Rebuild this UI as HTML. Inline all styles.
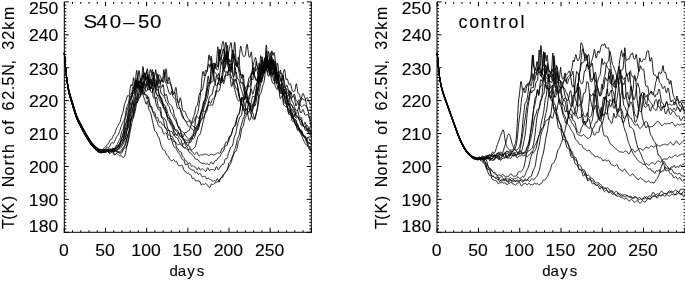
<!DOCTYPE html>
<html><head><meta charset="utf-8"><style>
html,body{margin:0;padding:0;background:#fff;width:685px;height:281px;overflow:hidden}
svg{display:block}
text{fill:#000;stroke:#000;stroke-width:0.12px}
svg{will-change:transform}
</style></head><body>
<svg width="685" height="281" viewBox="0 0 685 281" style="font-family:'Liberation Sans',sans-serif" shape-rendering="auto">
<line x1="64.30" y1="1.90" x2="64.30" y2="232.80" stroke="#000" stroke-width="1"/>
<line x1="63.80" y1="232.30" x2="311.80" y2="232.30" stroke="#000" stroke-width="1"/>
<line x1="311.30" y1="1.90" x2="311.30" y2="232.30" stroke="#000" stroke-width="1"/>
<line x1="64.30" y1="232.30" x2="68.80" y2="232.30" stroke="#000" stroke-width="1"/>
<line x1="306.80" y1="232.30" x2="311.30" y2="232.30" stroke="#000" stroke-width="1"/>
<line x1="64.30" y1="229.01" x2="66.30" y2="229.01" stroke="#000" stroke-width="1"/>
<line x1="309.30" y1="229.01" x2="311.30" y2="229.01" stroke="#000" stroke-width="1"/>
<line x1="64.30" y1="225.72" x2="66.30" y2="225.72" stroke="#000" stroke-width="1"/>
<line x1="309.30" y1="225.72" x2="311.30" y2="225.72" stroke="#000" stroke-width="1"/>
<line x1="64.30" y1="222.43" x2="66.30" y2="222.43" stroke="#000" stroke-width="1"/>
<line x1="309.30" y1="222.43" x2="311.30" y2="222.43" stroke="#000" stroke-width="1"/>
<line x1="64.30" y1="219.13" x2="66.30" y2="219.13" stroke="#000" stroke-width="1"/>
<line x1="309.30" y1="219.13" x2="311.30" y2="219.13" stroke="#000" stroke-width="1"/>
<line x1="64.30" y1="215.84" x2="66.30" y2="215.84" stroke="#000" stroke-width="1"/>
<line x1="309.30" y1="215.84" x2="311.30" y2="215.84" stroke="#000" stroke-width="1"/>
<line x1="64.30" y1="212.55" x2="66.30" y2="212.55" stroke="#000" stroke-width="1"/>
<line x1="309.30" y1="212.55" x2="311.30" y2="212.55" stroke="#000" stroke-width="1"/>
<line x1="64.30" y1="209.26" x2="66.30" y2="209.26" stroke="#000" stroke-width="1"/>
<line x1="309.30" y1="209.26" x2="311.30" y2="209.26" stroke="#000" stroke-width="1"/>
<line x1="64.30" y1="205.97" x2="66.30" y2="205.97" stroke="#000" stroke-width="1"/>
<line x1="309.30" y1="205.97" x2="311.30" y2="205.97" stroke="#000" stroke-width="1"/>
<line x1="64.30" y1="202.68" x2="66.30" y2="202.68" stroke="#000" stroke-width="1"/>
<line x1="309.30" y1="202.68" x2="311.30" y2="202.68" stroke="#000" stroke-width="1"/>
<line x1="64.30" y1="199.39" x2="68.80" y2="199.39" stroke="#000" stroke-width="1"/>
<line x1="306.80" y1="199.39" x2="311.30" y2="199.39" stroke="#000" stroke-width="1"/>
<line x1="64.30" y1="196.09" x2="66.30" y2="196.09" stroke="#000" stroke-width="1"/>
<line x1="309.30" y1="196.09" x2="311.30" y2="196.09" stroke="#000" stroke-width="1"/>
<line x1="64.30" y1="192.80" x2="66.30" y2="192.80" stroke="#000" stroke-width="1"/>
<line x1="309.30" y1="192.80" x2="311.30" y2="192.80" stroke="#000" stroke-width="1"/>
<line x1="64.30" y1="189.51" x2="66.30" y2="189.51" stroke="#000" stroke-width="1"/>
<line x1="309.30" y1="189.51" x2="311.30" y2="189.51" stroke="#000" stroke-width="1"/>
<line x1="64.30" y1="186.22" x2="66.30" y2="186.22" stroke="#000" stroke-width="1"/>
<line x1="309.30" y1="186.22" x2="311.30" y2="186.22" stroke="#000" stroke-width="1"/>
<line x1="64.30" y1="182.93" x2="66.30" y2="182.93" stroke="#000" stroke-width="1"/>
<line x1="309.30" y1="182.93" x2="311.30" y2="182.93" stroke="#000" stroke-width="1"/>
<line x1="64.30" y1="179.64" x2="66.30" y2="179.64" stroke="#000" stroke-width="1"/>
<line x1="309.30" y1="179.64" x2="311.30" y2="179.64" stroke="#000" stroke-width="1"/>
<line x1="64.30" y1="176.35" x2="66.30" y2="176.35" stroke="#000" stroke-width="1"/>
<line x1="309.30" y1="176.35" x2="311.30" y2="176.35" stroke="#000" stroke-width="1"/>
<line x1="64.30" y1="173.05" x2="66.30" y2="173.05" stroke="#000" stroke-width="1"/>
<line x1="309.30" y1="173.05" x2="311.30" y2="173.05" stroke="#000" stroke-width="1"/>
<line x1="64.30" y1="169.76" x2="66.30" y2="169.76" stroke="#000" stroke-width="1"/>
<line x1="309.30" y1="169.76" x2="311.30" y2="169.76" stroke="#000" stroke-width="1"/>
<line x1="64.30" y1="166.47" x2="68.80" y2="166.47" stroke="#000" stroke-width="1"/>
<line x1="306.80" y1="166.47" x2="311.30" y2="166.47" stroke="#000" stroke-width="1"/>
<line x1="64.30" y1="163.18" x2="66.30" y2="163.18" stroke="#000" stroke-width="1"/>
<line x1="309.30" y1="163.18" x2="311.30" y2="163.18" stroke="#000" stroke-width="1"/>
<line x1="64.30" y1="159.89" x2="66.30" y2="159.89" stroke="#000" stroke-width="1"/>
<line x1="309.30" y1="159.89" x2="311.30" y2="159.89" stroke="#000" stroke-width="1"/>
<line x1="64.30" y1="156.60" x2="66.30" y2="156.60" stroke="#000" stroke-width="1"/>
<line x1="309.30" y1="156.60" x2="311.30" y2="156.60" stroke="#000" stroke-width="1"/>
<line x1="64.30" y1="153.31" x2="66.30" y2="153.31" stroke="#000" stroke-width="1"/>
<line x1="309.30" y1="153.31" x2="311.30" y2="153.31" stroke="#000" stroke-width="1"/>
<line x1="64.30" y1="150.01" x2="66.30" y2="150.01" stroke="#000" stroke-width="1"/>
<line x1="309.30" y1="150.01" x2="311.30" y2="150.01" stroke="#000" stroke-width="1"/>
<line x1="64.30" y1="146.72" x2="66.30" y2="146.72" stroke="#000" stroke-width="1"/>
<line x1="309.30" y1="146.72" x2="311.30" y2="146.72" stroke="#000" stroke-width="1"/>
<line x1="64.30" y1="143.43" x2="66.30" y2="143.43" stroke="#000" stroke-width="1"/>
<line x1="309.30" y1="143.43" x2="311.30" y2="143.43" stroke="#000" stroke-width="1"/>
<line x1="64.30" y1="140.14" x2="66.30" y2="140.14" stroke="#000" stroke-width="1"/>
<line x1="309.30" y1="140.14" x2="311.30" y2="140.14" stroke="#000" stroke-width="1"/>
<line x1="64.30" y1="136.85" x2="66.30" y2="136.85" stroke="#000" stroke-width="1"/>
<line x1="309.30" y1="136.85" x2="311.30" y2="136.85" stroke="#000" stroke-width="1"/>
<line x1="64.30" y1="133.56" x2="68.80" y2="133.56" stroke="#000" stroke-width="1"/>
<line x1="306.80" y1="133.56" x2="311.30" y2="133.56" stroke="#000" stroke-width="1"/>
<line x1="64.30" y1="130.27" x2="66.30" y2="130.27" stroke="#000" stroke-width="1"/>
<line x1="309.30" y1="130.27" x2="311.30" y2="130.27" stroke="#000" stroke-width="1"/>
<line x1="64.30" y1="126.97" x2="66.30" y2="126.97" stroke="#000" stroke-width="1"/>
<line x1="309.30" y1="126.97" x2="311.30" y2="126.97" stroke="#000" stroke-width="1"/>
<line x1="64.30" y1="123.68" x2="66.30" y2="123.68" stroke="#000" stroke-width="1"/>
<line x1="309.30" y1="123.68" x2="311.30" y2="123.68" stroke="#000" stroke-width="1"/>
<line x1="64.30" y1="120.39" x2="66.30" y2="120.39" stroke="#000" stroke-width="1"/>
<line x1="309.30" y1="120.39" x2="311.30" y2="120.39" stroke="#000" stroke-width="1"/>
<line x1="64.30" y1="117.10" x2="66.30" y2="117.10" stroke="#000" stroke-width="1"/>
<line x1="309.30" y1="117.10" x2="311.30" y2="117.10" stroke="#000" stroke-width="1"/>
<line x1="64.30" y1="113.81" x2="66.30" y2="113.81" stroke="#000" stroke-width="1"/>
<line x1="309.30" y1="113.81" x2="311.30" y2="113.81" stroke="#000" stroke-width="1"/>
<line x1="64.30" y1="110.52" x2="66.30" y2="110.52" stroke="#000" stroke-width="1"/>
<line x1="309.30" y1="110.52" x2="311.30" y2="110.52" stroke="#000" stroke-width="1"/>
<line x1="64.30" y1="107.23" x2="66.30" y2="107.23" stroke="#000" stroke-width="1"/>
<line x1="309.30" y1="107.23" x2="311.30" y2="107.23" stroke="#000" stroke-width="1"/>
<line x1="64.30" y1="103.93" x2="66.30" y2="103.93" stroke="#000" stroke-width="1"/>
<line x1="309.30" y1="103.93" x2="311.30" y2="103.93" stroke="#000" stroke-width="1"/>
<line x1="64.30" y1="100.64" x2="68.80" y2="100.64" stroke="#000" stroke-width="1"/>
<line x1="306.80" y1="100.64" x2="311.30" y2="100.64" stroke="#000" stroke-width="1"/>
<line x1="64.30" y1="97.35" x2="66.30" y2="97.35" stroke="#000" stroke-width="1"/>
<line x1="309.30" y1="97.35" x2="311.30" y2="97.35" stroke="#000" stroke-width="1"/>
<line x1="64.30" y1="94.06" x2="66.30" y2="94.06" stroke="#000" stroke-width="1"/>
<line x1="309.30" y1="94.06" x2="311.30" y2="94.06" stroke="#000" stroke-width="1"/>
<line x1="64.30" y1="90.77" x2="66.30" y2="90.77" stroke="#000" stroke-width="1"/>
<line x1="309.30" y1="90.77" x2="311.30" y2="90.77" stroke="#000" stroke-width="1"/>
<line x1="64.30" y1="87.48" x2="66.30" y2="87.48" stroke="#000" stroke-width="1"/>
<line x1="309.30" y1="87.48" x2="311.30" y2="87.48" stroke="#000" stroke-width="1"/>
<line x1="64.30" y1="84.19" x2="66.30" y2="84.19" stroke="#000" stroke-width="1"/>
<line x1="309.30" y1="84.19" x2="311.30" y2="84.19" stroke="#000" stroke-width="1"/>
<line x1="64.30" y1="80.89" x2="66.30" y2="80.89" stroke="#000" stroke-width="1"/>
<line x1="309.30" y1="80.89" x2="311.30" y2="80.89" stroke="#000" stroke-width="1"/>
<line x1="64.30" y1="77.60" x2="66.30" y2="77.60" stroke="#000" stroke-width="1"/>
<line x1="309.30" y1="77.60" x2="311.30" y2="77.60" stroke="#000" stroke-width="1"/>
<line x1="64.30" y1="74.31" x2="66.30" y2="74.31" stroke="#000" stroke-width="1"/>
<line x1="309.30" y1="74.31" x2="311.30" y2="74.31" stroke="#000" stroke-width="1"/>
<line x1="64.30" y1="71.02" x2="66.30" y2="71.02" stroke="#000" stroke-width="1"/>
<line x1="309.30" y1="71.02" x2="311.30" y2="71.02" stroke="#000" stroke-width="1"/>
<line x1="64.30" y1="67.73" x2="68.80" y2="67.73" stroke="#000" stroke-width="1"/>
<line x1="306.80" y1="67.73" x2="311.30" y2="67.73" stroke="#000" stroke-width="1"/>
<line x1="64.30" y1="64.44" x2="66.30" y2="64.44" stroke="#000" stroke-width="1"/>
<line x1="309.30" y1="64.44" x2="311.30" y2="64.44" stroke="#000" stroke-width="1"/>
<line x1="64.30" y1="61.15" x2="66.30" y2="61.15" stroke="#000" stroke-width="1"/>
<line x1="309.30" y1="61.15" x2="311.30" y2="61.15" stroke="#000" stroke-width="1"/>
<line x1="64.30" y1="57.85" x2="66.30" y2="57.85" stroke="#000" stroke-width="1"/>
<line x1="309.30" y1="57.85" x2="311.30" y2="57.85" stroke="#000" stroke-width="1"/>
<line x1="64.30" y1="54.56" x2="66.30" y2="54.56" stroke="#000" stroke-width="1"/>
<line x1="309.30" y1="54.56" x2="311.30" y2="54.56" stroke="#000" stroke-width="1"/>
<line x1="64.30" y1="51.27" x2="66.30" y2="51.27" stroke="#000" stroke-width="1"/>
<line x1="309.30" y1="51.27" x2="311.30" y2="51.27" stroke="#000" stroke-width="1"/>
<line x1="64.30" y1="47.98" x2="66.30" y2="47.98" stroke="#000" stroke-width="1"/>
<line x1="309.30" y1="47.98" x2="311.30" y2="47.98" stroke="#000" stroke-width="1"/>
<line x1="64.30" y1="44.69" x2="66.30" y2="44.69" stroke="#000" stroke-width="1"/>
<line x1="309.30" y1="44.69" x2="311.30" y2="44.69" stroke="#000" stroke-width="1"/>
<line x1="64.30" y1="41.40" x2="66.30" y2="41.40" stroke="#000" stroke-width="1"/>
<line x1="309.30" y1="41.40" x2="311.30" y2="41.40" stroke="#000" stroke-width="1"/>
<line x1="64.30" y1="38.11" x2="66.30" y2="38.11" stroke="#000" stroke-width="1"/>
<line x1="309.30" y1="38.11" x2="311.30" y2="38.11" stroke="#000" stroke-width="1"/>
<line x1="64.30" y1="34.81" x2="68.80" y2="34.81" stroke="#000" stroke-width="1"/>
<line x1="306.80" y1="34.81" x2="311.30" y2="34.81" stroke="#000" stroke-width="1"/>
<line x1="64.30" y1="31.52" x2="66.30" y2="31.52" stroke="#000" stroke-width="1"/>
<line x1="309.30" y1="31.52" x2="311.30" y2="31.52" stroke="#000" stroke-width="1"/>
<line x1="64.30" y1="28.23" x2="66.30" y2="28.23" stroke="#000" stroke-width="1"/>
<line x1="309.30" y1="28.23" x2="311.30" y2="28.23" stroke="#000" stroke-width="1"/>
<line x1="64.30" y1="24.94" x2="66.30" y2="24.94" stroke="#000" stroke-width="1"/>
<line x1="309.30" y1="24.94" x2="311.30" y2="24.94" stroke="#000" stroke-width="1"/>
<line x1="64.30" y1="21.65" x2="66.30" y2="21.65" stroke="#000" stroke-width="1"/>
<line x1="309.30" y1="21.65" x2="311.30" y2="21.65" stroke="#000" stroke-width="1"/>
<line x1="64.30" y1="18.36" x2="66.30" y2="18.36" stroke="#000" stroke-width="1"/>
<line x1="309.30" y1="18.36" x2="311.30" y2="18.36" stroke="#000" stroke-width="1"/>
<line x1="64.30" y1="15.07" x2="66.30" y2="15.07" stroke="#000" stroke-width="1"/>
<line x1="309.30" y1="15.07" x2="311.30" y2="15.07" stroke="#000" stroke-width="1"/>
<line x1="64.30" y1="11.77" x2="66.30" y2="11.77" stroke="#000" stroke-width="1"/>
<line x1="309.30" y1="11.77" x2="311.30" y2="11.77" stroke="#000" stroke-width="1"/>
<line x1="64.30" y1="8.48" x2="66.30" y2="8.48" stroke="#000" stroke-width="1"/>
<line x1="309.30" y1="8.48" x2="311.30" y2="8.48" stroke="#000" stroke-width="1"/>
<line x1="64.30" y1="5.19" x2="66.30" y2="5.19" stroke="#000" stroke-width="1"/>
<line x1="309.30" y1="5.19" x2="311.30" y2="5.19" stroke="#000" stroke-width="1"/>
<line x1="64.30" y1="1.90" x2="68.80" y2="1.90" stroke="#000" stroke-width="1"/>
<line x1="306.80" y1="1.90" x2="311.30" y2="1.90" stroke="#000" stroke-width="1"/>
<line x1="64.30" y1="227.80" x2="64.30" y2="232.30" stroke="#000" stroke-width="1"/>
<line x1="64.30" y1="1.90" x2="64.30" y2="6.40" stroke="#000" stroke-width="1"/>
<line x1="72.53" y1="230.30" x2="72.53" y2="232.30" stroke="#000" stroke-width="1"/>
<line x1="72.53" y1="1.90" x2="72.53" y2="3.90" stroke="#000" stroke-width="1"/>
<line x1="80.77" y1="230.30" x2="80.77" y2="232.30" stroke="#000" stroke-width="1"/>
<line x1="80.77" y1="1.90" x2="80.77" y2="3.90" stroke="#000" stroke-width="1"/>
<line x1="89.00" y1="230.30" x2="89.00" y2="232.30" stroke="#000" stroke-width="1"/>
<line x1="89.00" y1="1.90" x2="89.00" y2="3.90" stroke="#000" stroke-width="1"/>
<line x1="97.23" y1="230.30" x2="97.23" y2="232.30" stroke="#000" stroke-width="1"/>
<line x1="97.23" y1="1.90" x2="97.23" y2="3.90" stroke="#000" stroke-width="1"/>
<line x1="105.47" y1="227.80" x2="105.47" y2="232.30" stroke="#000" stroke-width="1"/>
<line x1="105.47" y1="1.90" x2="105.47" y2="6.40" stroke="#000" stroke-width="1"/>
<line x1="113.70" y1="230.30" x2="113.70" y2="232.30" stroke="#000" stroke-width="1"/>
<line x1="113.70" y1="1.90" x2="113.70" y2="3.90" stroke="#000" stroke-width="1"/>
<line x1="121.93" y1="230.30" x2="121.93" y2="232.30" stroke="#000" stroke-width="1"/>
<line x1="121.93" y1="1.90" x2="121.93" y2="3.90" stroke="#000" stroke-width="1"/>
<line x1="130.17" y1="230.30" x2="130.17" y2="232.30" stroke="#000" stroke-width="1"/>
<line x1="130.17" y1="1.90" x2="130.17" y2="3.90" stroke="#000" stroke-width="1"/>
<line x1="138.40" y1="230.30" x2="138.40" y2="232.30" stroke="#000" stroke-width="1"/>
<line x1="138.40" y1="1.90" x2="138.40" y2="3.90" stroke="#000" stroke-width="1"/>
<line x1="146.63" y1="227.80" x2="146.63" y2="232.30" stroke="#000" stroke-width="1"/>
<line x1="146.63" y1="1.90" x2="146.63" y2="6.40" stroke="#000" stroke-width="1"/>
<line x1="154.87" y1="230.30" x2="154.87" y2="232.30" stroke="#000" stroke-width="1"/>
<line x1="154.87" y1="1.90" x2="154.87" y2="3.90" stroke="#000" stroke-width="1"/>
<line x1="163.10" y1="230.30" x2="163.10" y2="232.30" stroke="#000" stroke-width="1"/>
<line x1="163.10" y1="1.90" x2="163.10" y2="3.90" stroke="#000" stroke-width="1"/>
<line x1="171.33" y1="230.30" x2="171.33" y2="232.30" stroke="#000" stroke-width="1"/>
<line x1="171.33" y1="1.90" x2="171.33" y2="3.90" stroke="#000" stroke-width="1"/>
<line x1="179.57" y1="230.30" x2="179.57" y2="232.30" stroke="#000" stroke-width="1"/>
<line x1="179.57" y1="1.90" x2="179.57" y2="3.90" stroke="#000" stroke-width="1"/>
<line x1="187.80" y1="227.80" x2="187.80" y2="232.30" stroke="#000" stroke-width="1"/>
<line x1="187.80" y1="1.90" x2="187.80" y2="6.40" stroke="#000" stroke-width="1"/>
<line x1="196.03" y1="230.30" x2="196.03" y2="232.30" stroke="#000" stroke-width="1"/>
<line x1="196.03" y1="1.90" x2="196.03" y2="3.90" stroke="#000" stroke-width="1"/>
<line x1="204.27" y1="230.30" x2="204.27" y2="232.30" stroke="#000" stroke-width="1"/>
<line x1="204.27" y1="1.90" x2="204.27" y2="3.90" stroke="#000" stroke-width="1"/>
<line x1="212.50" y1="230.30" x2="212.50" y2="232.30" stroke="#000" stroke-width="1"/>
<line x1="212.50" y1="1.90" x2="212.50" y2="3.90" stroke="#000" stroke-width="1"/>
<line x1="220.73" y1="230.30" x2="220.73" y2="232.30" stroke="#000" stroke-width="1"/>
<line x1="220.73" y1="1.90" x2="220.73" y2="3.90" stroke="#000" stroke-width="1"/>
<line x1="228.97" y1="227.80" x2="228.97" y2="232.30" stroke="#000" stroke-width="1"/>
<line x1="228.97" y1="1.90" x2="228.97" y2="6.40" stroke="#000" stroke-width="1"/>
<line x1="237.20" y1="230.30" x2="237.20" y2="232.30" stroke="#000" stroke-width="1"/>
<line x1="237.20" y1="1.90" x2="237.20" y2="3.90" stroke="#000" stroke-width="1"/>
<line x1="245.43" y1="230.30" x2="245.43" y2="232.30" stroke="#000" stroke-width="1"/>
<line x1="245.43" y1="1.90" x2="245.43" y2="3.90" stroke="#000" stroke-width="1"/>
<line x1="253.67" y1="230.30" x2="253.67" y2="232.30" stroke="#000" stroke-width="1"/>
<line x1="253.67" y1="1.90" x2="253.67" y2="3.90" stroke="#000" stroke-width="1"/>
<line x1="261.90" y1="230.30" x2="261.90" y2="232.30" stroke="#000" stroke-width="1"/>
<line x1="261.90" y1="1.90" x2="261.90" y2="3.90" stroke="#000" stroke-width="1"/>
<line x1="270.13" y1="227.80" x2="270.13" y2="232.30" stroke="#000" stroke-width="1"/>
<line x1="270.13" y1="1.90" x2="270.13" y2="6.40" stroke="#000" stroke-width="1"/>
<line x1="278.37" y1="230.30" x2="278.37" y2="232.30" stroke="#000" stroke-width="1"/>
<line x1="278.37" y1="1.90" x2="278.37" y2="3.90" stroke="#000" stroke-width="1"/>
<line x1="286.60" y1="230.30" x2="286.60" y2="232.30" stroke="#000" stroke-width="1"/>
<line x1="286.60" y1="1.90" x2="286.60" y2="3.90" stroke="#000" stroke-width="1"/>
<line x1="294.83" y1="230.30" x2="294.83" y2="232.30" stroke="#000" stroke-width="1"/>
<line x1="294.83" y1="1.90" x2="294.83" y2="3.90" stroke="#000" stroke-width="1"/>
<line x1="303.07" y1="230.30" x2="303.07" y2="232.30" stroke="#000" stroke-width="1"/>
<line x1="303.07" y1="1.90" x2="303.07" y2="3.90" stroke="#000" stroke-width="1"/>
<line x1="311.30" y1="227.80" x2="311.30" y2="232.30" stroke="#000" stroke-width="1"/>
<line x1="311.30" y1="1.90" x2="311.30" y2="6.40" stroke="#000" stroke-width="1"/>
<text transform="scale(1.1,1)" x="26.28 35.20 44.10" y="13.60" font-size="16" >250</text>
<text transform="scale(1.1,1)" x="26.28 35.24 44.10" y="40.90" font-size="16" >240</text>
<text transform="scale(1.1,1)" x="26.28 35.23 44.10" y="74.80" font-size="16" >230</text>
<text transform="scale(1.1,1)" x="26.28 35.19 44.10" y="107.20" font-size="16" >220</text>
<text transform="scale(1.1,1)" x="26.28 34.97 44.10" y="140.20" font-size="16" >210</text>
<text transform="scale(1.1,1)" x="26.28 35.19 44.10" y="173.50" font-size="16" >200</text>
<text transform="scale(1.1,1)" x="26.06 35.19 44.10" y="206.40" font-size="16" >190</text>
<text transform="scale(1.1,1)" x="26.06 35.19 44.10" y="231.60" font-size="16" >180</text>
<text transform="scale(1.1,1)" x="53.55" y="256.00" font-size="16" >0</text>
<text transform="scale(1.1,1)" x="86.54 95.43" y="256.00" font-size="16" >50</text>
<text transform="scale(1.1,1)" x="119.27 128.40 137.31" y="256.00" font-size="16" >100</text>
<text transform="scale(1.1,1)" x="156.70 165.84 174.73" y="256.00" font-size="16" >150</text>
<text transform="scale(1.1,1)" x="194.34 203.25 212.16" y="256.00" font-size="16" >200</text>
<text transform="scale(1.1,1)" x="231.76 240.69 249.58" y="256.00" font-size="16" >250</text>
<text x="169.45 177.71 187.25 196.81" y="275.70" font-size="15" >days</text>
<text transform="translate(14.20,0) rotate(-90)" x="-228.88 -219.71 -213.50 -201.21 -187.28 -175.45 -165.26 -158.99 -152.98 -134.85 -124.65 -110.50 -99.85 -90.32 -85.43 -75.68 -64.52 -49.70 -39.75 -29.65 -20.07" y="0" font-size="16">T(K)Northof62.5N,32km</text>
<line x1="437.00" y1="1.90" x2="437.00" y2="232.80" stroke="#000" stroke-width="1"/>
<line x1="436.70" y1="232.30" x2="686.10" y2="232.30" stroke="#000" stroke-width="1"/>
<line x1="685.60" y1="1.90" x2="685.60" y2="232.30" stroke="#000" stroke-width="1"/>
<line x1="437.00" y1="232.30" x2="441.50" y2="232.30" stroke="#000" stroke-width="1"/>
<line x1="681.10" y1="232.30" x2="685.60" y2="232.30" stroke="#000" stroke-width="1"/>
<line x1="437.00" y1="229.01" x2="439.00" y2="229.01" stroke="#000" stroke-width="1"/>
<line x1="683.60" y1="229.01" x2="685.60" y2="229.01" stroke="#000" stroke-width="1"/>
<line x1="437.00" y1="225.72" x2="439.00" y2="225.72" stroke="#000" stroke-width="1"/>
<line x1="683.60" y1="225.72" x2="685.60" y2="225.72" stroke="#000" stroke-width="1"/>
<line x1="437.00" y1="222.43" x2="439.00" y2="222.43" stroke="#000" stroke-width="1"/>
<line x1="683.60" y1="222.43" x2="685.60" y2="222.43" stroke="#000" stroke-width="1"/>
<line x1="437.00" y1="219.13" x2="439.00" y2="219.13" stroke="#000" stroke-width="1"/>
<line x1="683.60" y1="219.13" x2="685.60" y2="219.13" stroke="#000" stroke-width="1"/>
<line x1="437.00" y1="215.84" x2="439.00" y2="215.84" stroke="#000" stroke-width="1"/>
<line x1="683.60" y1="215.84" x2="685.60" y2="215.84" stroke="#000" stroke-width="1"/>
<line x1="437.00" y1="212.55" x2="439.00" y2="212.55" stroke="#000" stroke-width="1"/>
<line x1="683.60" y1="212.55" x2="685.60" y2="212.55" stroke="#000" stroke-width="1"/>
<line x1="437.00" y1="209.26" x2="439.00" y2="209.26" stroke="#000" stroke-width="1"/>
<line x1="683.60" y1="209.26" x2="685.60" y2="209.26" stroke="#000" stroke-width="1"/>
<line x1="437.00" y1="205.97" x2="439.00" y2="205.97" stroke="#000" stroke-width="1"/>
<line x1="683.60" y1="205.97" x2="685.60" y2="205.97" stroke="#000" stroke-width="1"/>
<line x1="437.00" y1="202.68" x2="439.00" y2="202.68" stroke="#000" stroke-width="1"/>
<line x1="683.60" y1="202.68" x2="685.60" y2="202.68" stroke="#000" stroke-width="1"/>
<line x1="437.00" y1="199.39" x2="441.50" y2="199.39" stroke="#000" stroke-width="1"/>
<line x1="681.10" y1="199.39" x2="685.60" y2="199.39" stroke="#000" stroke-width="1"/>
<line x1="437.00" y1="196.09" x2="439.00" y2="196.09" stroke="#000" stroke-width="1"/>
<line x1="683.60" y1="196.09" x2="685.60" y2="196.09" stroke="#000" stroke-width="1"/>
<line x1="437.00" y1="192.80" x2="439.00" y2="192.80" stroke="#000" stroke-width="1"/>
<line x1="683.60" y1="192.80" x2="685.60" y2="192.80" stroke="#000" stroke-width="1"/>
<line x1="437.00" y1="189.51" x2="439.00" y2="189.51" stroke="#000" stroke-width="1"/>
<line x1="683.60" y1="189.51" x2="685.60" y2="189.51" stroke="#000" stroke-width="1"/>
<line x1="437.00" y1="186.22" x2="439.00" y2="186.22" stroke="#000" stroke-width="1"/>
<line x1="683.60" y1="186.22" x2="685.60" y2="186.22" stroke="#000" stroke-width="1"/>
<line x1="437.00" y1="182.93" x2="439.00" y2="182.93" stroke="#000" stroke-width="1"/>
<line x1="683.60" y1="182.93" x2="685.60" y2="182.93" stroke="#000" stroke-width="1"/>
<line x1="437.00" y1="179.64" x2="439.00" y2="179.64" stroke="#000" stroke-width="1"/>
<line x1="683.60" y1="179.64" x2="685.60" y2="179.64" stroke="#000" stroke-width="1"/>
<line x1="437.00" y1="176.35" x2="439.00" y2="176.35" stroke="#000" stroke-width="1"/>
<line x1="683.60" y1="176.35" x2="685.60" y2="176.35" stroke="#000" stroke-width="1"/>
<line x1="437.00" y1="173.05" x2="439.00" y2="173.05" stroke="#000" stroke-width="1"/>
<line x1="683.60" y1="173.05" x2="685.60" y2="173.05" stroke="#000" stroke-width="1"/>
<line x1="437.00" y1="169.76" x2="439.00" y2="169.76" stroke="#000" stroke-width="1"/>
<line x1="683.60" y1="169.76" x2="685.60" y2="169.76" stroke="#000" stroke-width="1"/>
<line x1="437.00" y1="166.47" x2="441.50" y2="166.47" stroke="#000" stroke-width="1"/>
<line x1="681.10" y1="166.47" x2="685.60" y2="166.47" stroke="#000" stroke-width="1"/>
<line x1="437.00" y1="163.18" x2="439.00" y2="163.18" stroke="#000" stroke-width="1"/>
<line x1="683.60" y1="163.18" x2="685.60" y2="163.18" stroke="#000" stroke-width="1"/>
<line x1="437.00" y1="159.89" x2="439.00" y2="159.89" stroke="#000" stroke-width="1"/>
<line x1="683.60" y1="159.89" x2="685.60" y2="159.89" stroke="#000" stroke-width="1"/>
<line x1="437.00" y1="156.60" x2="439.00" y2="156.60" stroke="#000" stroke-width="1"/>
<line x1="683.60" y1="156.60" x2="685.60" y2="156.60" stroke="#000" stroke-width="1"/>
<line x1="437.00" y1="153.31" x2="439.00" y2="153.31" stroke="#000" stroke-width="1"/>
<line x1="683.60" y1="153.31" x2="685.60" y2="153.31" stroke="#000" stroke-width="1"/>
<line x1="437.00" y1="150.01" x2="439.00" y2="150.01" stroke="#000" stroke-width="1"/>
<line x1="683.60" y1="150.01" x2="685.60" y2="150.01" stroke="#000" stroke-width="1"/>
<line x1="437.00" y1="146.72" x2="439.00" y2="146.72" stroke="#000" stroke-width="1"/>
<line x1="683.60" y1="146.72" x2="685.60" y2="146.72" stroke="#000" stroke-width="1"/>
<line x1="437.00" y1="143.43" x2="439.00" y2="143.43" stroke="#000" stroke-width="1"/>
<line x1="683.60" y1="143.43" x2="685.60" y2="143.43" stroke="#000" stroke-width="1"/>
<line x1="437.00" y1="140.14" x2="439.00" y2="140.14" stroke="#000" stroke-width="1"/>
<line x1="683.60" y1="140.14" x2="685.60" y2="140.14" stroke="#000" stroke-width="1"/>
<line x1="437.00" y1="136.85" x2="439.00" y2="136.85" stroke="#000" stroke-width="1"/>
<line x1="683.60" y1="136.85" x2="685.60" y2="136.85" stroke="#000" stroke-width="1"/>
<line x1="437.00" y1="133.56" x2="441.50" y2="133.56" stroke="#000" stroke-width="1"/>
<line x1="681.10" y1="133.56" x2="685.60" y2="133.56" stroke="#000" stroke-width="1"/>
<line x1="437.00" y1="130.27" x2="439.00" y2="130.27" stroke="#000" stroke-width="1"/>
<line x1="683.60" y1="130.27" x2="685.60" y2="130.27" stroke="#000" stroke-width="1"/>
<line x1="437.00" y1="126.97" x2="439.00" y2="126.97" stroke="#000" stroke-width="1"/>
<line x1="683.60" y1="126.97" x2="685.60" y2="126.97" stroke="#000" stroke-width="1"/>
<line x1="437.00" y1="123.68" x2="439.00" y2="123.68" stroke="#000" stroke-width="1"/>
<line x1="683.60" y1="123.68" x2="685.60" y2="123.68" stroke="#000" stroke-width="1"/>
<line x1="437.00" y1="120.39" x2="439.00" y2="120.39" stroke="#000" stroke-width="1"/>
<line x1="683.60" y1="120.39" x2="685.60" y2="120.39" stroke="#000" stroke-width="1"/>
<line x1="437.00" y1="117.10" x2="439.00" y2="117.10" stroke="#000" stroke-width="1"/>
<line x1="683.60" y1="117.10" x2="685.60" y2="117.10" stroke="#000" stroke-width="1"/>
<line x1="437.00" y1="113.81" x2="439.00" y2="113.81" stroke="#000" stroke-width="1"/>
<line x1="683.60" y1="113.81" x2="685.60" y2="113.81" stroke="#000" stroke-width="1"/>
<line x1="437.00" y1="110.52" x2="439.00" y2="110.52" stroke="#000" stroke-width="1"/>
<line x1="683.60" y1="110.52" x2="685.60" y2="110.52" stroke="#000" stroke-width="1"/>
<line x1="437.00" y1="107.23" x2="439.00" y2="107.23" stroke="#000" stroke-width="1"/>
<line x1="683.60" y1="107.23" x2="685.60" y2="107.23" stroke="#000" stroke-width="1"/>
<line x1="437.00" y1="103.93" x2="439.00" y2="103.93" stroke="#000" stroke-width="1"/>
<line x1="683.60" y1="103.93" x2="685.60" y2="103.93" stroke="#000" stroke-width="1"/>
<line x1="437.00" y1="100.64" x2="441.50" y2="100.64" stroke="#000" stroke-width="1"/>
<line x1="681.10" y1="100.64" x2="685.60" y2="100.64" stroke="#000" stroke-width="1"/>
<line x1="437.00" y1="97.35" x2="439.00" y2="97.35" stroke="#000" stroke-width="1"/>
<line x1="683.60" y1="97.35" x2="685.60" y2="97.35" stroke="#000" stroke-width="1"/>
<line x1="437.00" y1="94.06" x2="439.00" y2="94.06" stroke="#000" stroke-width="1"/>
<line x1="683.60" y1="94.06" x2="685.60" y2="94.06" stroke="#000" stroke-width="1"/>
<line x1="437.00" y1="90.77" x2="439.00" y2="90.77" stroke="#000" stroke-width="1"/>
<line x1="683.60" y1="90.77" x2="685.60" y2="90.77" stroke="#000" stroke-width="1"/>
<line x1="437.00" y1="87.48" x2="439.00" y2="87.48" stroke="#000" stroke-width="1"/>
<line x1="683.60" y1="87.48" x2="685.60" y2="87.48" stroke="#000" stroke-width="1"/>
<line x1="437.00" y1="84.19" x2="439.00" y2="84.19" stroke="#000" stroke-width="1"/>
<line x1="683.60" y1="84.19" x2="685.60" y2="84.19" stroke="#000" stroke-width="1"/>
<line x1="437.00" y1="80.89" x2="439.00" y2="80.89" stroke="#000" stroke-width="1"/>
<line x1="683.60" y1="80.89" x2="685.60" y2="80.89" stroke="#000" stroke-width="1"/>
<line x1="437.00" y1="77.60" x2="439.00" y2="77.60" stroke="#000" stroke-width="1"/>
<line x1="683.60" y1="77.60" x2="685.60" y2="77.60" stroke="#000" stroke-width="1"/>
<line x1="437.00" y1="74.31" x2="439.00" y2="74.31" stroke="#000" stroke-width="1"/>
<line x1="683.60" y1="74.31" x2="685.60" y2="74.31" stroke="#000" stroke-width="1"/>
<line x1="437.00" y1="71.02" x2="439.00" y2="71.02" stroke="#000" stroke-width="1"/>
<line x1="683.60" y1="71.02" x2="685.60" y2="71.02" stroke="#000" stroke-width="1"/>
<line x1="437.00" y1="67.73" x2="441.50" y2="67.73" stroke="#000" stroke-width="1"/>
<line x1="681.10" y1="67.73" x2="685.60" y2="67.73" stroke="#000" stroke-width="1"/>
<line x1="437.00" y1="64.44" x2="439.00" y2="64.44" stroke="#000" stroke-width="1"/>
<line x1="683.60" y1="64.44" x2="685.60" y2="64.44" stroke="#000" stroke-width="1"/>
<line x1="437.00" y1="61.15" x2="439.00" y2="61.15" stroke="#000" stroke-width="1"/>
<line x1="683.60" y1="61.15" x2="685.60" y2="61.15" stroke="#000" stroke-width="1"/>
<line x1="437.00" y1="57.85" x2="439.00" y2="57.85" stroke="#000" stroke-width="1"/>
<line x1="683.60" y1="57.85" x2="685.60" y2="57.85" stroke="#000" stroke-width="1"/>
<line x1="437.00" y1="54.56" x2="439.00" y2="54.56" stroke="#000" stroke-width="1"/>
<line x1="683.60" y1="54.56" x2="685.60" y2="54.56" stroke="#000" stroke-width="1"/>
<line x1="437.00" y1="51.27" x2="439.00" y2="51.27" stroke="#000" stroke-width="1"/>
<line x1="683.60" y1="51.27" x2="685.60" y2="51.27" stroke="#000" stroke-width="1"/>
<line x1="437.00" y1="47.98" x2="439.00" y2="47.98" stroke="#000" stroke-width="1"/>
<line x1="683.60" y1="47.98" x2="685.60" y2="47.98" stroke="#000" stroke-width="1"/>
<line x1="437.00" y1="44.69" x2="439.00" y2="44.69" stroke="#000" stroke-width="1"/>
<line x1="683.60" y1="44.69" x2="685.60" y2="44.69" stroke="#000" stroke-width="1"/>
<line x1="437.00" y1="41.40" x2="439.00" y2="41.40" stroke="#000" stroke-width="1"/>
<line x1="683.60" y1="41.40" x2="685.60" y2="41.40" stroke="#000" stroke-width="1"/>
<line x1="437.00" y1="38.11" x2="439.00" y2="38.11" stroke="#000" stroke-width="1"/>
<line x1="683.60" y1="38.11" x2="685.60" y2="38.11" stroke="#000" stroke-width="1"/>
<line x1="437.00" y1="34.81" x2="441.50" y2="34.81" stroke="#000" stroke-width="1"/>
<line x1="681.10" y1="34.81" x2="685.60" y2="34.81" stroke="#000" stroke-width="1"/>
<line x1="437.00" y1="31.52" x2="439.00" y2="31.52" stroke="#000" stroke-width="1"/>
<line x1="683.60" y1="31.52" x2="685.60" y2="31.52" stroke="#000" stroke-width="1"/>
<line x1="437.00" y1="28.23" x2="439.00" y2="28.23" stroke="#000" stroke-width="1"/>
<line x1="683.60" y1="28.23" x2="685.60" y2="28.23" stroke="#000" stroke-width="1"/>
<line x1="437.00" y1="24.94" x2="439.00" y2="24.94" stroke="#000" stroke-width="1"/>
<line x1="683.60" y1="24.94" x2="685.60" y2="24.94" stroke="#000" stroke-width="1"/>
<line x1="437.00" y1="21.65" x2="439.00" y2="21.65" stroke="#000" stroke-width="1"/>
<line x1="683.60" y1="21.65" x2="685.60" y2="21.65" stroke="#000" stroke-width="1"/>
<line x1="437.00" y1="18.36" x2="439.00" y2="18.36" stroke="#000" stroke-width="1"/>
<line x1="683.60" y1="18.36" x2="685.60" y2="18.36" stroke="#000" stroke-width="1"/>
<line x1="437.00" y1="15.07" x2="439.00" y2="15.07" stroke="#000" stroke-width="1"/>
<line x1="683.60" y1="15.07" x2="685.60" y2="15.07" stroke="#000" stroke-width="1"/>
<line x1="437.00" y1="11.77" x2="439.00" y2="11.77" stroke="#000" stroke-width="1"/>
<line x1="683.60" y1="11.77" x2="685.60" y2="11.77" stroke="#000" stroke-width="1"/>
<line x1="437.00" y1="8.48" x2="439.00" y2="8.48" stroke="#000" stroke-width="1"/>
<line x1="683.60" y1="8.48" x2="685.60" y2="8.48" stroke="#000" stroke-width="1"/>
<line x1="437.00" y1="5.19" x2="439.00" y2="5.19" stroke="#000" stroke-width="1"/>
<line x1="683.60" y1="5.19" x2="685.60" y2="5.19" stroke="#000" stroke-width="1"/>
<line x1="437.00" y1="1.90" x2="441.50" y2="1.90" stroke="#000" stroke-width="1"/>
<line x1="681.10" y1="1.90" x2="685.60" y2="1.90" stroke="#000" stroke-width="1"/>
<line x1="437.20" y1="227.80" x2="437.20" y2="232.30" stroke="#000" stroke-width="1"/>
<line x1="437.20" y1="1.90" x2="437.20" y2="6.40" stroke="#000" stroke-width="1"/>
<line x1="445.45" y1="230.30" x2="445.45" y2="232.30" stroke="#000" stroke-width="1"/>
<line x1="445.45" y1="1.90" x2="445.45" y2="3.90" stroke="#000" stroke-width="1"/>
<line x1="453.71" y1="230.30" x2="453.71" y2="232.30" stroke="#000" stroke-width="1"/>
<line x1="453.71" y1="1.90" x2="453.71" y2="3.90" stroke="#000" stroke-width="1"/>
<line x1="461.96" y1="230.30" x2="461.96" y2="232.30" stroke="#000" stroke-width="1"/>
<line x1="461.96" y1="1.90" x2="461.96" y2="3.90" stroke="#000" stroke-width="1"/>
<line x1="470.21" y1="230.30" x2="470.21" y2="232.30" stroke="#000" stroke-width="1"/>
<line x1="470.21" y1="1.90" x2="470.21" y2="3.90" stroke="#000" stroke-width="1"/>
<line x1="478.47" y1="227.80" x2="478.47" y2="232.30" stroke="#000" stroke-width="1"/>
<line x1="478.47" y1="1.90" x2="478.47" y2="6.40" stroke="#000" stroke-width="1"/>
<line x1="486.72" y1="230.30" x2="486.72" y2="232.30" stroke="#000" stroke-width="1"/>
<line x1="486.72" y1="1.90" x2="486.72" y2="3.90" stroke="#000" stroke-width="1"/>
<line x1="494.97" y1="230.30" x2="494.97" y2="232.30" stroke="#000" stroke-width="1"/>
<line x1="494.97" y1="1.90" x2="494.97" y2="3.90" stroke="#000" stroke-width="1"/>
<line x1="503.23" y1="230.30" x2="503.23" y2="232.30" stroke="#000" stroke-width="1"/>
<line x1="503.23" y1="1.90" x2="503.23" y2="3.90" stroke="#000" stroke-width="1"/>
<line x1="511.48" y1="230.30" x2="511.48" y2="232.30" stroke="#000" stroke-width="1"/>
<line x1="511.48" y1="1.90" x2="511.48" y2="3.90" stroke="#000" stroke-width="1"/>
<line x1="519.73" y1="227.80" x2="519.73" y2="232.30" stroke="#000" stroke-width="1"/>
<line x1="519.73" y1="1.90" x2="519.73" y2="6.40" stroke="#000" stroke-width="1"/>
<line x1="527.99" y1="230.30" x2="527.99" y2="232.30" stroke="#000" stroke-width="1"/>
<line x1="527.99" y1="1.90" x2="527.99" y2="3.90" stroke="#000" stroke-width="1"/>
<line x1="536.24" y1="230.30" x2="536.24" y2="232.30" stroke="#000" stroke-width="1"/>
<line x1="536.24" y1="1.90" x2="536.24" y2="3.90" stroke="#000" stroke-width="1"/>
<line x1="544.49" y1="230.30" x2="544.49" y2="232.30" stroke="#000" stroke-width="1"/>
<line x1="544.49" y1="1.90" x2="544.49" y2="3.90" stroke="#000" stroke-width="1"/>
<line x1="552.75" y1="230.30" x2="552.75" y2="232.30" stroke="#000" stroke-width="1"/>
<line x1="552.75" y1="1.90" x2="552.75" y2="3.90" stroke="#000" stroke-width="1"/>
<line x1="561.00" y1="227.80" x2="561.00" y2="232.30" stroke="#000" stroke-width="1"/>
<line x1="561.00" y1="1.90" x2="561.00" y2="6.40" stroke="#000" stroke-width="1"/>
<line x1="569.25" y1="230.30" x2="569.25" y2="232.30" stroke="#000" stroke-width="1"/>
<line x1="569.25" y1="1.90" x2="569.25" y2="3.90" stroke="#000" stroke-width="1"/>
<line x1="577.51" y1="230.30" x2="577.51" y2="232.30" stroke="#000" stroke-width="1"/>
<line x1="577.51" y1="1.90" x2="577.51" y2="3.90" stroke="#000" stroke-width="1"/>
<line x1="585.76" y1="230.30" x2="585.76" y2="232.30" stroke="#000" stroke-width="1"/>
<line x1="585.76" y1="1.90" x2="585.76" y2="3.90" stroke="#000" stroke-width="1"/>
<line x1="594.01" y1="230.30" x2="594.01" y2="232.30" stroke="#000" stroke-width="1"/>
<line x1="594.01" y1="1.90" x2="594.01" y2="3.90" stroke="#000" stroke-width="1"/>
<line x1="602.27" y1="227.80" x2="602.27" y2="232.30" stroke="#000" stroke-width="1"/>
<line x1="602.27" y1="1.90" x2="602.27" y2="6.40" stroke="#000" stroke-width="1"/>
<line x1="610.52" y1="230.30" x2="610.52" y2="232.30" stroke="#000" stroke-width="1"/>
<line x1="610.52" y1="1.90" x2="610.52" y2="3.90" stroke="#000" stroke-width="1"/>
<line x1="618.77" y1="230.30" x2="618.77" y2="232.30" stroke="#000" stroke-width="1"/>
<line x1="618.77" y1="1.90" x2="618.77" y2="3.90" stroke="#000" stroke-width="1"/>
<line x1="627.03" y1="230.30" x2="627.03" y2="232.30" stroke="#000" stroke-width="1"/>
<line x1="627.03" y1="1.90" x2="627.03" y2="3.90" stroke="#000" stroke-width="1"/>
<line x1="635.28" y1="230.30" x2="635.28" y2="232.30" stroke="#000" stroke-width="1"/>
<line x1="635.28" y1="1.90" x2="635.28" y2="3.90" stroke="#000" stroke-width="1"/>
<line x1="643.53" y1="227.80" x2="643.53" y2="232.30" stroke="#000" stroke-width="1"/>
<line x1="643.53" y1="1.90" x2="643.53" y2="6.40" stroke="#000" stroke-width="1"/>
<line x1="651.79" y1="230.30" x2="651.79" y2="232.30" stroke="#000" stroke-width="1"/>
<line x1="651.79" y1="1.90" x2="651.79" y2="3.90" stroke="#000" stroke-width="1"/>
<line x1="660.04" y1="230.30" x2="660.04" y2="232.30" stroke="#000" stroke-width="1"/>
<line x1="660.04" y1="1.90" x2="660.04" y2="3.90" stroke="#000" stroke-width="1"/>
<line x1="668.29" y1="230.30" x2="668.29" y2="232.30" stroke="#000" stroke-width="1"/>
<line x1="668.29" y1="1.90" x2="668.29" y2="3.90" stroke="#000" stroke-width="1"/>
<line x1="676.55" y1="230.30" x2="676.55" y2="232.30" stroke="#000" stroke-width="1"/>
<line x1="676.55" y1="1.90" x2="676.55" y2="3.90" stroke="#000" stroke-width="1"/>
<line x1="684.80" y1="227.80" x2="684.80" y2="232.30" stroke="#000" stroke-width="1"/>
<line x1="684.80" y1="1.90" x2="684.80" y2="6.40" stroke="#000" stroke-width="1"/>
<text transform="scale(1.1,1)" x="365.28 374.20 383.10" y="13.60" font-size="16" >250</text>
<text transform="scale(1.1,1)" x="365.28 374.24 383.10" y="40.90" font-size="16" >240</text>
<text transform="scale(1.1,1)" x="365.28 374.23 383.10" y="74.80" font-size="16" >230</text>
<text transform="scale(1.1,1)" x="365.28 374.19 383.10" y="107.20" font-size="16" >220</text>
<text transform="scale(1.1,1)" x="365.28 373.97 383.10" y="140.20" font-size="16" >210</text>
<text transform="scale(1.1,1)" x="365.28 374.19 383.10" y="173.50" font-size="16" >200</text>
<text transform="scale(1.1,1)" x="365.06 374.19 383.10" y="206.40" font-size="16" >190</text>
<text transform="scale(1.1,1)" x="365.06 374.19 383.10" y="231.60" font-size="16" >180</text>
<text transform="scale(1.1,1)" x="392.55" y="256.00" font-size="16" >0</text>
<text transform="scale(1.1,1)" x="425.63 434.52" y="256.00" font-size="16" >50</text>
<text transform="scale(1.1,1)" x="458.45 467.58 476.49" y="256.00" font-size="16" >100</text>
<text transform="scale(1.1,1)" x="495.97 505.11 514.01" y="256.00" font-size="16" >150</text>
<text transform="scale(1.1,1)" x="533.70 542.61 551.52" y="256.00" font-size="16" >200</text>
<text transform="scale(1.1,1)" x="571.22 580.14 589.04" y="256.00" font-size="16" >250</text>
<text x="542.35 550.61 560.15 569.71" y="275.70" font-size="15" >days</text>
<text transform="translate(387.10,0) rotate(-90)" x="-228.88 -219.71 -213.50 -201.21 -187.28 -175.45 -165.26 -158.99 -152.98 -134.85 -124.65 -110.50 -99.85 -90.32 -85.43 -75.68 -64.52 -49.70 -39.75 -29.65 -20.07" y="0" font-size="16">T(K)Northof62.5N,32km</text>
<text transform="scale(1.08,1)" x="77.23 89.22 101.52 114.17 127.70 138.84" y="27.90" font-size="19" >S40–50</text>
<text x="458.51 469.20 480.59 493.36 499.89 508.55 520.42" y="27.50" font-size="17.8" >control</text>
<polyline fill="none" stroke="#000" stroke-width="0.9" stroke-linejoin="round" points="64.30,52.92 64.60,56.54 65.02,61.78 65.50,67.43 65.95,72.28 66.36,76.09 66.77,79.47 67.18,82.54 67.59,85.39 67.97,87.88 68.31,90.02 68.71,92.13 69.24,94.55 69.57,95.82 69.93,97.13 70.32,98.49 70.73,99.88 71.17,101.31 71.61,102.77 72.07,104.25 72.53,105.74 72.91,106.97 73.29,108.25 73.68,109.56 74.08,110.89 74.49,112.22 74.90,113.56 75.33,114.87 75.76,116.16 76.20,117.40 76.65,118.58 77.03,119.53 77.43,120.45 77.83,121.35 78.24,122.23 78.65,123.09 79.07,123.93 79.49,124.76 79.91,125.58 80.34,126.39 80.76,127.19 81.18,127.99 81.59,128.78 82.00,129.58 82.41,130.36 82.82,131.13 83.24,131.89 83.65,132.65 84.06,133.39 84.47,134.13 84.88,134.86 85.30,135.57 85.71,136.28 86.12,136.98 86.53,137.67 86.94,138.36 87.35,139.04 87.77,139.71 88.18,140.38 88.59,141.04 89.00,141.68 89.41,142.32 89.82,142.94 90.23,143.54 90.65,144.13 91.06,144.70 91.47,145.24 91.88,145.77 92.30,146.29 92.72,146.79 93.15,147.28 93.57,147.75 93.99,148.20 94.41,148.64 94.82,149.06 95.23,149.45 95.63,149.83 96.03,150.18 96.41,150.51 96.86,150.87 97.30,151.21 97.73,151.52 98.16,151.80 98.57,152.05 98.98,152.27 99.38,152.46 99.77,152.61 100.15,152.73 100.53,152.81 100.96,152.85 101.33,152.81 101.68,152.72 102.02,152.59 102.38,152.44 102.78,152.25 103.26,151.95 103.82,151.54 104.14,151.35 104.49,151.26 104.85,151.32 105.24,151.51 105.64,151.73 106.05,151.84 106.47,151.78 106.91,151.60 107.35,151.45 107.79,151.37 108.24,151.30 108.68,151.07 109.12,150.61 109.56,150.07 109.99,149.68 110.41,149.55 110.82,149.62 111.24,149.65 111.67,149.41 112.09,148.90 112.52,148.38 112.95,148.23 113.38,148.61 113.80,149.30 114.23,149.75 114.64,149.58 115.06,148.79 115.46,147.66 115.86,146.60 116.25,145.80 116.63,145.25 116.99,144.77 117.46,143.95 117.91,142.92 118.34,141.89 118.76,141.09 119.17,140.51 119.57,139.95 119.96,139.09 120.35,137.75 120.74,135.97 121.13,134.07 121.53,132.45 121.93,131.43 122.34,130.89 122.76,130.38 123.17,129.37 123.58,127.60 123.99,125.25 124.40,122.77 124.81,120.30 125.23,118.45 125.64,117.16 126.05,115.60 126.46,113.56 126.87,111.42 127.28,109.57 127.70,108.24 128.11,107.33 128.52,106.39 128.93,104.98 129.34,103.01 129.75,100.91 130.17,99.33 130.58,98.66 130.99,98.69 131.40,98.11 131.81,94.79 132.23,89.67 132.66,87.13 133.09,87.57 133.52,87.48 133.96,86.71 134.39,86.18 134.81,85.20 135.23,83.32 135.63,81.14 136.03,79.89 136.40,80.37 136.75,82.36 137.22,85.94 137.62,88.26 137.96,89.16 138.30,89.26 138.64,89.12 139.03,88.60 139.49,86.57 140.05,86.21 140.36,88.85 140.70,91.77 141.05,92.91 141.42,92.47 141.81,91.98 142.20,92.30 142.61,93.51 143.03,95.17 143.46,96.67 143.90,97.71 144.34,98.54 144.79,99.69 145.25,101.34 145.71,103.08 146.17,104.22 146.63,104.00 147.01,102.51 147.39,101.27 147.78,102.32 148.17,105.22 148.58,107.84 148.98,109.50 149.39,110.62 149.81,111.36 150.23,111.95 150.65,112.82 151.07,114.31 151.49,116.35 151.92,118.57 152.34,120.57 152.77,122.32 153.19,124.10 153.62,126.06 154.04,128.11 154.45,129.88 154.87,131.01 155.28,131.45 155.70,131.53 156.12,131.75 156.54,132.49 156.96,133.76 157.39,135.18 157.81,136.29 158.24,136.92 158.66,137.31 159.09,137.92 159.51,139.09 159.93,140.79 160.34,142.69 160.75,144.40 161.16,145.71 161.56,146.64 161.95,147.41 162.34,148.19 162.73,148.97 163.10,149.64 163.55,150.09 163.99,150.12 164.41,150.06 164.82,150.30 165.22,151.07 165.62,152.27 166.01,153.59 166.39,154.65 166.78,155.24 167.17,155.40 167.56,155.42 167.96,155.65 168.37,156.32 168.80,157.38 169.23,158.50 169.69,159.32 170.06,159.67 170.44,159.86 170.82,160.06 171.20,160.38 171.59,160.73 171.98,160.91 172.38,160.75 172.78,160.27 173.19,159.74 173.60,159.51 174.01,159.79 174.43,160.49 174.85,161.22 175.28,161.61 175.71,161.57 176.14,161.37 176.58,161.49 177.02,162.24 177.47,163.47 177.92,164.73 178.30,165.45 178.69,165.75 179.08,165.75 179.47,165.67 179.87,165.67 180.27,165.75 180.68,165.75 181.09,165.55 181.50,165.23 181.92,165.11 182.34,165.52 182.76,166.59 183.18,168.08 183.60,169.51 184.02,170.45 184.45,170.80 184.87,170.84 185.29,171.01 185.71,171.55 186.13,172.37 186.55,173.13 186.97,173.53 187.39,173.50 187.80,173.28 188.21,173.17 188.63,173.35 189.06,173.76 189.48,174.16 189.91,174.35 190.35,174.45 190.78,174.74 191.22,175.50 191.65,176.67 192.08,177.86 192.52,178.61 192.95,178.73 193.37,178.45 193.80,178.24 194.22,178.48 194.63,179.21 195.04,180.12 195.44,180.84 195.84,181.14 196.22,181.06 196.60,180.84 196.97,180.70 197.33,180.74 197.68,180.87 198.18,181.02 198.67,180.94 199.13,180.84 199.58,181.12 200.01,181.95 200.43,183.12 200.83,184.21 201.23,184.83 201.62,184.87 202.00,184.49 202.38,184.04 202.76,183.80 203.13,183.89 203.51,184.22 203.88,184.52 204.27,184.55 204.69,184.21 205.10,183.74 205.48,183.44 205.85,183.47 206.22,183.82 206.58,184.32 206.94,184.80 207.32,185.13 207.70,185.36 208.11,185.65 208.54,186.21 209.00,187.02 209.49,187.67 210.03,187.43 210.36,186.72 210.72,185.73 211.08,184.76 211.47,184.13 211.86,184.01 212.27,184.28 212.68,184.57 213.11,184.55 213.54,184.13 213.98,183.56 214.42,183.17 214.87,183.06 215.31,183.05 215.76,182.84 216.20,182.36 216.65,181.85 217.09,181.63 217.52,181.81 217.94,182.13 218.36,182.19 218.77,181.73 219.16,180.81 219.54,179.74 219.91,178.88 220.38,178.31 220.85,178.24 221.30,178.18 221.74,177.69 222.17,176.73 222.59,175.61 223.01,174.71 223.42,174.19 223.82,173.93 224.22,173.70 224.61,173.31 225.00,172.75 225.39,172.16 225.78,171.72 226.16,171.45 226.55,171.20 226.93,170.67 227.32,169.63 227.75,167.86 228.18,165.85 228.61,164.13 229.02,163.05 229.44,162.55 229.85,162.28 230.26,161.82 230.66,160.96 231.07,159.79 231.47,158.58 231.88,157.56 232.28,156.74 232.68,155.93 233.09,154.90 233.50,153.53 233.91,151.98 234.32,150.49 234.73,149.27 235.14,148.25 235.55,147.16 235.96,145.69 236.38,143.78 236.79,141.68 237.20,139.76 237.61,138.35 238.02,137.47 238.44,136.81 238.85,135.88 239.26,134.35 239.67,132.29 240.08,130.06 240.49,128.09 240.90,126.54 241.32,125.26 241.73,123.94 242.14,122.38 242.55,120.73 242.96,119.23 243.38,118.08 243.79,117.19 244.20,116.13 244.61,114.40 245.02,111.75 245.43,107.97 245.84,103.48 246.26,100.62 246.67,100.92 247.08,102.33 247.49,102.49 247.90,101.35 248.31,99.45 248.73,97.34 249.14,95.61 249.55,94.43 249.96,93.32 250.37,91.35 250.79,88.00 251.20,83.84 251.61,80.39 252.02,79.00 252.43,79.64 252.84,79.98 253.25,76.72 253.67,72.00 254.08,71.52 254.49,74.59 254.90,76.85 255.31,78.21 255.73,79.74 256.14,80.77 256.55,80.57 256.96,79.18 257.37,77.34 257.78,75.93 258.19,75.41 258.61,75.59 259.02,75.89 259.43,75.84 259.84,75.46 260.25,74.62 260.67,71.57 261.09,66.87 261.51,66.51 261.94,71.21 262.37,73.74 262.80,71.77 263.22,68.20 263.65,64.68 264.07,62.27 264.49,61.76 264.90,63.07 265.31,65.24 265.71,67.12 266.10,68.27 266.47,69.03 266.84,69.91 267.30,71.40 267.72,72.37 268.11,70.64 268.49,65.62 268.85,61.65 269.21,63.14 269.57,68.55 269.95,72.91 270.35,74.31 270.79,74.07 271.26,72.99 271.78,72.17 272.11,72.61 272.46,74.01 272.81,76.17 273.16,78.48 273.53,80.23 273.90,80.93 274.29,80.60 274.68,79.80 275.08,79.25 275.49,78.57 275.90,75.33 276.32,70.17 276.76,68.91 277.20,72.33 277.65,75.89 278.10,79.39 278.57,83.56 279.04,86.68 279.52,87.69 280.01,87.22 280.37,86.84 280.74,87.08 281.12,88.24 281.50,90.16 281.89,92.23 282.30,93.74 282.70,94.32 283.11,93.71 283.53,91.45 283.95,89.72 284.38,92.21 284.81,97.33 285.24,100.71 285.67,101.89 286.11,102.27 286.54,102.58 286.98,103.19 287.41,103.97 287.84,104.50 288.27,104.47 288.70,103.96 289.12,103.56 289.54,104.02 289.95,105.76 290.36,108.46 290.76,111.00 291.15,112.23 291.54,112.52 291.98,113.25 292.42,114.52 292.85,115.68 293.28,116.83 293.71,117.90 294.13,118.56 294.54,118.83 294.96,119.04 295.37,119.57 295.77,120.51 296.18,121.65 296.58,122.68 296.99,123.34 297.39,123.77 297.79,124.31 298.19,125.32 298.59,126.86 298.99,128.64 299.39,130.14 299.79,130.99 300.20,131.15 300.60,130.98 301.01,130.98 301.42,131.50 301.84,132.55 302.27,133.78 302.72,134.71 303.18,135.15 303.65,135.33 304.12,135.67 304.60,136.29 305.08,136.97 305.56,137.37 306.04,137.56 306.51,138.00 306.98,139.08 307.44,140.74 307.88,142.42 308.32,143.55 308.74,143.92 309.14,143.78 309.52,143.52 309.89,143.47 310.23,143.69 310.54,144.09 310.82,144.51 311.08,144.85 311.30,145.07"/>
<polyline fill="none" stroke="#000" stroke-width="0.9" stroke-linejoin="round" points="64.30,52.92 64.60,56.41 65.02,61.45 65.50,66.88 65.95,71.54 66.36,75.16 66.77,78.36 67.18,81.23 67.59,83.90 67.97,86.22 68.31,88.20 68.71,90.13 69.24,92.32 69.57,93.58 69.93,94.89 70.32,96.25 70.73,97.64 71.17,99.07 71.61,100.53 72.07,102.01 72.53,103.51 72.91,104.74 73.29,106.01 73.68,107.32 74.08,108.65 74.49,109.99 74.90,111.32 75.33,112.63 75.76,113.92 76.20,115.16 76.65,116.34 77.03,117.29 77.43,118.21 77.83,119.11 78.24,119.99 78.65,120.85 79.07,121.69 79.49,122.52 79.91,123.34 80.34,124.15 80.76,124.95 81.18,125.75 81.59,126.55 82.00,127.34 82.41,128.12 82.82,128.89 83.24,129.66 83.65,130.41 84.06,131.15 84.47,131.89 84.88,132.62 85.30,133.34 85.71,134.04 86.12,134.74 86.53,135.43 86.94,136.12 87.35,136.80 87.77,137.47 88.18,138.14 88.59,138.80 89.00,139.45 89.41,140.08 89.82,140.70 90.23,141.30 90.65,141.89 91.06,142.46 91.47,143.00 91.88,143.53 92.30,144.05 92.72,144.55 93.15,145.04 93.57,145.51 93.99,145.97 94.41,146.40 94.82,146.82 95.23,147.22 95.63,147.59 96.03,147.94 96.41,148.27 96.85,148.64 97.27,148.97 97.68,149.28 98.08,149.56 98.47,149.81 98.86,150.03 99.26,150.22 99.66,150.37 100.09,150.49 100.53,150.57 100.90,150.60 101.28,150.59 101.67,150.54 102.05,150.47 102.44,150.37 102.84,150.24 103.25,150.10 103.67,149.95 104.10,149.82 104.54,149.71 104.99,149.64 105.47,149.62 105.83,149.67 106.21,149.77 106.60,149.88 107.00,149.92 107.40,149.80 107.82,149.48 108.23,149.06 108.66,148.77 109.08,148.86 109.51,149.41 109.94,150.23 110.37,150.91 110.79,151.07 111.22,150.58 111.64,149.68 112.05,148.82 112.47,148.40 112.89,148.56 113.31,149.11 113.74,149.57 114.17,149.56 114.60,149.09 115.02,148.49 115.45,148.14 115.87,148.21 116.29,148.51 116.70,148.70 117.11,148.48 117.51,147.85 117.90,147.01 118.27,146.23 118.64,145.70 119.11,145.34 119.56,145.09 119.99,144.56 120.41,143.64 120.82,142.51 121.21,141.45 121.61,140.72 121.99,140.34 122.38,140.17 122.78,139.90 123.17,139.22 123.58,137.90 123.99,135.95 124.40,133.65 124.81,131.38 125.23,129.41 125.64,127.84 126.05,126.56 126.46,125.40 126.87,124.15 127.28,122.68 127.70,120.92 128.11,118.92 128.52,116.70 128.93,114.38 129.32,112.21 129.72,110.45 130.11,109.24 130.49,108.52 130.89,107.99 131.28,107.24 131.69,105.92 132.11,103.92 132.54,101.59 132.99,99.49 133.46,97.96 133.83,96.83 134.22,94.99 134.62,91.58 135.03,86.54 135.45,82.01 135.88,80.70 136.32,82.30 136.75,84.08 137.19,84.70 137.62,84.52 138.05,83.79 138.48,82.71 138.89,81.83 139.29,81.63 139.68,82.17 140.05,83.00 140.51,83.48 140.93,82.57 141.32,80.47 141.69,77.98 142.05,75.95 142.41,75.03 142.78,75.51 143.16,76.92 143.56,77.67 143.99,76.29 144.46,74.41 144.99,75.17 145.32,76.41 145.68,77.26 146.04,77.72 146.42,78.13 146.81,78.35 147.21,78.31 147.62,78.50 148.04,79.63 148.47,81.82 148.90,84.47 149.33,86.84 149.77,88.61 150.21,89.92 150.65,90.96 151.08,91.81 151.52,92.49 151.95,92.88 152.38,92.33 152.80,90.56 153.22,89.05 153.63,89.59 154.04,92.00 154.45,94.81 154.87,97.34 155.28,99.76 155.69,102.02 156.10,103.87 156.51,105.29 156.93,106.44 157.34,107.49 157.75,108.48 158.16,109.30 158.57,109.76 158.98,109.82 159.39,109.77 159.81,110.16 160.22,111.41 160.63,113.46 161.04,115.69 161.45,117.30 161.87,118.01 162.29,118.14 162.71,118.20 163.14,118.77 163.57,120.36 164.00,122.75 164.43,125.23 164.87,127.01 165.30,127.77 165.72,127.82 166.15,127.86 166.57,128.51 166.99,129.94 167.40,131.81 167.80,133.55 168.20,134.71 168.59,135.19 168.96,135.21 169.33,135.12 169.69,135.24 170.16,135.96 170.58,137.08 170.97,138.27 171.32,139.34 171.66,140.28 171.98,141.15 172.31,142.04 172.65,143.04 173.01,144.18 173.40,145.43 173.82,146.58 174.30,147.34 174.84,147.58 175.45,147.65 175.76,147.87 176.08,148.32 176.42,148.99 176.77,149.82 177.13,150.67 177.50,151.44 177.88,152.06 178.27,152.56 178.67,153.00 179.08,153.47 179.49,154.01 179.92,154.65 180.34,155.40 180.78,156.30 181.21,157.32 181.65,158.36 182.10,159.21 182.54,159.69 182.99,159.85 183.44,159.96 183.89,160.42 184.33,161.44 184.78,162.88 185.22,164.24 185.67,165.00 186.10,164.95 186.54,164.35 186.96,163.77 187.38,163.73 187.80,164.43 188.21,165.66 188.62,166.98 189.02,167.98 189.43,168.47 189.83,168.58 190.23,168.62 190.63,168.85 191.03,169.33 191.43,169.90 191.83,170.29 192.22,170.34 192.62,170.10 193.02,169.83 193.42,169.84 193.82,170.31 194.22,171.16 194.63,172.06 195.03,172.65 195.44,172.74 195.85,172.42 196.26,172.06 196.68,172.02 197.10,172.49 197.52,173.32 197.95,174.11 198.38,174.49 198.81,174.31 199.25,173.79 199.70,173.35 200.15,173.38 200.53,173.85 200.92,174.65 201.32,175.54 201.72,176.32 202.14,176.82 202.55,177.00 202.98,176.90 203.40,176.61 203.84,176.26 204.27,176.02 204.71,176.07 205.15,176.52 205.59,177.31 206.04,178.17 206.48,178.78 206.93,178.92 207.37,178.63 207.82,178.24 208.26,178.08 208.70,178.33 209.14,178.85 209.57,179.36 210.00,179.62 210.43,179.60 210.85,179.54 211.26,179.67 211.67,180.10 212.07,180.72 212.47,181.25 212.85,181.48 213.23,181.35 213.60,181.00 213.96,180.65 214.31,180.50 214.64,180.60 214.97,180.87 215.53,181.24 216.06,180.88 216.57,179.86 217.05,178.92 217.51,178.74 217.95,179.43 218.37,180.59 218.78,181.57 219.17,181.91 219.55,181.47 219.92,180.45 220.29,179.22 220.64,178.15 221.00,177.48 221.36,177.25 221.71,177.32 222.08,177.45 222.44,177.39 222.82,177.00 223.20,176.30 223.64,175.34 224.07,174.43 224.50,173.69 224.92,173.07 225.34,172.44 225.76,171.76 226.18,171.04 226.60,170.39 227.01,169.83 227.42,169.33 227.83,168.79 228.23,168.12 228.64,167.33 229.04,166.48 229.44,165.68 229.83,164.98 230.22,164.32 230.61,163.59 231.05,162.57 231.48,161.31 231.90,159.90 232.32,158.49 232.73,157.19 233.14,156.00 233.55,154.89 233.96,153.82 234.36,152.86 234.77,152.13 235.17,151.68 235.57,151.46 235.98,151.22 236.38,150.61 236.79,149.35 237.20,147.43 237.61,145.15 238.02,143.02 238.44,141.45 238.85,140.52 239.26,139.96 239.67,139.26 240.08,137.97 240.49,135.92 240.90,133.38 241.32,130.91 241.73,129.02 242.14,127.90 242.55,127.29 242.96,126.64 243.38,125.50 243.79,123.72 244.20,121.57 244.61,119.50 245.02,118.00 245.43,117.01 245.84,116.20 246.26,115.13 246.67,113.51 247.08,111.29 247.49,108.62 247.90,105.81 248.31,103.22 248.73,101.14 249.14,99.53 249.55,98.08 249.96,96.28 250.37,93.68 250.79,90.62 251.20,88.85 251.61,89.77 252.02,92.31 252.43,94.15 252.84,94.32 253.25,93.32 253.67,91.71 254.08,89.89 254.49,88.15 254.90,86.69 255.31,85.57 255.73,84.79 256.14,84.30 256.55,83.92 256.96,83.37 257.37,82.34 257.79,80.68 258.22,78.60 258.65,76.56 259.07,74.41 259.50,71.16 259.93,67.39 260.36,65.40 260.78,65.39 261.20,65.36 261.61,64.84 262.02,65.13 262.41,66.64 262.80,68.74 263.18,70.78 263.55,72.34 264.01,73.11 264.45,72.25 264.86,70.35 265.25,68.33 265.64,66.91 266.02,66.33 266.39,66.38 266.78,66.58 267.17,66.48 267.59,65.83 268.02,64.04 268.49,60.85 268.85,59.63 269.21,61.78 269.57,66.85 269.94,71.84 270.31,74.21 270.69,73.93 271.08,72.51 271.47,71.28 271.88,71.00 272.29,71.57 272.72,72.06 273.16,71.67 273.61,70.73 274.08,70.57 274.57,72.13 275.07,75.04 275.42,77.24 275.78,79.38 276.14,81.36 276.51,82.91 276.89,83.28 277.27,81.85 277.66,79.69 278.06,79.17 278.46,81.11 278.87,83.75 279.29,85.49 279.70,86.67 280.13,88.11 280.55,89.93 280.98,91.84 281.42,93.37 281.85,94.15 282.29,94.10 282.73,93.62 283.17,93.35 283.62,93.80 284.06,95.02 284.51,96.54 284.95,97.57 285.34,97.69 285.72,97.06 286.10,96.01 286.48,95.56 286.87,96.84 287.26,99.79 287.64,102.90 288.03,104.74 288.42,105.27 288.81,105.37 289.21,105.84 289.61,107.06 290.01,108.94 290.41,111.00 290.81,112.60 291.22,113.35 291.64,113.36 292.05,113.22 292.47,113.66 292.90,115.09 293.33,117.27 293.76,119.44 294.20,120.72 294.65,120.74 295.10,119.96 295.55,119.30 296.01,119.66 296.48,121.29 296.85,123.14 297.24,125.06 297.65,126.60 298.06,127.55 298.49,128.04 298.93,128.43 299.38,129.01 299.84,129.81 300.30,130.65 300.77,131.35 301.25,131.98 301.72,132.75 302.21,133.78 302.69,134.96 303.17,135.99 303.65,136.68 304.13,137.10 304.61,137.51 305.08,138.15 305.55,139.05 306.01,140.07 306.46,141.06 306.90,141.98 307.34,142.85 307.76,143.71 308.17,144.54 308.56,145.30 308.94,145.96 309.30,146.53 309.65,147.10 309.98,147.70 310.29,148.35 310.57,149.01 310.84,149.62 311.08,150.12 311.30,150.48"/>
<polyline fill="none" stroke="#000" stroke-width="0.9" stroke-linejoin="round" points="64.30,52.92 64.60,56.49 65.02,61.66 65.50,67.22 65.95,72.00 66.36,75.74 66.77,79.05 67.18,82.04 67.59,84.82 67.97,87.25 68.31,89.32 68.71,91.36 69.24,93.70 69.57,94.96 69.93,96.27 70.32,97.63 70.73,99.03 71.17,100.46 71.61,101.91 72.07,103.39 72.53,104.89 72.91,106.12 73.29,107.39 73.68,108.70 74.08,110.03 74.49,111.37 74.90,112.70 75.33,114.02 75.76,115.30 76.20,116.54 76.65,117.73 77.03,118.67 77.43,119.59 77.83,120.49 78.24,121.37 78.65,122.23 79.07,123.08 79.49,123.91 79.91,124.72 80.34,125.53 80.76,126.34 81.18,127.13 81.59,127.93 82.00,128.72 82.41,129.50 82.82,130.28 83.24,131.04 83.65,131.79 84.06,132.54 84.47,133.27 84.88,134.00 85.30,134.72 85.71,135.43 86.12,136.13 86.53,136.82 86.94,137.50 87.35,138.18 87.77,138.86 88.18,139.52 88.59,140.18 89.00,140.83 89.41,141.46 89.82,142.08 90.23,142.69 90.65,143.27 91.06,143.84 91.47,144.39 91.88,144.92 92.30,145.43 92.72,145.94 93.15,146.42 93.57,146.89 93.99,147.35 94.41,147.79 94.82,148.20 95.23,148.60 95.63,148.97 96.03,149.33 96.41,149.65 96.86,150.02 97.30,150.35 97.73,150.65 98.16,150.91 98.57,151.16 98.98,151.37 99.38,151.55 99.77,151.71 100.15,151.85 100.53,151.96 100.96,152.04 101.33,152.07 101.68,152.01 102.02,151.92 102.38,151.84 102.78,151.76 103.26,151.66 103.82,151.57 104.14,151.57 104.49,151.65 104.85,151.80 105.24,151.98 105.64,152.07 106.05,151.97 106.47,151.69 106.91,151.37 107.35,151.20 107.79,151.29 108.24,151.48 108.68,151.50 109.12,151.20 109.56,150.66 109.99,150.17 110.41,149.97 110.82,150.11 111.24,150.48 111.67,150.79 112.09,150.90 112.52,150.84 112.95,150.83 113.38,150.98 113.80,151.16 114.23,151.02 114.64,150.35 115.06,149.23 115.46,148.02 115.86,147.15 116.25,146.87 116.63,147.08 116.99,147.47 117.46,147.70 117.91,147.24 118.34,146.23 118.76,145.06 119.17,144.10 119.57,143.45 119.96,142.95 120.35,142.38 120.74,141.54 121.13,140.44 121.53,139.21 121.93,138.03 122.34,136.95 122.76,135.76 123.17,134.17 123.58,131.97 123.99,129.32 124.40,126.70 124.81,124.70 125.23,123.64 125.64,123.33 126.05,123.16 126.46,122.33 126.87,120.78 127.28,118.37 127.68,115.49 128.07,112.72 128.46,110.32 128.85,108.20 129.24,105.78 129.64,102.44 130.04,98.68 130.46,96.43 130.89,96.63 131.34,97.65 131.81,97.54 132.18,96.44 132.57,94.49 132.97,92.00 133.38,89.28 133.81,86.13 134.24,83.45 134.67,83.90 135.11,87.44 135.54,89.93 135.98,88.97 136.41,86.12 136.83,83.35 137.24,81.39 137.64,80.02 138.03,78.00 138.40,74.58 138.86,70.49 139.30,70.94 139.71,74.96 140.11,78.71 140.49,80.54 140.87,80.80 141.25,79.84 141.63,77.89 142.03,75.03 142.44,70.86 142.88,66.62 143.34,67.16 143.70,72.00 144.07,77.42 144.45,80.26 144.83,80.34 145.22,79.32 145.62,78.46 146.02,78.33 146.43,78.67 146.84,78.03 147.26,75.72 147.69,74.43 148.13,77.22 148.57,82.58 149.01,86.95 149.47,89.35 149.93,90.14 150.30,89.63 150.68,88.22 151.06,85.85 151.44,83.30 151.83,82.90 152.22,86.28 152.62,91.74 153.02,95.99 153.43,97.77 153.84,98.02 154.25,97.89 154.67,98.04 155.09,98.59 155.52,98.74 155.95,97.80 156.38,96.97 156.82,98.10 157.26,100.88 157.71,103.71 158.16,106.00 158.54,107.44 158.93,108.21 159.33,108.21 159.74,107.54 160.15,106.95 160.57,107.83 161.00,110.71 161.42,114.22 161.85,116.67 162.29,117.66 162.72,117.72 163.15,117.55 163.58,117.68 164.02,118.21 164.44,118.83 164.87,119.38 165.29,119.84 165.71,120.35 166.11,121.32 166.52,122.89 166.91,124.83 167.30,126.69 167.67,128.11 168.04,128.99 168.51,129.63 168.95,130.30 169.38,131.42 169.79,132.92 170.19,134.44 170.57,135.57 170.95,136.13 171.32,136.23 171.69,136.14 172.07,136.19 172.44,136.61 172.83,137.40 173.22,138.39 173.63,139.33 174.05,140.07 174.50,140.73 174.96,141.69 175.45,143.24 175.80,144.61 176.16,145.97 176.53,147.09 176.91,147.80 177.29,148.19 177.68,148.48 178.07,148.95 178.47,149.73 178.88,150.67 179.29,151.46 179.70,151.84 180.12,151.81 180.54,151.70 180.97,151.94 181.40,152.77 181.83,154.07 182.26,155.42 182.69,156.43 183.13,157.00 183.56,157.38 183.99,157.92 184.43,158.78 184.86,159.81 185.29,160.66 185.72,161.11 186.15,161.21 186.55,161.28 186.95,161.58 187.36,162.18 187.76,162.91 188.17,163.43 188.58,163.51 189.00,163.22 189.41,162.90 189.83,162.96 190.24,163.59 190.66,164.65 191.08,165.70 191.50,166.32 191.92,166.37 192.34,166.05 192.75,165.74 193.17,165.74 193.59,166.06 194.01,166.50 194.42,166.82 194.84,166.97 195.25,167.11 195.66,167.47 196.07,168.13 196.48,168.89 196.88,169.44 197.28,169.47 197.68,168.99 198.11,168.20 198.53,167.64 198.95,167.67 199.36,168.31 199.78,169.18 200.19,169.81 200.60,169.93 201.01,169.57 201.41,169.06 201.82,168.72 202.22,168.74 202.63,169.03 203.03,169.39 203.44,169.64 203.84,169.79 204.24,170.00 204.65,170.42 205.06,171.00 205.46,171.48 205.87,171.51 206.29,170.87 206.70,169.72 207.12,168.51 207.54,167.79 207.96,167.87 208.38,168.64 208.78,169.57 209.19,170.24 209.61,170.38 210.04,170.08 210.47,169.67 210.90,169.45 211.34,169.50 211.78,169.62 212.23,169.59 212.68,169.44 213.12,169.37 213.57,169.60 214.01,170.05 214.46,170.34 214.89,170.05 215.33,169.09 215.76,167.83 216.18,166.87 216.60,166.66 217.01,167.25 217.41,168.27 217.81,169.22 218.19,169.71 218.56,169.66 218.92,169.21 219.26,168.62 219.59,168.06 219.91,167.60 220.50,166.87 221.03,166.07 221.51,165.22 221.95,164.61 222.36,164.40 222.74,164.47 223.10,164.57 223.45,164.43 223.79,163.87 224.13,162.84 224.49,161.48 224.86,160.04 225.25,158.91 225.67,158.40 226.06,158.46 226.45,158.65 226.85,158.52 227.24,157.82 227.64,156.58 228.05,155.05 228.45,153.54 228.86,152.23 229.28,151.06 229.69,149.89 230.11,148.67 230.54,147.53 230.96,146.72 231.39,146.36 231.82,146.27 232.26,145.98 232.65,145.13 233.05,143.56 233.45,141.47 233.85,139.27 234.26,137.38 234.67,136.05 235.08,135.11 235.50,134.14 235.91,132.71 236.33,130.70 236.75,128.36 237.17,126.12 237.59,124.28 238.01,122.81 238.43,121.45 238.84,119.94 239.26,118.24 239.67,117.08 240.08,116.58 240.50,116.48 240.91,116.42 241.33,115.77 241.75,114.06 242.17,111.34 242.59,108.15 243.01,104.88 243.43,101.74 243.84,99.57 244.26,99.18 244.67,99.65 245.08,99.19 245.49,97.53 245.89,95.71 246.29,94.25 246.69,92.36 247.08,89.31 247.51,85.96 247.94,85.15 248.37,86.23 248.78,86.86 249.20,86.71 249.61,86.59 250.02,86.32 250.42,85.25 250.83,83.15 251.23,80.32 251.64,76.71 252.04,72.05 252.44,68.11 252.85,67.91 253.26,71.20 253.67,74.00 254.08,73.95 254.49,72.42 254.90,71.05 255.31,69.10 255.73,65.23 256.14,61.50 256.55,61.69 256.96,65.20 257.37,68.03 257.78,68.93 258.19,69.63 258.61,70.87 259.02,71.97 259.43,72.28 259.84,71.63 260.25,69.84 260.66,66.26 261.05,62.21 261.44,61.06 261.82,63.99 262.20,68.00 262.58,69.64 262.96,68.60 263.34,66.79 263.73,65.20 264.13,62.86 264.54,59.33 264.96,57.86 265.40,61.57 265.86,67.24 266.34,70.08 266.84,71.31 267.19,72.58 267.54,74.13 267.91,75.47 268.28,76.20 268.66,76.14 269.04,74.91 269.43,71.97 269.83,68.69 270.23,68.38 270.64,71.94 271.05,75.75 271.47,76.58 271.89,75.26 272.32,73.98 272.75,72.79 273.18,71.20 273.62,71.63 274.06,76.30 274.50,82.27 274.94,85.52 275.38,86.48 275.83,87.27 276.27,88.35 276.72,89.26 277.10,89.54 277.49,89.25 277.88,88.10 278.28,86.08 278.68,84.78 279.08,86.26 279.49,89.96 279.89,92.95 280.30,93.68 280.72,93.13 281.13,92.61 281.54,92.27 281.96,92.43 282.38,94.50 282.80,98.76 283.22,102.94 283.64,105.03 284.06,105.47 284.48,105.56 284.91,105.86 285.33,106.33 285.75,106.69 286.17,106.82 286.59,106.69 287.00,106.51 287.42,107.12 287.83,109.21 288.25,112.04 288.66,114.09 289.07,114.66 289.48,114.22 289.89,113.59 290.31,113.41 290.72,114.16 291.13,116.04 291.54,118.43 291.95,120.32 292.36,121.20 292.77,121.36 293.19,121.33 293.60,121.51 294.01,121.96 294.42,122.49 294.83,122.94 295.25,123.34 295.66,123.97 296.07,125.10 296.48,126.75 296.89,128.56 297.30,129.96 297.71,130.49 298.13,130.10 298.54,129.22 298.95,128.54 299.36,128.60 299.77,129.52 300.19,130.97 300.62,132.42 301.07,133.40 301.52,133.83 301.98,134.03 302.45,134.34 302.93,134.83 303.40,135.23 303.88,135.36 304.36,135.41 304.84,135.84 305.32,136.86 305.79,138.13 306.26,138.96 306.72,138.89 307.17,138.05 307.61,137.10 308.03,136.68 308.45,137.08 308.85,138.09 309.23,139.27 309.59,140.25 309.94,140.88 310.26,141.20 310.56,141.35 310.83,141.46 311.08,141.58 311.30,141.73"/>
<polyline fill="none" stroke="#000" stroke-width="0.9" stroke-linejoin="round" points="64.30,52.92 64.60,56.36 65.02,61.33 65.50,66.68 65.95,71.25 66.36,74.80 66.77,77.93 67.18,80.74 67.59,83.33 67.97,85.59 68.31,87.51 68.71,89.37 69.24,91.46 69.57,92.72 69.93,94.04 70.32,95.39 70.73,96.79 71.17,98.22 71.61,99.68 72.07,101.16 72.53,102.65 72.91,103.88 73.29,105.16 73.68,106.47 74.08,107.79 74.49,109.13 74.90,110.46 75.33,111.78 75.76,113.06 76.20,114.30 76.65,115.49 77.03,116.44 77.43,117.36 77.83,118.26 78.24,119.13 78.65,119.99 79.07,120.84 79.49,121.67 79.91,122.49 80.34,123.30 80.76,124.10 81.18,124.90 81.59,125.69 82.00,126.48 82.41,127.26 82.82,128.04 83.24,128.80 83.65,129.56 84.06,130.30 84.47,131.04 84.88,131.76 85.30,132.48 85.71,133.19 86.12,133.89 86.53,134.58 86.94,135.26 87.35,135.94 87.77,136.62 88.18,137.29 88.59,137.94 89.00,138.59 89.41,139.23 89.82,139.85 90.23,140.45 90.65,141.04 91.06,141.60 91.47,142.15 91.88,142.68 92.30,143.19 92.72,143.70 93.15,144.19 93.57,144.66 93.99,145.11 94.41,145.55 94.82,145.96 95.23,146.36 95.63,146.74 96.03,147.09 96.41,147.42 96.84,147.78 97.25,148.11 97.63,148.41 98.00,148.68 98.37,148.92 98.74,149.13 99.14,149.32 99.56,149.47 100.02,149.61 100.53,149.72 100.87,149.77 101.23,149.81 101.61,149.80 102.00,149.78 102.40,149.76 102.82,149.78 103.24,149.82 103.67,149.87 104.10,149.88 104.53,149.80 104.97,149.65 105.41,149.47 105.84,149.33 106.27,149.30 106.70,149.39 107.11,149.55 107.53,149.69 107.94,149.73 108.35,149.60 108.76,149.33 109.17,149.01 109.58,148.76 110.00,148.69 110.41,148.85 110.82,149.17 111.23,149.52 111.64,149.75 112.05,149.75 112.47,149.53 112.88,149.19 113.29,148.87 113.70,148.71 114.11,148.73 114.53,148.82 114.96,148.77 115.39,148.41 115.81,147.69 116.24,146.75 116.67,145.87 117.10,145.36 117.52,145.36 117.94,145.83 118.35,146.49 118.76,147.00 119.15,147.04 119.54,146.50 119.92,145.44 120.29,144.10 120.76,142.32 121.21,141.01 121.64,140.31 122.06,140.08 122.46,140.00 122.86,139.73 123.25,139.02 123.64,137.79 124.03,136.09 124.42,134.15 124.82,132.28 125.23,130.78 125.64,129.77 126.05,129.15 126.46,128.63 126.87,127.83 127.28,126.47 127.70,124.45 128.11,121.95 128.52,119.29 128.93,116.94 129.34,115.04 129.75,113.48 130.17,111.96 130.57,110.19 130.97,108.15 131.36,106.07 131.75,104.16 132.14,102.53 132.53,101.22 132.93,100.36 133.34,100.00 133.76,100.00 134.19,99.87 134.64,98.93 135.11,96.42 135.48,92.98 135.86,88.26 136.26,83.52 136.68,80.81 137.10,81.29 137.53,83.90 137.96,86.42 138.40,87.52 138.84,87.23 139.27,85.96 139.70,84.14 140.12,82.37 140.54,81.17 140.94,80.72 141.32,80.81 141.69,80.82 142.15,79.78 142.57,77.51 142.97,74.97 143.34,73.21 143.70,72.63 144.06,73.03 144.42,73.84 144.80,74.54 145.21,74.96 145.64,75.12 146.11,74.40 146.63,71.58 146.97,69.51 147.32,68.68 147.67,70.15 148.04,73.68 148.42,77.75 148.81,80.83 149.21,82.44 149.61,83.03 150.02,83.06 150.44,82.73 150.87,82.28 151.30,81.99 151.73,82.11 152.17,82.71 152.62,83.71 153.06,84.90 153.51,85.98 153.96,86.54 154.41,86.19 154.87,85.19 155.25,84.62 155.64,85.02 156.03,86.63 156.44,88.85 156.85,90.43 157.26,90.47 157.68,89.41 158.10,88.97 158.52,90.42 158.95,93.24 159.38,95.86 159.81,97.31 160.24,97.75 160.66,97.79 161.09,97.85 161.51,98.25 161.94,99.23 162.35,100.82 162.77,102.83 163.18,104.88 163.58,106.58 163.98,107.64 164.37,107.98 164.75,107.79 165.20,107.29 165.64,107.08 166.08,107.51 166.51,108.61 166.94,110.15 167.36,111.83 167.78,113.35 168.20,114.51 168.61,115.37 169.02,116.12 169.42,116.93 169.82,117.89 170.22,119.07 170.62,120.51 171.02,122.00 171.41,123.29 171.81,124.19 172.20,124.65 172.59,124.81 172.98,124.91 173.41,125.25 173.84,126.00 174.26,127.13 174.68,128.40 175.10,129.49 175.51,130.15 175.92,130.30 176.33,130.09 176.74,129.82 177.14,129.81 177.55,130.27 177.95,131.22 178.35,132.44 178.76,133.59 179.16,134.33 179.57,134.45 179.98,134.00 180.39,133.26 180.80,132.66 181.21,132.60 181.62,133.30 182.04,134.72 182.45,136.54 182.86,138.37 183.27,139.82 183.68,140.70 184.09,141.06 184.51,141.10 184.92,141.13 185.33,141.43 185.74,142.10 186.15,143.07 186.56,144.11 186.98,144.95 187.39,145.42 187.80,145.52 188.21,145.42 188.61,145.39 189.00,145.64 189.38,146.24 189.77,147.17 190.15,148.27 190.53,149.37 190.91,150.27 191.30,150.90 191.69,151.25 192.09,151.47 192.50,151.72 192.91,152.17 193.34,152.86 193.78,153.68 194.24,154.35 194.72,154.56 195.21,154.15 195.56,153.58 195.92,152.92 196.29,152.40 196.67,152.19 197.05,152.41 197.44,153.04 197.83,153.93 198.23,154.86 198.64,155.57 199.05,155.91 199.46,155.85 199.88,155.51 200.30,155.08 200.73,154.74 201.16,154.61 201.59,154.69 202.02,154.86 202.45,155.00 202.89,155.02 203.32,154.89 203.75,154.67 204.19,154.43 204.62,154.24 205.05,154.14 205.48,154.12 205.91,154.16 206.31,154.23 206.72,154.36 207.13,154.55 207.55,154.80 207.98,155.08 208.40,155.32 208.83,155.45 209.27,155.40 209.70,155.16 210.14,154.80 210.57,154.44 211.01,154.21 211.45,154.19 211.88,154.37 212.32,154.64 212.74,154.90 213.17,155.04 213.59,155.02 214.01,154.89 214.42,154.69 214.83,154.51 215.23,154.35 215.62,154.20 216.00,154.02 216.38,153.79 216.74,153.50 217.10,153.20 217.44,152.93 217.95,152.71 218.44,152.80 218.91,153.10 219.36,153.37 219.80,153.38 220.21,152.98 220.62,152.20 221.02,151.16 221.40,150.05 221.78,149.09 222.16,148.41 222.53,148.04 222.91,147.91 223.28,147.86 223.66,147.68 224.05,147.20 224.44,146.32 224.85,145.10 225.26,143.77 225.68,142.63 226.09,141.97 226.51,141.85 226.93,142.16 227.35,142.58 227.77,142.76 228.19,142.41 228.61,141.47 229.02,140.09 229.44,138.54 229.85,137.10 230.26,135.94 230.67,135.09 231.07,134.41 231.47,133.68 231.87,132.73 232.26,131.51 232.69,129.93 233.12,128.41 233.55,127.27 233.96,126.66 234.38,126.50 234.79,126.51 235.20,126.31 235.60,125.54 236.01,124.06 236.41,121.97 236.82,119.60 237.22,117.43 237.62,115.77 238.03,114.74 238.44,114.20 238.85,113.73 239.26,112.85 239.67,111.19 240.08,108.62 240.49,105.33 240.90,101.79 241.32,98.79 241.73,97.18 242.14,97.30 242.55,98.70 242.96,100.19 243.38,100.28 243.79,98.07 244.20,94.00 244.61,89.87 245.02,87.42 245.43,86.91 245.84,87.23 246.26,87.31 246.67,86.91 247.08,86.10 247.49,84.83 247.90,83.06 248.31,81.00 248.73,79.05 249.14,77.58 249.55,76.76 249.96,76.49 250.37,76.42 250.79,76.14 251.20,75.37 251.61,74.07 252.02,72.39 252.43,70.33 252.84,67.80 253.25,65.03 253.67,62.81 254.08,61.50 254.49,60.38 254.90,58.76 255.31,57.41 255.73,57.88 256.14,60.34 256.55,63.28 256.96,65.28 257.37,66.38 257.78,67.31 258.19,68.23 258.61,68.83 259.02,68.83 259.42,68.20 259.82,67.15 260.21,65.96 260.61,64.94 261.00,64.31 261.40,64.16 261.80,64.47 262.20,65.12 262.60,65.96 263.01,66.86 263.43,67.67 263.86,68.28 264.29,68.39 264.74,66.86 265.19,61.63 265.57,54.70 265.94,47.96 266.32,45.01 266.71,47.63 267.10,54.22 267.49,61.25 267.89,66.34 268.29,69.39 268.69,71.37 269.10,72.86 269.52,73.97 269.94,74.82 270.36,75.63 270.78,76.69 271.21,78.12 271.65,79.85 272.09,81.58 272.53,82.93 272.98,83.59 273.43,83.53 273.81,83.11 274.19,82.65 274.57,82.40 274.96,82.53 275.35,82.93 275.74,83.02 276.14,82.16 276.54,80.57 276.94,79.40 277.34,79.72 277.75,81.43 278.16,83.77 278.57,86.45 278.99,89.77 279.41,93.59 279.83,96.88 280.25,98.64 280.68,98.69 281.11,97.63 281.55,96.31 281.98,95.52 282.42,95.77 282.86,97.14 283.31,99.20 283.69,101.00 284.07,102.39 284.45,103.13 284.82,103.29 285.20,103.12 285.58,103.03 285.96,103.40 286.34,104.37 286.72,105.76 287.10,107.30 287.48,108.87 287.87,110.48 288.26,111.96 288.66,112.95 289.06,113.17 289.46,112.78 289.87,112.34 290.28,112.39 290.71,113.19 291.13,114.59 291.57,116.13 292.01,117.29 292.46,117.87 292.91,118.10 293.38,118.50 293.85,119.47 294.34,121.12 294.83,123.12 295.19,124.41 295.56,125.35 295.95,125.76 296.35,125.66 296.77,125.29 297.19,125.07 297.63,125.42 298.07,126.51 298.53,128.17 298.99,129.93 299.46,131.19 299.93,131.62 300.41,131.27 300.89,130.64 301.37,130.34 301.85,130.83 302.34,132.09 302.82,133.75 303.31,135.24 303.79,136.20 304.26,136.57 304.74,136.63 305.20,136.78 305.66,137.29 306.11,138.21 306.56,139.37 306.99,140.49 307.41,141.38 307.83,141.95 308.23,142.24 308.61,142.37 308.98,142.49 309.34,142.65 309.68,142.91 310.00,143.22 310.30,143.54 310.58,143.85 310.84,144.11 311.08,144.33 311.30,144.52"/>
<polyline fill="none" stroke="#000" stroke-width="0.9" stroke-linejoin="round" points="64.30,52.92 64.60,56.44 65.02,61.53 65.50,67.01 65.95,71.71 66.36,75.38 66.77,78.62 67.18,81.54 67.59,84.25 67.97,86.62 68.31,88.63 68.71,90.60 69.24,92.84 69.57,94.11 69.93,95.42 70.32,96.78 70.73,98.17 71.17,99.60 71.61,101.06 72.07,102.54 72.53,104.04 72.91,105.26 73.29,106.54 73.68,107.85 74.08,109.18 74.49,110.52 74.90,111.85 75.33,113.16 75.76,114.45 76.20,115.69 76.65,116.87 77.03,117.82 77.43,118.74 77.83,119.64 78.24,120.52 78.65,121.38 79.07,122.22 79.49,123.05 79.91,123.87 80.34,124.68 80.76,125.48 81.18,126.28 81.59,127.08 82.00,127.87 82.41,128.65 82.82,129.42 83.24,130.18 83.65,130.94 84.06,131.68 84.47,132.42 84.88,133.15 85.30,133.86 85.71,134.57 86.12,135.27 86.53,135.96 86.94,136.65 87.35,137.33 87.77,138.00 88.18,138.67 88.59,139.33 89.00,139.97 89.41,140.61 89.82,141.23 90.23,141.83 90.65,142.42 91.06,142.99 91.47,143.53 91.88,144.06 92.30,144.58 92.72,145.08 93.15,145.57 93.57,146.04 93.99,146.49 94.41,146.93 94.82,147.35 95.23,147.74 95.63,148.12 96.03,148.47 96.41,148.80 96.86,149.16 97.30,149.50 97.73,149.81 98.16,150.09 98.57,150.34 98.98,150.56 99.38,150.75 99.77,150.90 100.15,151.02 100.53,151.10 100.96,151.16 101.33,151.18 101.68,151.10 102.02,150.99 102.38,150.85 102.78,150.72 103.26,150.62 103.82,150.52 104.14,150.41 104.49,150.21 104.85,149.88 105.24,149.41 105.64,148.82 106.05,148.20 106.47,147.66 106.91,147.31 107.35,147.21 107.79,147.31 108.24,147.48 108.68,147.53 109.12,147.30 109.56,146.73 109.99,145.87 110.41,144.88 110.82,143.93 111.23,143.19 111.64,142.76 112.05,142.66 112.47,142.80 112.88,143.03 113.29,143.17 113.70,143.05 114.11,142.55 114.52,141.74 114.94,140.71 115.35,139.61 115.76,138.57 116.17,137.67 116.58,136.95 116.99,136.37 117.41,135.86 117.83,135.33 118.25,134.69 118.68,133.87 119.11,132.87 119.54,131.71 119.96,130.43 120.39,129.10 120.81,127.78 121.23,126.51 121.64,125.34 122.05,124.28 122.45,123.35 122.84,122.54 123.21,121.80 123.58,121.10 124.05,120.15 124.50,118.95 124.93,117.32 125.35,115.09 125.76,112.41 126.15,109.82 126.55,107.86 126.93,106.62 127.32,105.74 127.72,104.90 128.11,103.94 128.52,102.63 128.94,100.54 129.36,97.95 129.79,95.97 130.23,95.12 130.66,94.65 131.09,93.79 131.52,92.87 131.94,92.46 132.34,92.64 132.73,93.12 133.11,93.54 133.46,93.60 133.95,92.65 134.40,90.52 134.82,87.60 135.21,84.14 135.59,80.08 135.97,75.57 136.35,71.69 136.75,70.38 137.13,72.57 137.46,76.46 137.77,80.57 138.09,84.00 138.45,85.89 138.88,85.47 139.40,83.68 140.05,84.29 140.34,85.36 140.66,86.30 141.00,86.88 141.35,87.38 141.72,88.23 142.10,89.53 142.50,91.10 142.91,92.62 143.32,93.79 143.75,94.43 144.19,94.54 144.63,94.36 145.08,94.22 145.53,94.42 145.99,94.85 146.45,94.97 146.91,94.92 147.37,95.84 147.83,98.30 148.28,100.96 148.66,102.08 149.05,102.25 149.44,102.51 149.83,103.58 150.23,105.17 150.63,106.58 151.04,107.60 151.45,108.46 151.86,109.38 152.28,110.37 152.70,111.44 153.12,112.55 153.54,113.68 153.96,114.80 154.38,115.84 154.81,116.78 155.23,117.63 155.65,118.40 156.07,119.16 156.49,120.00 156.91,121.01 157.33,122.15 157.75,123.36 158.16,124.53 158.57,125.56 158.98,126.34 159.39,126.81 159.81,127.00 160.22,127.02 160.63,127.05 161.04,127.27 161.45,127.81 161.87,128.73 162.28,129.96 162.69,131.32 163.10,132.59 163.51,133.53 163.92,134.00 164.33,133.99 164.75,133.60 165.16,133.07 165.57,132.67 165.98,132.65 166.39,133.14 166.81,134.17 167.22,135.57 167.63,137.11 168.04,138.51 168.45,139.52 168.87,140.00 169.29,139.95 169.71,139.52 170.13,138.93 170.55,138.43 170.97,138.21 171.39,138.36 171.82,138.85 172.24,139.54 172.66,140.26 173.08,140.86 173.50,141.25 173.92,141.45 174.34,141.52 174.75,141.58 175.16,141.75 175.57,142.07 175.97,142.55 176.37,143.11 176.76,143.67 177.15,144.13 177.54,144.42 177.92,144.53 178.37,144.46 178.82,144.27 179.26,144.08 179.70,144.01 180.13,144.09 180.56,144.35 180.99,144.74 181.41,145.20 181.83,145.67 182.24,146.13 182.65,146.55 183.06,146.92 183.46,147.25 183.86,147.52 184.25,147.72 184.64,147.83 185.02,147.83 185.40,147.70 185.78,147.47 186.15,147.14 186.61,146.65 187.06,146.16 187.49,145.66 187.92,145.14 188.33,144.55 188.74,143.83 189.15,142.95 189.55,141.90 189.95,140.73 190.34,139.52 190.74,138.35 191.13,137.30 191.53,136.46 191.93,135.82 192.33,135.33 192.74,134.83 193.15,134.11 193.57,132.93 193.99,131.16 194.41,128.81 194.83,126.01 195.25,123.01 195.67,120.12 196.08,117.66 196.50,115.82 196.92,114.52 197.33,113.58 197.74,112.60 198.14,111.05 198.54,108.69 198.94,105.94 199.33,103.31 199.77,100.13 200.21,96.22 200.65,92.47 201.08,90.53 201.51,90.44 201.94,90.66 202.36,90.06 202.78,88.63 203.19,86.74 203.59,84.56 203.98,82.25 204.36,80.03 204.73,78.09 205.09,76.54 205.56,75.00 206.01,73.88 206.42,72.92 206.82,71.88 207.20,70.55 207.58,68.41 207.96,64.68 208.36,59.55 208.77,55.29 209.21,54.97 209.58,57.73 209.96,60.32 210.35,60.31 210.73,58.00 211.12,56.08 211.52,57.14 211.93,61.31 212.35,66.19 212.78,69.30 213.22,70.42 213.67,70.77 214.15,71.15 214.51,71.55 214.89,72.07 215.28,72.65 215.68,73.23 216.08,73.83 216.50,74.49 216.91,75.27 217.34,75.98 217.76,75.84 218.19,74.52 218.62,73.54 219.05,74.88 219.47,78.22 219.90,81.30 220.32,82.58 220.73,81.91 221.14,79.67 221.56,77.05 221.97,76.00 222.38,77.63 222.79,80.82 223.20,83.34 223.62,83.98 224.03,83.05 224.44,81.33 224.85,79.32 225.26,77.38 225.67,75.87 226.08,75.02 226.50,74.93 226.91,75.45 227.32,75.94 227.73,75.14 228.15,72.44 228.58,69.48 229.01,68.65 229.43,69.92 229.86,70.92 230.29,70.28 230.72,68.65 231.14,66.48 231.56,62.79 231.97,57.29 232.38,52.03 232.77,49.80 233.16,51.22 233.54,54.31 233.91,56.83 234.37,58.32 234.81,59.09 235.22,60.21 235.61,61.67 236.00,63.19 236.38,64.50 236.75,65.42 237.14,65.56 237.53,64.09 237.95,60.60 238.38,57.04 238.85,57.28 239.21,60.85 239.59,65.62 239.98,69.68 240.38,72.60 240.78,74.91 241.20,76.85 241.61,78.16 242.04,78.15 242.46,76.49 242.89,74.60 243.32,74.94 243.75,78.45 244.17,83.48 244.60,87.83 245.02,90.80 245.43,92.87 245.85,94.60 246.27,96.19 246.70,97.73 247.14,99.15 247.57,100.19 248.01,101.03 248.45,102.54 248.88,105.15 249.31,108.12 249.73,110.47 250.14,112.04 250.55,113.15 250.94,114.10 251.31,114.99 251.68,115.85 252.02,116.66 252.53,117.84 253.00,118.75 253.44,119.29 253.84,119.41 254.23,119.09 254.61,118.43 254.98,117.49 255.35,116.35 255.74,115.03 256.14,113.63 256.55,112.04 256.96,110.08 257.37,107.47 257.78,103.83 258.19,99.42 258.61,95.41 259.02,92.70 259.43,90.78 259.84,88.60 260.25,86.04 260.67,83.56 261.08,81.30 261.49,79.23 261.90,77.28 262.31,75.41 262.72,73.59 263.13,71.40 263.55,68.04 263.96,63.56 264.37,60.00 264.77,59.74 265.15,62.67 265.53,66.62 265.90,69.39 266.27,70.12 266.66,69.10 267.07,66.39 267.51,61.22 267.97,54.48 268.49,51.18 268.82,52.91 269.17,56.63 269.52,60.55 269.88,63.61 270.25,65.91 270.63,67.86 271.02,69.45 271.42,70.56 271.83,71.19 272.25,71.55 272.69,71.93 273.14,72.65 273.60,73.62 274.08,73.64 274.57,71.69 275.07,69.80 275.42,70.44 275.78,72.82 276.14,75.76 276.51,77.84 276.89,78.34 277.27,77.29 277.66,75.41 278.06,74.30 278.46,75.64 278.87,79.32 279.29,83.38 279.70,86.09 280.13,87.38 280.55,87.98 280.98,88.34 281.42,88.72 281.85,89.31 282.29,90.24 282.73,91.48 283.17,92.87 283.62,94.18 284.06,95.18 284.51,95.39 284.95,94.32 285.34,92.75 285.72,91.71 286.10,92.15 286.48,93.98 286.87,96.10 287.26,97.34 287.64,97.65 288.03,98.04 288.42,99.42 288.81,101.65 289.21,103.88 289.61,105.53 290.01,106.67 290.41,107.57 290.81,108.34 291.22,108.96 291.64,109.42 292.05,109.77 292.47,110.08 292.90,110.49 293.33,111.13 293.76,112.12 294.20,113.45 294.65,114.99 295.10,116.47 295.55,117.50 296.01,117.95 296.48,117.96 296.85,117.77 297.24,117.42 297.65,117.05 298.06,116.98 298.49,117.44 298.93,118.49 299.38,120.02 299.84,121.79 300.30,123.43 300.77,124.60 301.25,125.13 301.72,125.11 302.21,124.83 302.69,124.65 303.17,124.84 303.65,125.46 304.13,126.33 304.61,127.18 305.08,127.76 305.55,127.94 306.01,127.82 306.46,127.62 306.90,127.60 307.34,127.96 307.76,128.73 308.17,129.84 308.56,131.09 308.94,132.28 309.30,133.25 309.65,133.90 309.98,134.25 310.29,134.34 310.57,134.25 310.84,134.08 311.08,133.88 311.30,133.72"/>
<polyline fill="none" stroke="#000" stroke-width="0.9" stroke-linejoin="round" points="64.30,52.92 64.60,56.52 65.02,61.73 65.50,67.35 65.95,72.17 66.36,75.96 66.77,79.31 67.18,82.35 67.59,85.17 67.97,87.64 68.31,89.75 68.71,91.84 69.24,94.23 69.57,95.49 69.93,96.80 70.32,98.16 70.73,99.56 71.17,100.99 71.61,102.44 72.07,103.92 72.53,105.42 72.91,106.65 73.29,107.92 73.68,109.23 74.08,110.56 74.49,111.90 74.90,113.23 75.33,114.55 75.76,115.83 76.20,117.07 76.65,118.25 77.03,119.20 77.43,120.12 77.83,121.02 78.24,121.90 78.65,122.76 79.07,123.60 79.49,124.43 79.91,125.25 80.34,126.06 80.76,126.86 81.18,127.66 81.59,128.46 82.00,129.25 82.41,130.03 82.82,130.80 83.24,131.57 83.65,132.32 84.06,133.07 84.47,133.80 84.88,134.53 85.30,135.25 85.71,135.96 86.12,136.65 86.53,137.34 86.94,138.03 87.35,138.71 87.77,139.38 88.18,140.05 88.59,140.71 89.00,141.36 89.41,141.99 89.82,142.61 90.23,143.22 90.65,143.80 91.06,144.37 91.47,144.92 91.88,145.44 92.30,145.96 92.72,146.46 93.15,146.95 93.57,147.42 93.99,147.88 94.41,148.31 94.82,148.73 95.23,149.13 95.63,149.50 96.03,149.85 96.41,150.18 96.83,150.55 97.21,150.88 97.55,151.19 97.88,151.47 98.21,151.72 98.56,151.94 98.95,152.13 99.40,152.28 99.92,152.40 100.53,152.49 100.84,152.51 101.18,152.51 101.54,152.49 101.92,152.47 102.32,152.45 102.73,152.44 103.16,152.43 103.59,152.40 104.04,152.31 104.49,152.15 104.95,151.91 105.41,151.62 105.87,151.35 106.32,151.19 106.77,151.18 107.22,151.36 107.65,151.70 108.07,152.11 108.48,152.50 108.87,152.78 109.23,152.88 109.58,152.80 110.09,152.38 110.57,151.74 111.02,151.07 111.45,150.54 111.85,150.27 112.24,150.31 112.62,150.64 112.99,151.24 113.36,152.01 113.74,152.88 114.12,153.70 114.51,154.34 114.92,154.70 115.35,154.71 115.74,154.44 116.14,153.98 116.55,153.43 116.97,152.88 117.40,152.42 117.83,152.11 118.26,151.94 118.69,151.87 119.12,151.83 119.55,151.76 119.97,151.59 120.38,151.32 120.79,150.94 121.18,150.49 121.57,150.01 121.93,149.51 122.40,148.86 122.85,148.24 123.28,147.63 123.70,146.97 124.11,146.25 124.51,145.45 124.90,144.54 125.29,143.54 125.68,142.44 126.07,141.27 126.47,140.04 126.87,138.75 127.28,137.36 127.70,135.84 128.11,134.19 128.52,132.39 128.93,130.45 129.34,128.39 129.75,126.27 130.17,124.17 130.58,122.19 130.99,120.42 131.40,118.81 131.81,117.75 132.22,116.99 132.62,116.24 133.01,115.42 133.40,114.46 133.79,113.28 134.18,111.78 134.58,109.93 134.98,107.76 135.40,105.33 135.83,102.79 136.28,100.32 136.75,98.12 137.12,96.74 137.49,95.62 137.87,94.75 138.26,94.10 138.66,93.53 139.07,92.53 139.48,89.85 139.89,84.95 140.31,79.91 140.74,78.21 141.17,80.71 141.60,84.70 142.03,87.39 142.47,88.22 142.90,87.81 143.34,86.75 143.73,85.47 144.13,83.95 144.53,82.28 144.93,80.66 145.34,79.27 145.75,78.35 146.16,78.03 146.58,78.36 146.99,79.26 147.41,80.51 147.83,81.80 148.25,82.78 148.67,82.85 149.09,80.78 149.51,76.12 149.92,71.20 150.34,69.39 150.75,70.88 151.16,72.57 151.56,72.15 151.96,70.41 152.35,69.49 152.74,70.78 153.13,74.29 153.52,78.77 153.91,82.64 154.30,84.98 154.70,85.83 155.10,85.69 155.51,85.04 155.92,84.23 156.35,83.58 156.78,83.39 157.23,83.90 157.69,85.15 158.16,86.90 158.52,87.89 158.89,87.77 159.27,86.61 159.64,85.79 160.03,86.82 160.42,89.46 160.81,92.00 161.21,93.29 161.61,93.71 162.02,94.09 162.43,94.75 162.84,95.48 163.26,95.85 163.68,95.76 164.11,95.72 164.53,96.45 164.96,98.09 165.40,99.98 165.83,101.33 166.27,102.01 166.71,102.43 167.15,103.04 167.59,104.02 168.04,105.17 168.43,105.91 168.82,106.22 169.21,106.61 169.61,107.79 170.02,109.71 170.43,111.52 170.84,112.64 171.26,113.22 171.68,113.69 172.10,114.24 172.53,114.94 172.95,115.77 173.38,116.69 173.80,117.63 174.23,118.51 174.66,119.25 175.08,119.86 175.50,120.43 175.93,121.10 176.35,121.78 176.76,122.58 177.18,123.54 177.59,124.65 177.99,125.84 178.39,127.04 178.79,128.16 179.18,129.14 179.57,129.91 180.01,130.55 180.46,130.92 180.91,131.10 181.37,131.17 181.82,131.23 182.27,131.36 182.72,131.61 183.16,131.98 183.61,132.47 184.05,133.05 184.49,133.67 184.92,134.33 185.34,135.00 185.76,135.68 186.18,136.37 186.58,137.03 186.98,137.65 187.36,138.19 187.74,138.60 188.10,138.88 188.46,139.00 188.80,138.98 189.13,138.85 189.45,138.63 190.03,138.16 190.54,137.83 190.99,137.73 191.40,137.84 191.77,138.08 192.12,138.37 192.46,138.65 192.80,138.87 193.15,138.96 193.53,138.86 193.93,138.48 194.39,137.71 194.75,136.83 195.13,135.69 195.52,134.37 195.92,132.95 196.32,131.53 196.74,130.20 197.15,128.99 197.58,127.86 198.00,126.74 198.43,125.49 198.86,124.01 199.29,122.19 199.71,119.86 200.14,117.41 200.56,115.14 200.97,113.26 201.38,111.70 201.80,110.39 202.21,109.34 202.62,108.57 203.03,107.96 203.44,107.28 203.86,106.30 204.27,104.82 204.68,102.74 205.09,100.07 205.50,96.97 205.91,93.70 206.32,90.55 206.74,87.54 207.15,84.01 207.56,79.73 207.97,76.33 208.39,76.18 208.82,79.13 209.25,82.13 209.67,82.91 210.10,81.44 210.53,78.01 210.96,72.95 211.38,67.78 211.80,64.63 212.21,64.40 212.62,66.13 213.01,68.08 213.40,69.21 213.78,69.52 214.15,69.39 214.61,68.87 215.05,67.98 215.46,66.76 215.85,65.34 216.24,63.68 216.62,60.93 216.99,56.16 217.38,50.29 217.77,46.84 218.19,48.86 218.62,54.77 219.09,59.45 219.45,60.55 219.83,60.37 220.22,59.70 220.62,58.82 221.02,57.88 221.44,57.05 221.85,56.09 222.28,54.27 222.70,51.39 223.13,48.87 223.56,49.02 223.99,52.71 224.41,58.19 224.84,62.74 225.26,64.96 225.67,65.26 226.08,64.14 226.49,60.90 226.88,55.70 227.28,51.52 227.68,51.85 228.07,56.64 228.47,62.49 228.86,66.65 229.26,69.13 229.67,71.05 230.08,72.86 230.50,74.51 230.92,75.94 231.36,77.19 231.80,78.28 232.26,79.30 232.64,80.12 233.02,80.98 233.42,81.75 233.83,82.02 234.24,81.33 234.66,79.90 235.09,78.95 235.51,79.71 235.94,81.67 236.38,82.83 236.81,82.91 237.24,84.13 237.67,87.60 238.09,91.59 238.51,94.27 238.93,95.69 239.33,96.65 239.73,97.53 240.12,98.42 240.49,99.37 240.95,100.76 241.41,102.41 241.85,104.27 242.29,106.19 242.73,108.01 243.16,109.54 243.58,110.65 243.99,111.29 244.40,111.50 244.80,111.39 245.20,111.07 245.59,110.54 245.97,109.78 246.35,109.14 246.72,109.19 247.08,110.24 247.55,112.79 248.00,115.57 248.43,117.82 248.85,119.39 249.26,120.27 249.65,120.47 250.05,120.04 250.43,119.07 250.82,117.67 251.22,116.01 251.61,114.25 252.02,112.55 252.43,110.98 252.84,109.57 253.25,108.31 253.67,107.12 254.08,105.92 254.49,104.58 254.90,102.98 255.31,100.70 255.73,97.17 256.14,92.93 256.55,89.92 256.96,89.45 257.37,90.14 257.78,89.51 258.19,86.77 258.61,83.21 259.02,80.45 259.43,79.27 259.84,79.14 260.25,78.77 260.67,77.41 261.08,75.32 261.49,73.28 261.90,71.83 262.31,71.06 262.70,70.86 263.10,71.05 263.49,71.40 263.87,71.65 264.27,71.52 264.66,70.49 265.07,67.21 265.49,60.72 265.92,53.50 266.37,50.81 266.84,54.13 267.20,57.68 267.56,60.04 267.93,61.48 268.29,62.94 268.67,64.68 269.04,66.21 269.43,66.61 269.82,65.21 270.23,62.47 270.64,60.15 271.07,60.07 271.51,62.34 271.96,65.22 272.43,67.07 272.92,68.06 273.43,69.32 273.77,70.57 274.12,71.99 274.48,72.98 274.84,72.50 275.21,70.34 275.59,68.20 275.97,68.56 276.35,71.91 276.75,76.04 277.14,78.65 277.55,79.58 277.95,79.99 278.37,80.52 278.79,81.28 279.22,82.21 279.65,83.25 280.08,84.33 280.53,85.33 280.98,85.91 281.43,85.47 281.89,84.07 282.36,83.03 282.83,83.91 283.31,86.76 283.67,89.20 284.04,90.93 284.41,91.20 284.78,89.96 285.16,88.41 285.55,88.36 285.94,90.51 286.33,93.74 286.73,96.49 287.12,98.36 287.53,99.84 287.93,101.27 288.34,102.58 288.75,103.66 289.17,104.43 289.58,104.86 290.00,104.98 290.43,104.90 290.85,104.80 291.27,104.84 291.70,105.18 292.13,105.92 292.56,107.00 292.99,108.21 293.43,109.30 293.86,110.13 294.30,110.72 294.73,111.39 295.17,112.61 295.61,114.30 296.04,115.76 296.48,116.54 296.88,116.85 297.28,117.08 297.70,117.36 298.14,117.69 298.58,118.02 299.03,118.31 299.48,118.53 299.95,118.72 300.42,118.96 300.89,119.38 301.37,120.10 301.85,121.19 302.33,122.60 302.81,124.16 303.29,125.62 303.77,126.74 304.24,127.34 304.71,127.35 305.18,126.88 305.64,126.16 306.09,125.44 306.54,124.99 306.97,124.97 307.40,125.43 307.81,126.31 308.21,127.44 308.60,128.67 308.97,129.81 309.33,130.75 309.67,131.44 309.99,131.87 310.29,132.09 310.58,132.14 310.84,132.11 311.08,132.04 311.30,131.97"/>
<polyline fill="none" stroke="#000" stroke-width="0.9" stroke-linejoin="round" points="64.30,52.92 64.60,56.39 65.02,61.41 65.50,66.81 65.95,71.43 66.36,75.02 66.77,78.19 67.18,81.04 67.59,83.68 67.97,85.98 68.31,87.93 68.71,89.84 69.24,91.99 69.57,93.25 69.93,94.56 70.32,95.92 70.73,97.32 71.17,98.75 71.61,100.21 72.07,101.68 72.53,103.18 72.91,104.41 73.29,105.68 73.68,106.99 74.08,108.32 74.49,109.66 74.90,110.99 75.33,112.31 75.76,113.59 76.20,114.83 76.65,116.02 77.03,116.96 77.43,117.89 77.83,118.78 78.24,119.66 78.65,120.52 79.07,121.37 79.49,122.20 79.91,123.01 80.34,123.82 80.76,124.63 81.18,125.42 81.59,126.22 82.00,127.01 82.41,127.79 82.82,128.57 83.24,129.33 83.65,130.08 84.06,130.83 84.47,131.56 84.88,132.29 85.30,133.01 85.71,133.72 86.12,134.42 86.53,135.11 86.94,135.79 87.35,136.47 87.77,137.15 88.18,137.81 88.59,138.47 89.00,139.12 89.41,139.75 89.82,140.37 90.23,140.98 90.65,141.56 91.06,142.13 91.47,142.68 91.88,143.21 92.30,143.72 92.72,144.23 93.15,144.71 93.57,145.19 93.99,145.64 94.41,146.08 94.82,146.49 95.23,146.89 95.63,147.26 96.03,147.62 96.41,147.94 96.82,148.30 97.17,148.62 97.47,148.90 97.76,149.16 98.06,149.38 98.39,149.59 98.77,149.77 99.24,149.94 99.82,150.10 100.53,150.25 100.82,150.30 101.13,150.34 101.47,150.37 101.83,150.36 102.20,150.35 102.60,150.38 103.00,150.46 103.42,150.60 103.86,150.79 104.30,150.99 104.75,151.16 105.21,151.23 105.67,151.15 106.14,150.91 106.60,150.55 107.07,150.15 107.54,149.80 108.00,149.59 108.45,149.59 108.90,149.79 109.35,150.17 109.78,150.64 110.20,151.11 110.60,151.51 110.99,151.79 111.36,151.93 111.72,151.95 112.05,151.88 112.60,151.64 113.12,151.38 113.62,151.19 114.09,151.10 114.53,151.10 114.96,151.15 115.37,151.22 115.76,151.28 116.14,151.33 116.51,151.38 116.87,151.45 117.22,151.56 117.58,151.72 117.93,151.95 118.28,152.25 118.64,152.60 119.11,153.11 119.56,153.59 119.99,153.95 120.41,154.10 120.82,154.02 121.21,153.69 121.61,153.14 121.99,152.43 122.38,151.61 122.78,150.75 123.17,149.94 123.58,149.21 123.99,148.66 124.40,148.29 124.81,148.05 125.23,147.87 125.64,147.65 126.05,147.30 126.46,146.73 126.87,145.89 127.28,144.76 127.70,143.37 128.11,141.73 128.52,139.92 128.93,137.94 129.34,135.81 129.75,133.60 130.17,131.37 130.58,129.17 130.99,127.05 131.40,125.04 131.81,123.15 132.22,121.42 132.64,119.83 133.05,118.46 133.46,117.26 133.87,116.05 134.26,114.74 134.66,113.27 135.05,111.62 135.43,109.75 135.83,107.68 136.22,105.43 136.63,103.08 137.05,100.76 137.48,98.61 137.93,96.82 138.40,95.41 138.77,94.09 139.14,91.50 139.53,87.84 139.93,85.69 140.34,86.91 140.75,89.77 141.17,91.78 141.59,92.42 142.02,91.82 142.44,90.35 142.87,88.60 143.30,86.97 143.73,85.69 144.15,84.89 144.57,84.57 144.99,84.65 145.40,85.00 145.82,85.42 146.23,85.73 146.65,85.39 147.07,83.04 147.49,78.96 147.91,76.95 148.33,78.58 148.75,80.52 149.16,80.68 149.58,80.19 149.98,79.86 150.39,79.47 150.79,78.41 151.18,76.40 151.57,73.96 152.01,72.10 152.44,72.29 152.86,74.07 153.28,75.97 153.69,76.97 154.10,77.12 154.51,76.81 154.91,75.24 155.31,71.86 155.71,69.65 156.12,71.67 156.52,75.69 156.93,77.84 157.34,77.92 157.74,77.36 158.12,76.65 158.50,75.93 158.86,75.35 159.23,75.02 159.59,75.04 159.96,75.45 160.34,76.29 160.74,77.53 161.15,79.08 161.59,80.75 162.06,82.13 162.56,81.88 163.10,76.67 163.43,72.02 163.77,69.56 164.13,71.14 164.49,75.19 164.86,78.80 165.24,81.04 165.63,82.38 166.03,83.33 166.43,84.30 166.84,85.49 167.26,86.87 167.68,88.34 168.11,89.77 168.54,91.10 168.97,92.26 169.41,93.22 169.85,94.00 170.30,94.56 170.74,94.28 171.19,92.44 171.64,91.08 172.09,92.58 172.53,95.08 172.98,96.32 173.37,96.84 173.76,97.45 174.16,98.12 174.57,98.64 174.98,98.98 175.40,99.50 175.82,100.74 176.25,102.81 176.68,105.17 177.11,107.06 177.54,108.15 177.98,108.59 178.41,108.66 178.85,108.27 179.28,107.60 179.71,107.79 180.14,109.23 180.57,110.98 180.99,112.47 181.41,113.87 181.82,115.23 182.22,116.44 182.63,117.43 183.02,118.16 183.40,118.65 183.78,118.97 184.15,119.18 184.51,119.38 185.00,119.80 185.48,120.45 185.95,121.36 186.42,122.44 186.87,123.59 187.32,124.65 187.76,125.52 188.20,126.13 188.62,126.50 189.03,126.66 189.44,126.72 189.84,126.76 190.23,126.86 190.62,127.08 190.99,127.44 191.36,127.91 191.71,128.46 192.06,129.03 192.41,129.56 192.74,130.00 193.26,130.47 193.73,130.58 194.17,130.40 194.57,130.00 194.95,129.47 195.31,128.84 195.67,128.17 196.03,127.46 196.41,126.74 196.80,126.01 197.22,125.25 197.68,124.40 198.05,123.59 198.42,122.57 198.81,121.28 199.21,119.71 199.62,117.74 200.03,115.72 200.45,113.88 200.87,112.28 201.30,110.82 201.72,109.50 202.15,108.34 202.58,107.01 203.01,104.87 203.43,102.52 203.85,101.56 204.27,101.60 204.68,100.88 205.09,99.08 205.50,96.88 205.91,94.61 206.32,92.41 206.74,90.41 207.15,88.70 207.56,87.33 207.97,86.27 208.38,85.48 208.80,84.89 209.21,84.36 209.62,83.60 210.03,81.99 210.44,78.49 210.85,72.12 211.27,65.35 211.69,63.81 212.11,68.08 212.54,72.24 212.97,73.02 213.40,71.74 213.82,69.82 214.25,67.93 214.67,66.32 215.09,65.15 215.50,64.48 215.91,64.32 216.31,64.60 216.70,65.18 217.07,65.87 217.44,66.47 217.91,66.79 218.36,65.58 218.79,60.42 219.21,52.90 219.62,49.38 220.01,51.06 220.41,52.76 220.79,51.76 221.18,49.68 221.58,47.62 221.97,45.07 222.38,43.19 222.79,41.65 223.18,41.30 223.58,42.66 223.97,45.86 224.35,51.38 224.75,55.32 225.14,57.17 225.55,57.60 225.97,57.37 226.40,55.74 226.85,50.46 227.32,45.36 227.69,47.09 228.06,52.79 228.45,57.54 228.85,59.65 229.26,60.82 229.67,61.94 230.09,63.06 230.51,64.22 230.94,65.49 231.36,66.97 231.79,68.72 232.22,70.74 232.65,72.96 233.07,75.13 233.49,76.69 233.91,76.88 234.32,75.07 234.73,70.97 235.14,67.39 235.55,68.84 235.96,74.69 236.38,79.88 236.79,82.39 237.20,83.80 237.61,85.36 238.02,87.39 238.44,89.82 238.85,92.47 239.26,95.10 239.67,97.49 240.08,99.45 240.49,100.88 240.91,101.78 241.33,102.22 241.75,102.33 242.18,102.11 242.61,101.17 243.04,99.92 243.46,100.11 243.89,102.10 244.31,104.24 244.73,105.75 245.14,106.96 245.55,107.93 245.95,108.55 246.34,108.88 246.71,109.19 247.08,109.65 247.55,110.53 248.00,111.34 248.43,111.75 248.85,111.70 249.26,111.35 249.65,110.81 250.05,110.10 250.43,109.00 250.82,107.35 251.22,105.72 251.61,105.05 252.02,105.20 252.43,105.05 252.84,104.25 253.25,103.18 253.67,101.95 254.08,100.49 254.49,98.74 254.90,96.67 255.31,94.29 255.73,91.66 256.14,88.93 256.55,86.26 256.96,83.74 257.37,81.04 257.78,77.68 258.19,73.37 258.61,67.83 259.02,63.25 259.43,63.96 259.84,69.60 260.25,74.52 260.67,75.81 261.08,75.02 261.49,73.61 261.90,72.02 262.31,70.47 262.70,69.09 263.10,68.02 263.49,67.30 263.87,66.93 264.27,66.86 264.66,66.99 265.07,67.19 265.49,67.34 265.92,67.16 266.37,64.90 266.84,59.30 267.20,56.62 267.56,58.42 267.93,62.77 268.29,66.01 268.67,67.31 269.04,67.63 269.43,67.00 269.82,65.17 270.23,62.86 270.64,61.70 271.07,62.86 271.51,65.78 271.96,68.49 272.43,69.66 272.92,69.75 273.43,70.01 273.77,70.55 274.12,70.85 274.48,69.76 274.84,67.74 275.21,67.79 275.59,71.61 275.97,76.62 276.35,79.54 276.75,80.31 277.14,80.21 277.55,79.70 277.95,78.96 278.37,78.21 278.79,77.66 279.22,77.52 279.65,77.89 280.08,78.77 280.53,80.00 280.98,81.02 281.43,81.02 281.89,79.77 282.36,77.23 282.83,74.71 283.31,76.65 283.67,81.19 284.04,85.26 284.41,87.12 284.78,87.57 285.16,87.75 285.55,87.96 285.94,88.22 286.33,88.52 286.73,88.87 287.12,89.25 287.53,89.69 287.93,90.20 288.34,90.82 288.75,91.54 289.17,92.37 289.58,93.28 290.00,93.89 290.43,93.24 290.85,91.80 291.27,92.16 291.70,94.66 292.13,96.69 292.56,97.16 292.99,96.74 293.43,95.73 293.86,94.53 294.30,94.04 294.73,94.88 295.17,96.78 295.61,98.80 296.04,100.22 296.48,100.98 296.88,101.33 297.28,101.56 297.70,101.69 298.14,101.40 298.58,100.27 299.03,99.65 299.48,101.26 299.95,103.72 300.42,105.23 300.89,106.07 301.37,106.57 301.85,106.69 302.33,106.43 302.81,105.91 303.29,105.33 303.77,104.93 304.24,104.88 304.71,105.14 305.18,105.48 305.64,105.85 306.09,106.24 306.54,106.54 306.97,107.33 307.40,109.02 307.81,110.57 308.21,111.06 308.60,110.82 308.97,110.42 309.33,110.07 309.67,109.85 309.99,109.80 310.29,109.89 310.58,110.11 310.84,110.42 311.08,110.76 311.30,111.11"/>
<polyline fill="none" stroke="#000" stroke-width="0.9" stroke-linejoin="round" points="64.30,52.92 64.60,56.47 65.02,61.61 65.50,67.14 65.95,71.89 66.36,75.60 66.77,78.88 67.18,81.85 67.59,84.61 67.97,87.01 68.31,89.06 68.71,91.07 69.24,93.37 69.57,94.63 69.93,95.95 70.32,97.30 70.73,98.70 71.17,100.13 71.61,101.59 72.07,103.07 72.53,104.56 72.91,105.79 73.29,107.07 73.68,108.38 74.08,109.71 74.49,111.04 74.90,112.38 75.33,113.69 75.76,114.97 76.20,116.22 76.65,117.40 77.03,118.35 77.43,119.27 77.83,120.17 78.24,121.04 78.65,121.90 79.07,122.75 79.49,123.58 79.91,124.40 80.34,125.21 80.76,126.01 81.18,126.81 81.59,127.60 82.00,128.39 82.41,129.18 82.82,129.95 83.24,130.71 83.65,131.47 84.06,132.21 84.47,132.95 84.88,133.67 85.30,134.39 85.71,135.10 86.12,135.80 86.53,136.49 86.94,137.17 87.35,137.85 87.77,138.53 88.18,139.20 88.59,139.85 89.00,140.50 89.41,141.14 89.82,141.76 90.23,142.36 90.65,142.95 91.06,143.51 91.47,144.06 91.88,144.59 92.30,145.11 92.72,145.61 93.15,146.10 93.57,146.57 93.99,147.02 94.41,147.46 94.82,147.88 95.23,148.27 95.63,148.65 96.03,149.00 96.41,149.33 96.84,149.68 97.22,150.00 97.58,150.29 97.92,150.54 98.26,150.77 98.62,150.97 99.02,151.15 99.45,151.32 99.95,151.48 100.53,151.63 100.85,151.70 101.19,151.76 101.55,151.81 101.94,151.84 102.33,151.87 102.75,151.89 103.17,151.92 103.60,151.95 104.04,152.02 104.49,152.12 104.94,152.22 105.39,152.27 105.84,152.22 106.28,152.04 106.72,151.80 107.15,151.58 107.57,151.50 107.98,151.65 108.38,152.00 108.76,152.49 109.22,153.11 109.67,153.54 110.12,153.59 110.56,153.24 111.00,152.63 111.42,152.00 111.84,151.60 112.26,151.60 112.67,152.05 113.07,152.83 113.47,153.73 113.85,154.51 114.24,154.98 114.61,155.08 114.98,154.87 115.35,154.47 115.82,153.88 116.28,153.48 116.74,153.41 117.18,153.65 117.61,154.09 118.02,154.60 118.43,155.06 118.82,155.42 119.21,155.67 119.58,155.81 119.94,155.89 120.29,155.91 120.78,155.95 121.25,156.07 121.68,156.26 122.09,156.51 122.48,156.80 122.85,157.08 123.22,157.29 123.58,157.32 124.03,157.11 124.43,156.60 124.81,155.69 125.20,154.34 125.60,152.50 126.05,150.20 126.42,148.17 126.82,145.97 127.22,143.74 127.65,141.52 128.07,139.27 128.50,136.88 128.93,134.27 129.34,131.48 129.74,128.60 130.11,125.77 130.47,123.14 130.84,120.86 131.22,118.98 131.64,117.38 132.11,116.39 132.64,115.85 132.97,115.27 133.31,114.06 133.66,112.00 134.03,109.17 134.41,106.07 134.80,103.53 135.21,102.22 135.63,102.11 136.06,102.50 136.50,102.72 136.96,102.56 137.43,102.04 137.91,101.17 138.40,100.06 138.75,99.24 139.12,98.47 139.49,97.76 139.86,97.10 140.25,96.43 140.64,95.69 141.03,94.75 141.44,93.29 141.85,91.12 142.26,88.85 142.68,87.77 143.10,88.74 143.53,91.08 143.96,93.12 144.40,93.58 144.84,92.01 145.29,88.65 145.73,84.82 146.18,82.67 146.63,83.35 147.01,85.40 147.40,87.55 147.80,89.00 148.20,89.67 148.61,89.87 149.03,89.75 149.44,89.39 149.87,88.87 150.29,88.32 150.72,87.80 151.14,87.32 151.57,86.81 152.00,86.13 152.43,84.79 152.86,82.39 153.28,79.57 153.70,78.07 154.12,79.08 154.53,81.89 154.94,84.63 155.35,85.97 155.74,85.72 156.13,84.02 156.51,80.99 156.96,76.60 157.41,73.73 157.85,74.28 158.29,77.65 158.73,81.40 159.16,83.66 159.58,84.22 160.00,83.65 160.42,82.50 160.84,81.21 161.25,80.21 161.65,79.84 162.05,80.18 162.45,81.07 162.84,82.13 163.23,82.67 163.62,81.82 164.00,79.24 164.37,75.71 164.75,72.91 165.20,72.31 165.64,74.45 166.06,77.35 166.47,79.79 166.87,81.71 167.26,83.07 167.65,83.25 168.04,81.81 168.43,79.37 168.82,77.45 169.21,77.34 169.61,79.03 170.02,81.34 170.44,83.15 170.88,84.37 171.33,85.63 171.71,86.96 172.09,88.52 172.48,90.14 172.87,91.65 173.28,92.85 173.68,93.61 174.09,93.75 174.51,92.98 174.93,91.09 175.35,88.70 175.77,87.34 176.19,88.32 176.62,91.46 177.04,95.36 177.47,98.77 177.89,101.27 178.32,102.81 178.74,103.20 179.15,102.22 179.57,100.21 179.98,98.28 180.40,97.74 180.82,99.15 181.24,101.91 181.66,104.96 182.09,107.57 182.51,109.50 182.94,110.70 183.36,111.20 183.79,111.20 184.21,111.06 184.63,111.14 185.04,111.65 185.45,112.56 185.86,113.64 186.26,114.67 186.65,115.63 187.04,116.55 187.43,117.36 187.80,117.97 188.26,118.46 188.71,118.90 189.16,119.53 189.60,120.41 190.04,121.48 190.46,122.55 190.88,123.50 191.30,124.28 191.71,124.91 192.11,125.42 192.51,125.85 192.89,126.24 193.28,126.56 193.65,126.82 194.02,127.00 194.39,127.13 194.85,127.32 195.29,127.63 195.70,128.07 196.09,128.60 196.48,129.12 196.86,129.52 197.23,129.67 197.62,129.45 198.01,128.78 198.43,127.65 198.86,126.16 199.33,124.52 199.69,123.34 200.07,122.32 200.46,121.51 200.86,120.83 201.26,120.20 201.68,119.28 202.09,117.75 202.52,115.43 202.94,112.59 203.37,109.95 203.80,108.05 204.23,106.80 204.65,105.70 205.08,104.48 205.50,103.17 205.91,101.89 206.32,100.62 206.74,99.37 207.15,98.19 207.56,96.91 207.97,95.00 208.38,92.08 208.80,88.70 209.21,86.05 209.62,84.84 210.03,84.51 210.44,83.97 210.85,82.87 211.26,81.79 211.68,81.31 212.09,81.46 212.50,81.78 212.91,81.43 213.32,79.18 213.74,74.52 214.15,68.69 214.56,64.25 214.97,62.99 215.38,64.47 215.79,66.76 216.20,68.46 216.62,69.42 217.03,69.99 217.44,70.14 217.85,69.66 218.26,68.39 218.68,66.01 219.09,61.91 219.50,56.29 219.92,51.27 220.35,49.72 220.77,52.35 221.20,56.72 221.63,59.84 222.06,60.82 222.48,60.56 222.91,59.87 223.32,59.00 223.74,57.98 224.14,56.63 224.54,54.19 224.93,49.99 225.31,44.79 225.67,42.70 226.14,42.43 226.59,44.86 227.02,50.79 227.44,54.47 227.85,55.27 228.25,54.25 228.64,52.46 229.03,50.50 229.42,48.72 229.81,46.90 230.21,44.55 230.61,43.10 231.02,42.48 231.42,43.72 231.81,48.42 232.20,54.51 232.59,58.31 232.98,59.06 233.38,57.92 233.78,56.53 234.20,56.05 234.63,57.15 235.08,60.01 235.55,63.92 235.92,66.25 236.30,66.75 236.69,65.24 237.08,63.21 237.49,62.85 237.90,64.99 238.32,68.37 238.74,71.32 239.17,73.46 239.60,75.55 240.03,78.10 240.45,80.82 240.88,82.87 241.31,83.39 241.73,82.59 242.14,81.99 242.55,83.01 242.97,85.66 243.40,88.58 243.83,90.64 244.25,91.93 244.68,93.14 245.11,94.67 245.54,96.53 245.96,98.56 246.38,100.53 246.79,102.17 247.20,103.11 247.59,103.08 247.98,102.26 248.36,101.34 248.73,101.06 249.20,102.19 249.65,104.44 250.08,106.76 250.50,108.60 250.90,109.87 251.30,110.59 251.69,110.66 252.08,110.00 252.47,108.63 252.86,106.90 253.26,105.43 253.67,104.83 254.08,105.14 254.49,105.74 254.90,105.91 255.31,105.26 255.73,103.78 256.14,101.62 256.55,99.00 256.96,96.23 257.37,93.65 257.78,91.55 258.19,89.97 258.61,88.52 259.02,86.32 259.43,82.91 259.84,79.19 260.25,76.85 260.67,76.78 261.08,78.13 261.49,79.23 261.90,79.15 262.31,78.10 262.72,76.44 263.13,73.75 263.55,69.45 263.95,64.29 264.35,60.40 264.74,59.62 265.13,61.83 265.52,65.20 265.91,67.77 266.31,68.79 266.72,68.51 267.14,67.32 267.57,65.39 268.02,63.09 268.49,61.07 268.85,60.22 269.21,60.18 269.57,60.87 269.94,61.72 270.31,61.68 270.69,60.06 271.08,57.52 271.47,56.01 271.88,57.23 272.29,60.80 272.72,64.56 273.16,66.67 273.61,67.22 274.08,66.78 274.57,64.80 275.07,61.87 275.42,61.18 275.77,62.78 276.13,66.46 276.49,70.84 276.86,74.34 277.23,76.26 277.61,76.87 278.00,76.74 278.39,76.26 278.79,75.72 279.19,75.43 279.60,75.73 280.02,76.80 280.44,78.58 280.86,80.74 281.29,82.43 281.73,82.39 282.17,79.96 282.62,76.53 283.08,74.80 283.54,76.24 284.00,79.72 284.48,83.31 284.95,86.08 285.32,87.27 285.69,87.30 286.06,86.30 286.44,85.16 286.83,84.92 287.22,85.82 287.62,87.21 288.02,88.44 288.42,89.57 288.83,91.06 289.24,93.08 289.65,95.30 290.07,97.22 290.49,98.45 290.91,98.84 291.33,98.50 291.76,97.79 292.19,97.12 292.61,96.76 293.04,96.57 293.47,96.34 293.90,96.38 294.33,97.44 294.76,99.81 295.18,102.73 295.61,105.02 296.03,105.97 296.46,105.51 296.88,104.03 297.30,102.38 297.71,101.56 298.13,102.08 298.54,103.70 298.97,105.84 299.41,108.07 299.86,110.20 300.32,111.95 300.78,112.89 301.25,112.79 301.73,111.81 302.21,110.49 302.69,109.56 303.17,109.59 303.65,110.71 304.12,112.54 304.60,114.25 305.07,115.18 305.54,115.33 306.00,115.10 306.45,114.80 306.89,114.56 307.32,114.43 307.75,114.56 308.16,115.04 308.55,115.87 308.93,116.89 309.30,117.86 309.65,118.58 309.97,118.97 310.28,119.11 310.57,119.11 310.84,119.09 311.08,119.09 311.30,119.15"/>
<polyline fill="none" stroke="#000" stroke-width="0.9" stroke-linejoin="round" points="64.30,52.92 64.60,56.34 65.02,61.28 65.50,66.60 65.95,71.14 66.36,74.67 66.77,77.77 67.18,80.54 67.59,83.11 67.97,85.35 68.31,87.24 68.71,89.07 69.24,91.13 69.57,92.40 69.93,93.71 70.32,95.07 70.73,96.46 71.17,97.89 71.61,99.35 72.07,100.83 72.53,102.33 72.91,103.55 73.29,104.83 73.68,106.14 74.08,107.47 74.49,108.81 74.90,110.14 75.33,111.45 75.76,112.74 76.20,113.98 76.65,115.16 77.03,116.11 77.43,117.03 77.83,117.93 78.24,118.81 78.65,119.67 79.07,120.51 79.49,121.34 79.91,122.16 80.34,122.97 80.76,123.77 81.18,124.57 81.59,125.37 82.00,126.16 82.41,126.94 82.82,127.71 83.24,128.47 83.65,129.23 84.06,129.97 84.47,130.71 84.88,131.44 85.30,132.15 85.71,132.86 86.12,133.56 86.53,134.25 86.94,134.94 87.35,135.62 87.77,136.29 88.18,136.96 88.59,137.62 89.00,138.26 89.41,138.90 89.82,139.52 90.23,140.12 90.65,140.71 91.06,141.28 91.47,141.82 91.88,142.35 92.30,142.87 92.72,143.37 93.15,143.86 93.57,144.33 93.99,144.79 94.41,145.22 94.82,145.64 95.23,146.03 95.63,146.41 96.03,146.76 96.41,147.09 96.81,147.45 97.14,147.77 97.42,148.05 97.68,148.30 97.95,148.53 98.27,148.73 98.65,148.92 99.14,149.09 99.75,149.24 100.53,149.39 100.81,149.44 101.11,149.48 101.44,149.53 101.78,149.58 102.15,149.64 102.53,149.71 102.93,149.80 103.34,149.90 103.76,149.98 104.20,150.04 104.64,150.04 105.09,149.97 105.55,149.83 106.02,149.64 106.49,149.46 106.96,149.35 107.43,149.35 107.91,149.50 108.38,149.78 108.84,150.15 109.31,150.51 109.77,150.79 110.22,150.92 110.66,150.86 111.09,150.65 111.51,150.33 111.91,149.98 112.31,149.67 112.68,149.44 113.04,149.34 113.38,149.34 113.70,149.44 114.30,149.82 114.85,150.21 115.37,150.46 115.85,150.53 116.30,150.45 116.72,150.26 117.13,150.03 117.51,149.79 117.87,149.58 118.23,149.40 118.57,149.25 118.91,149.12 119.25,148.98 119.59,148.82 119.93,148.61 120.29,148.33 120.76,147.86 121.21,147.29 121.64,146.65 122.06,145.98 122.46,145.30 122.86,144.62 123.25,143.94 123.64,143.23 124.03,142.47 124.42,141.59 124.82,140.55 125.23,139.30 125.64,137.80 126.05,136.00 126.46,133.96 126.87,131.77 127.28,129.55 127.70,127.41 128.11,125.49 128.52,123.84 128.93,122.51 129.34,121.47 129.75,120.64 130.17,119.91 130.57,119.09 130.95,118.17 131.32,117.01 131.69,115.56 132.06,113.86 132.43,111.89 132.81,109.41 133.22,106.28 133.64,103.36 134.09,102.04 134.58,101.82 135.11,101.18 135.45,100.68 135.80,100.28 136.18,99.95 136.57,99.67 136.97,99.41 137.39,99.16 137.81,98.91 138.24,98.65 138.68,98.39 139.12,98.09 139.56,97.59 140.01,96.51 140.45,94.39 140.89,90.78 141.32,85.80 141.75,82.07 142.16,82.31 142.57,85.04 142.96,87.00 143.34,87.44 143.79,87.43 144.23,87.74 144.65,88.44 145.06,89.34 145.46,90.23 145.86,90.94 146.25,91.32 146.63,91.30 147.02,90.85 147.41,90.02 147.80,88.91 148.20,87.66 148.61,86.41 149.04,84.72 149.47,81.56 149.93,78.47 150.30,78.92 150.69,82.01 151.09,84.99 151.49,86.28 151.91,86.31 152.33,85.21 152.75,82.85 153.18,79.99 153.61,78.11 154.04,78.12 154.48,79.57 154.91,81.18 155.33,82.11 155.76,82.43 156.18,82.56 156.59,82.70 157.00,82.63 157.40,81.31 157.78,78.22 158.16,75.52 158.62,76.29 159.07,79.78 159.52,81.57 159.96,81.59 160.40,81.30 160.82,80.96 161.24,80.52 161.66,79.97 162.07,79.31 162.47,78.58 162.87,77.87 163.25,77.28 163.64,76.83 164.01,76.33 164.38,75.46 164.75,74.12 165.21,72.19 165.65,70.30 166.06,68.73 166.45,69.75 166.84,74.37 167.22,79.90 167.59,83.16 167.98,83.90 168.37,83.61 168.79,83.16 169.22,82.82 169.69,82.81 170.05,83.21 170.43,84.03 170.82,85.27 171.22,86.85 171.62,88.63 172.04,90.42 172.45,92.07 172.88,93.44 173.30,94.43 173.73,94.51 174.16,93.11 174.59,91.91 175.01,93.21 175.44,96.15 175.86,98.40 176.27,99.50 176.69,100.05 177.11,100.37 177.53,100.90 177.96,102.07 178.39,103.78 178.82,105.52 179.24,106.84 179.67,107.72 180.09,108.44 180.51,109.23 180.92,110.20 181.33,111.32 181.73,112.50 182.12,113.54 182.49,114.46 182.86,115.47 183.32,116.98 183.74,118.24 184.13,119.11 184.51,119.76 184.87,120.30 185.23,120.74 185.59,121.10 185.97,121.39 186.37,121.60 186.81,121.73 187.28,121.74 187.80,121.61 188.14,121.46 188.48,121.26 188.84,121.05 189.21,120.86 189.59,120.75 189.98,120.76 190.37,120.94 190.78,121.28 191.19,121.75 191.61,122.28 192.03,122.75 192.46,123.03 192.90,122.99 193.34,122.57 193.78,121.75 194.23,120.62 194.68,119.32 195.13,118.07 195.58,117.05 196.03,116.42 196.41,116.26 196.80,116.40 197.20,116.79 197.59,117.32 198.00,117.85 198.41,118.18 198.82,118.08 199.24,117.58 199.65,116.95 200.07,116.26 200.50,115.27 200.92,113.94 201.35,112.54 201.77,111.37 202.20,110.71 202.62,110.64 203.04,110.97 203.46,111.38 203.88,111.65 204.30,111.73 204.71,111.62 205.11,111.33 205.52,110.87 205.91,110.29 206.35,109.48 206.78,108.18 207.22,106.37 207.65,105.20 208.09,105.36 208.53,105.82 208.97,105.72 209.41,105.37 209.84,105.08 210.27,104.92 210.70,104.90 211.12,105.00 211.54,105.19 211.95,105.39 212.36,105.39 212.76,104.90 213.15,103.75 213.53,102.10 213.91,100.36 214.27,98.95 214.63,97.78 214.97,96.25 215.48,92.76 215.96,90.58 216.41,90.86 216.83,91.43 217.24,91.32 217.63,91.12 218.01,91.11 218.38,91.16 218.75,91.10 219.12,90.77 219.50,90.02 219.90,88.71 220.30,86.79 220.73,84.25 221.13,81.56 221.53,78.56 221.94,75.54 222.36,72.76 222.79,70.06 223.22,65.82 223.65,59.88 224.08,56.98 224.51,59.44 224.93,61.82 225.36,59.93 225.77,56.04 226.18,53.54 226.57,53.74 226.95,55.99 227.32,58.73 227.78,61.19 228.21,62.21 228.61,62.77 229.00,63.44 229.37,64.34 229.74,65.40 230.11,66.59 230.49,67.86 230.89,69.00 231.31,68.67 231.77,65.86 232.26,65.25 232.61,68.95 232.98,74.29 233.37,78.34 233.77,80.73 234.19,82.60 234.61,84.29 235.04,85.76 235.47,86.99 235.91,88.03 236.35,88.90 236.79,89.40 237.23,89.39 237.66,89.30 238.09,90.02 238.50,92.09 238.91,95.11 239.30,97.95 239.67,99.43 240.13,99.78 240.57,100.83 241.00,103.02 241.41,104.74 241.82,105.51 242.21,105.94 242.60,106.46 242.99,107.16 243.38,108.07 243.77,109.15 244.17,110.37 244.58,111.61 245.00,112.77 245.43,113.70 245.82,114.28 246.22,114.58 246.62,114.63 247.02,114.44 247.43,114.06 247.84,113.39 248.26,112.50 248.68,111.87 249.09,111.76 249.51,111.72 249.93,111.34 250.35,110.80 250.77,110.39 251.19,110.09 251.61,109.67 252.02,108.93 252.43,107.82 252.85,106.42 253.28,104.92 253.71,103.41 254.13,101.93 254.56,100.46 254.99,98.93 255.42,97.25 255.84,94.78 256.26,90.53 256.67,85.57 257.08,82.92 257.47,82.94 257.86,82.98 258.24,81.80 258.61,80.22 259.07,78.48 259.51,77.17 259.92,76.15 260.31,75.27 260.70,74.19 261.08,72.36 261.45,69.39 261.84,65.57 262.23,62.10 262.65,60.57 263.08,61.74 263.55,64.58 263.91,65.94 264.28,64.53 264.66,60.55 265.04,57.93 265.43,60.06 265.82,64.68 266.23,67.32 266.63,67.32 267.05,66.38 267.47,65.21 267.90,64.02 268.33,63.01 268.77,62.43 269.22,62.43 269.67,63.07 270.13,64.30 270.50,65.57 270.88,66.93 271.25,68.24 271.62,69.39 272.00,70.00 272.38,68.78 272.76,64.83 273.15,60.53 273.54,59.39 273.94,60.97 274.35,62.40 274.76,63.73 275.18,66.69 275.60,70.79 276.04,74.33 276.48,76.56 276.94,77.84 277.40,78.76 277.88,79.58 278.37,80.42 278.72,81.14 279.09,82.05 279.46,83.19 279.84,84.56 280.23,85.93 280.62,86.38 281.02,85.50 281.42,85.32 281.83,87.91 282.24,91.76 282.66,94.23 283.08,95.17 283.50,95.69 283.92,96.23 284.35,96.93 284.78,97.79 285.21,98.65 285.64,99.32 286.07,100.00 286.50,101.13 286.93,102.99 287.36,105.27 287.79,107.37 288.22,108.89 288.64,109.71 289.06,109.89 289.48,110.05 289.89,110.95 290.31,112.46 290.72,113.90 291.14,115.09 291.55,116.18 291.97,117.20 292.39,118.09 292.81,118.81 293.23,119.37 293.66,119.83 294.08,120.21 294.50,120.60 294.92,121.06 295.34,121.62 295.76,122.30 296.18,123.07 296.60,123.89 297.01,124.70 297.42,125.45 297.84,126.12 298.25,126.72 298.65,127.26 299.06,127.80 299.46,128.38 299.86,129.06 300.26,129.84 300.65,130.72 301.04,131.67 301.42,132.64 301.87,133.73 302.33,134.69 302.80,135.45 303.28,135.99 303.76,136.37 304.24,136.70 304.72,137.13 305.20,137.77 305.68,138.70 306.15,139.96 306.62,141.46 307.08,143.08 307.53,144.67 307.97,146.10 308.39,147.27 308.80,148.17 309.19,148.82 309.56,149.26 309.91,149.59 310.24,149.84 310.55,150.08 310.83,150.33 311.08,150.60 311.30,150.87"/>
<polyline fill="none" stroke="#000" stroke-width="0.9" stroke-linejoin="round" points="64.30,52.92 64.60,56.42 65.02,61.48 65.50,66.93 65.95,71.60 66.36,75.24 66.77,78.46 67.18,81.35 67.59,84.04 67.97,86.37 68.31,88.36 68.71,90.31 69.24,92.52 69.57,93.78 69.93,95.09 70.32,96.45 70.73,97.85 71.17,99.28 71.61,100.73 72.07,102.21 72.53,103.71 72.91,104.94 73.29,106.21 73.68,107.52 74.08,108.85 74.49,110.19 74.90,111.52 75.33,112.84 75.76,114.12 76.20,115.36 76.65,116.55 77.03,117.49 77.43,118.41 77.83,119.31 78.24,120.19 78.65,121.05 79.07,121.89 79.49,122.72 79.91,123.54 80.34,124.35 80.76,125.15 81.18,125.95 81.59,126.75 82.00,127.54 82.41,128.32 82.82,129.09 83.24,129.86 83.65,130.61 84.06,131.36 84.47,132.09 84.88,132.82 85.30,133.54 85.71,134.25 86.12,134.95 86.53,135.64 86.94,136.32 87.35,137.00 87.77,137.67 88.18,138.34 88.59,139.00 89.00,139.65 89.41,140.28 89.82,140.90 90.23,141.51 90.65,142.09 91.06,142.66 91.47,143.21 91.88,143.73 92.30,144.25 92.72,144.75 93.15,145.24 93.57,145.71 93.99,146.17 94.41,146.60 94.82,147.02 95.23,147.42 95.63,147.79 96.03,148.14 96.41,148.47 96.87,148.84 97.33,149.18 97.78,149.48 98.23,149.77 98.67,150.01 99.10,150.23 99.50,150.42 99.87,150.57 100.22,150.69 100.53,150.78 101.03,150.85 101.30,150.73 101.59,150.40 102.17,149.86 102.46,149.61 102.79,149.29 103.14,148.89 103.52,148.44 103.91,148.03 104.33,147.74 104.77,147.56 105.22,147.33 105.69,146.85 106.16,146.05 106.63,145.15 107.11,144.46 107.48,144.19 107.86,144.06 108.25,143.86 108.64,143.37 109.05,142.51 109.46,141.41 109.88,140.39 110.30,139.75 110.73,139.54 111.16,139.51 111.59,139.28 112.01,138.59 112.44,137.50 112.87,136.35 113.29,135.45 113.70,134.92 114.11,134.53 114.53,133.96 114.96,132.98 115.39,131.65 115.81,130.24 116.24,129.04 116.67,128.14 117.10,127.43 117.52,126.70 117.94,125.88 118.35,125.02 118.76,124.27 119.15,123.64 119.54,123.02 119.92,122.23 120.29,121.16 120.76,119.42 121.21,117.58 121.64,116.02 122.06,114.84 122.46,113.78 122.86,112.50 123.25,110.77 123.64,108.66 124.03,106.55 124.42,104.92 124.82,103.79 125.23,102.58 125.64,101.25 126.07,100.32 126.50,99.14 126.93,97.21 127.37,95.77 127.80,95.52 128.23,95.88 128.64,96.07 129.05,95.47 129.44,93.75 129.81,91.17 130.17,88.43 130.65,85.50 131.07,84.49 131.45,84.85 131.81,85.72 132.18,86.29 132.56,85.34 132.98,81.57 133.46,77.60 133.80,78.15 134.15,80.94 134.50,83.80 134.86,85.69 135.23,86.68 135.62,86.63 136.02,85.18 136.45,82.30 136.89,78.87 137.37,77.05 137.87,78.82 138.40,83.05 138.74,85.22 139.08,86.47 139.44,87.05 139.81,87.54 140.19,88.04 140.58,87.77 140.97,86.87 141.38,87.50 141.79,90.21 142.21,92.52 142.63,93.25 143.06,93.50 143.50,93.79 143.94,93.96 144.38,93.91 144.83,93.83 145.28,94.18 145.73,95.26 146.18,96.91 146.63,98.45 147.01,99.04 147.39,98.71 147.78,97.83 148.17,97.02 148.56,96.92 148.95,98.50 149.34,101.92 149.74,105.35 150.15,106.91 150.55,106.79 150.96,106.21 151.37,106.12 151.78,107.01 152.20,108.79 152.62,110.76 153.04,112.11 153.46,112.44 153.89,112.05 154.32,111.79 154.75,112.43 155.19,114.13 155.63,116.25 156.07,117.72 156.51,118.00 156.90,117.68 157.29,117.38 157.69,117.51 158.09,118.33 158.49,119.81 158.90,121.41 159.32,122.44 159.73,122.62 160.15,122.20 160.58,121.78 161.00,121.90 161.42,122.67 161.85,123.74 162.28,124.62 162.70,124.98 163.13,124.92 163.55,124.83 163.98,125.09 164.40,125.83 164.82,126.85 165.24,127.83 165.65,128.57 166.06,129.07 166.47,129.45 166.87,129.86 167.26,130.28 167.65,130.62 168.04,130.76 168.48,130.67 168.93,130.48 169.37,130.43 169.80,130.66 170.23,131.05 170.66,131.36 171.09,131.44 171.52,131.38 171.94,131.49 172.36,132.06 172.77,133.12 173.19,134.37 173.60,135.35 174.00,135.71 174.41,135.43 174.81,134.84 175.21,134.38 175.60,134.37 176.00,134.76 176.39,135.24 176.78,135.39 177.16,134.98 177.54,134.11 177.92,133.17 178.37,132.58 178.82,133.02 179.26,134.27 179.70,135.64 180.13,136.42 180.56,136.40 180.99,135.90 181.41,135.49 181.83,135.60 182.24,136.19 182.65,136.83 183.06,137.00 183.46,136.43 183.86,135.25 184.25,133.90 184.64,132.86 185.02,132.39 185.40,132.44 185.78,132.71 186.15,132.85 186.61,132.57 187.06,131.88 187.49,131.18 187.92,130.78 188.33,130.72 188.74,130.75 189.15,130.54 189.55,129.88 189.95,128.81 190.34,127.49 190.74,126.13 191.13,124.83 191.53,123.56 191.93,122.19 192.33,120.68 192.74,119.11 193.15,117.69 193.57,116.51 194.00,115.51 194.43,114.44 194.85,112.81 195.28,110.27 195.71,107.66 196.14,106.40 196.56,106.21 196.98,105.88 197.39,104.95 197.80,103.28 198.19,100.85 198.58,98.09 198.96,95.63 199.33,93.98 199.80,93.02 200.25,92.60 200.70,91.41 201.13,88.34 201.54,83.37 201.95,78.00 202.35,74.26 202.74,72.31 203.13,71.30 203.51,71.90 203.89,74.30 204.27,76.04 204.71,74.71 205.14,71.89 205.56,70.24 205.97,70.20 206.38,71.08 206.78,71.69 207.17,71.11 207.57,69.19 207.98,66.62 208.38,64.55 208.79,63.94 209.19,64.82 209.59,66.43 209.99,67.63 210.39,66.64 210.79,62.70 211.20,59.65 211.62,61.70 212.05,65.94 212.50,67.63 212.88,68.07 213.26,69.75 213.64,72.96 214.02,76.77 214.42,80.03 214.82,82.34 215.22,83.97 215.64,85.15 216.07,85.75 216.51,85.69 216.97,85.19 217.44,84.64 217.81,84.16 218.18,82.76 218.57,79.70 218.97,76.84 219.38,76.96 219.79,79.19 220.21,80.84 220.63,81.78 221.06,82.59 221.48,82.70 221.91,81.58 222.34,79.23 222.77,75.84 223.19,71.86 223.61,68.50 224.03,67.16 224.44,67.74 224.85,68.46 225.26,67.60 225.67,64.87 226.08,60.32 226.50,55.43 226.91,54.79 227.32,59.56 227.73,64.09 228.14,64.50 228.56,62.41 228.97,60.18 229.38,59.13 229.79,59.67 230.20,61.11 230.61,62.13 231.02,61.61 231.44,59.42 231.85,56.51 232.26,54.33 232.67,53.88 233.08,54.91 233.50,55.15 233.91,50.83 234.32,43.87 234.73,42.26 235.14,44.87 235.55,52.77 235.96,58.80 236.38,62.84 236.79,65.41 237.20,66.74 237.61,67.10 238.02,67.04 238.44,67.22 238.85,68.03 239.26,69.42 239.67,71.02 240.08,72.49 240.49,73.76 240.90,75.01 241.32,75.98 241.73,75.46 242.14,74.34 242.55,75.93 242.96,80.08 243.38,83.42 243.79,85.10 244.20,86.27 244.62,87.06 245.05,87.38 245.47,87.91 245.90,89.35 246.33,91.59 246.76,94.09 247.18,96.66 247.61,99.40 248.02,102.01 248.44,103.87 248.84,104.63 249.24,104.28 249.63,103.29 250.01,103.05 250.37,104.54 250.84,108.11 251.29,111.01 251.72,112.45 252.14,112.83 252.55,112.81 252.95,113.12 253.34,114.19 253.73,115.95 254.12,117.88 254.51,119.28 254.91,119.54 255.31,118.48 255.73,116.38 256.14,113.99 256.55,112.09 256.96,110.85 257.37,109.37 257.78,106.94 258.19,104.22 258.61,101.70 259.02,98.95 259.43,96.33 259.84,94.73 260.25,94.12 260.67,93.75 261.08,92.88 261.49,91.29 261.90,89.28 262.31,87.36 262.72,85.88 263.13,84.79 263.55,83.70 263.96,82.23 264.37,80.20 264.78,76.99 265.19,71.82 265.60,66.92 266.00,65.21 266.39,65.01 266.78,63.31 267.17,61.12 267.56,61.09 267.96,63.45 268.36,66.56 268.78,68.78 269.21,69.58 269.66,69.19 270.13,68.09 270.49,67.37 270.86,67.26 271.22,67.92 271.59,69.09 271.96,70.20 272.34,70.27 272.72,67.70 273.12,62.79 273.52,60.14 273.94,63.22 274.36,68.93 274.80,73.27 275.26,75.98 275.73,76.94 276.21,76.07 276.72,74.11 277.07,72.72 277.42,71.86 277.77,72.23 278.14,74.14 278.51,76.97 278.88,79.36 279.26,80.34 279.65,80.16 280.04,79.91 280.44,79.73 280.84,79.27 281.25,80.24 281.66,83.81 282.08,87.18 282.51,87.96 282.94,87.59 283.38,87.94 283.82,89.38 284.27,91.31 284.72,92.78 285.18,93.21 285.65,92.93 286.12,92.81 286.60,93.60 286.96,94.80 287.34,96.06 287.71,96.74 288.10,96.24 288.49,94.66 288.89,93.85 289.29,95.82 289.70,99.56 290.11,102.42 290.53,103.68 290.95,104.13 291.37,104.39 291.80,104.80 292.22,105.55 292.65,106.49 293.08,107.35 293.52,107.92 293.95,108.32 294.38,108.97 294.81,110.22 295.24,112.09 295.67,114.06 296.09,115.29 296.52,115.55 296.94,115.50 297.36,115.71 297.77,116.26 298.18,117.23 298.59,118.50 298.99,119.62 299.38,120.16 299.77,120.06 300.22,119.47 300.67,119.32 301.14,120.33 301.61,122.42 302.08,124.69 302.56,126.10 303.04,126.34 303.52,126.07 304.00,126.32 304.48,127.52 304.96,129.18 305.43,130.37 305.90,130.54 306.36,129.97 306.81,129.45 307.25,129.64 307.68,130.61 308.10,131.95 308.51,133.11 308.89,133.80 309.27,134.08 309.62,134.18 309.96,134.36 310.27,134.75 310.57,135.32 310.84,135.98 311.08,136.63 311.30,137.18"/>
<polyline fill="none" stroke="#000" stroke-width="0.9" stroke-linejoin="round" points="64.30,52.92 64.60,56.50 65.02,61.68 65.50,67.27 65.95,72.06 66.36,75.82 66.77,79.15 67.18,82.16 67.59,84.96 67.97,87.40 68.31,89.49 68.71,91.55 69.24,93.90 69.57,95.16 69.93,96.47 70.32,97.83 70.73,99.23 71.17,100.66 71.61,102.12 72.07,103.60 72.53,105.09 72.91,106.32 73.29,107.60 73.68,108.90 74.08,110.23 74.49,111.57 74.90,112.90 75.33,114.22 75.76,115.50 76.20,116.74 76.65,117.93 77.03,118.87 77.43,119.80 77.83,120.70 78.24,121.57 78.65,122.43 79.07,123.28 79.49,124.11 79.91,124.93 80.34,125.74 80.76,126.54 81.18,127.34 81.59,128.13 82.00,128.92 82.41,129.70 82.82,130.48 83.24,131.24 83.65,131.99 84.06,132.74 84.47,133.48 84.88,134.20 85.30,134.92 85.71,135.63 86.12,136.33 86.53,137.02 86.94,137.70 87.35,138.38 87.77,139.06 88.18,139.72 88.59,140.38 89.00,141.03 89.41,141.66 89.82,142.28 90.23,142.89 90.65,143.48 91.06,144.04 91.47,144.59 91.88,145.12 92.30,145.63 92.72,146.14 93.15,146.62 93.57,147.10 93.99,147.55 94.41,147.99 94.82,148.40 95.23,148.80 95.63,149.18 96.03,149.53 96.41,149.86 96.83,150.22 97.19,150.56 97.52,150.87 97.84,151.15 98.16,151.40 98.50,151.62 98.89,151.80 99.35,151.96 99.89,152.08 100.53,152.16 100.83,152.18 101.16,152.19 101.51,152.21 101.88,152.21 102.27,152.19 102.67,152.19 103.09,152.23 103.52,152.31 103.95,152.36 104.40,152.29 104.85,152.05 105.31,151.70 105.77,151.36 106.23,151.14 106.69,151.08 107.14,151.13 107.59,151.25 108.03,151.44 108.46,151.68 108.88,151.94 109.29,152.11 109.68,152.10 110.05,151.90 110.41,151.58 110.91,151.14 111.39,151.02 111.85,151.25 112.28,151.55 112.71,151.60 113.12,151.17 113.52,150.35 113.91,149.44 114.29,148.82 114.67,148.72 115.05,149.15 115.42,149.91 115.81,150.69 116.19,151.14 116.59,151.08 116.99,150.53 117.41,149.73 117.83,148.96 118.25,148.43 118.68,148.12 119.11,147.88 119.54,147.58 119.96,147.14 120.39,146.62 120.81,146.03 121.23,145.35 121.64,144.52 122.05,143.54 122.45,142.50 122.84,141.57 123.21,140.92 123.58,140.56 124.05,140.34 124.50,139.98 124.93,139.08 125.35,137.49 125.76,135.41 126.15,133.26 126.55,131.43 126.93,130.17 127.32,129.41 127.72,128.84 128.11,128.02 128.52,126.57 128.93,124.38 129.34,121.72 129.75,118.98 130.17,116.78 130.58,115.17 130.99,113.90 131.40,112.72 131.81,111.47 132.22,110.08 132.64,108.46 133.05,106.58 133.46,104.49 133.87,102.49 134.27,100.89 134.68,99.86 135.08,99.30 135.48,98.97 135.88,98.67 136.28,98.20 136.69,97.25 137.11,95.48 137.53,92.77 137.96,89.56 138.40,86.65 138.78,84.77 139.17,83.30 139.55,82.08 139.94,81.32 140.33,81.45 140.73,82.43 141.13,83.59 141.53,84.20 141.95,84.27 142.37,84.34 142.80,84.67 143.25,84.87 143.70,84.44 144.16,83.26 144.53,81.93 144.90,80.27 145.27,78.16 145.65,75.64 146.03,73.19 146.42,71.64 146.81,71.70 147.21,73.48 147.61,76.40 148.02,79.61 148.44,82.45 148.86,84.57 149.29,85.72 149.73,85.55 150.18,83.81 150.63,81.07 151.10,79.17 151.57,79.96 151.94,82.08 152.30,84.29 152.68,85.52 153.06,85.57 153.44,85.11 153.83,85.00 154.22,85.70 154.62,87.20 155.03,89.09 155.43,90.87 155.84,92.21 156.26,93.16 156.67,94.01 157.09,94.97 157.52,95.84 157.95,96.16 158.38,95.74 158.81,95.09 159.25,95.01 159.68,95.94 160.12,97.65 160.56,99.53 161.01,100.90 161.45,101.33 161.84,101.07 162.23,100.87 162.62,101.46 163.02,103.13 163.42,105.45 163.83,107.73 164.24,109.50 164.65,110.66 165.07,111.39 165.48,112.01 165.90,112.85 166.32,114.06 166.74,115.50 167.17,116.78 167.59,117.59 168.01,117.89 168.43,118.00 168.86,118.35 169.28,119.23 169.70,120.59 170.12,122.11 170.53,123.37 170.95,124.13 171.36,124.50 171.77,124.83 172.18,125.44 172.58,126.48 172.98,127.85 173.41,129.38 173.83,130.70 174.26,131.65 174.69,132.32 175.11,132.89 175.54,133.48 175.96,134.06 176.39,134.52 176.81,134.80 177.23,135.00 177.65,135.30 178.07,135.86 178.49,136.69 178.90,137.62 179.31,138.40 179.72,138.89 180.13,139.13 180.54,139.39 180.94,139.93 181.34,140.88 181.74,142.13 182.14,143.39 182.53,144.30 182.92,144.60 183.30,144.32 183.68,143.65 184.13,142.81 184.57,142.31 185.01,142.25 185.44,142.47 185.87,142.68 186.29,142.69 186.72,142.52 187.13,142.29 187.55,142.16 187.96,142.16 188.37,142.25 188.77,142.32 189.18,142.34 189.58,142.31 189.98,142.27 190.37,142.22 190.77,142.04 191.17,141.54 191.56,140.61 191.95,139.24 192.35,137.66 192.74,136.23 193.17,135.19 193.59,134.86 194.00,135.03 194.41,135.27 194.82,135.14 195.22,134.45 195.62,133.30 196.01,132.04 196.41,131.03 196.81,130.50 197.20,130.38 197.60,130.36 198.00,130.08 198.41,129.24 198.82,127.81 199.23,126.00 199.66,124.10 200.09,122.38 200.53,120.93 200.97,119.77 201.35,119.05 201.74,118.55 202.13,118.31 202.52,118.29 202.92,118.30 203.33,118.06 203.73,117.33 204.14,116.09 204.56,114.63 204.97,113.41 205.39,112.78 205.81,112.65 206.23,112.47 206.65,111.71 207.08,110.26 207.50,108.30 207.92,106.06 208.34,103.78 208.77,102.03 209.19,101.39 209.61,101.92 210.02,102.92 210.44,103.46 210.85,103.08 211.27,101.99 211.68,100.74 212.10,99.75 212.52,99.13 212.94,98.72 213.36,98.35 213.78,97.95 214.21,97.58 214.63,97.24 215.05,96.80 215.48,95.94 215.90,94.45 216.32,92.33 216.73,89.76 217.15,86.90 217.56,84.21 217.97,82.54 218.38,82.55 218.78,83.80 219.18,84.99 219.58,84.99 219.97,83.66 220.35,81.59 220.73,79.51 221.18,77.84 221.62,77.69 222.06,78.99 222.49,80.70 222.91,81.58 223.32,81.13 223.74,79.78 224.15,78.29 224.55,77.05 224.95,75.99 225.35,74.90 225.75,73.78 226.15,72.83 226.55,72.30 226.95,72.32 227.35,72.71 227.75,72.83 228.15,71.74 228.56,69.02 228.97,65.80 229.38,64.24 229.79,65.67 230.21,69.04 230.63,71.91 231.04,72.60 231.46,71.11 231.88,68.41 232.30,65.38 232.72,62.37 233.13,59.33 233.55,56.45 233.97,54.46 234.38,54.20 234.79,55.77 235.20,58.37 235.61,60.97 236.01,63.08 236.41,64.70 236.81,65.88 237.20,66.39 237.63,65.88 238.07,64.38 238.50,62.44 238.93,60.28 239.36,57.24 239.79,52.87 240.22,48.41 240.64,46.05 241.06,46.72 241.47,49.15 241.89,51.57 242.29,53.34 242.69,54.72 243.09,55.84 243.48,56.49 243.86,56.61 244.24,56.43 244.61,56.23 245.07,55.70 245.53,53.88 245.97,50.36 246.40,46.35 246.82,44.30 247.24,44.48 247.65,46.91 248.05,50.42 248.44,53.55 248.83,55.78 249.22,57.06 249.61,57.48 249.99,57.02 250.37,55.58 250.81,53.19 251.24,51.90 251.67,53.71 252.08,58.75 252.49,64.83 252.89,69.52 253.30,72.03 253.70,73.22 254.10,74.24 254.50,75.57 254.90,77.09 255.31,78.42 255.73,79.30 256.14,79.76 256.55,79.98 256.96,80.18 257.37,80.27 257.78,79.76 258.19,78.13 258.61,75.58 259.02,73.28 259.43,72.64 259.84,74.27 260.25,77.45 260.66,80.56 261.06,82.13 261.45,81.32 261.84,77.98 262.23,72.97 262.62,68.26 263.02,65.96 263.42,66.75 263.84,69.23 264.27,71.04 264.72,70.79 265.19,68.63 265.56,66.35 265.94,64.11 266.33,62.57 266.72,62.10 267.13,62.65 267.54,63.80 267.96,65.01 268.38,65.97 268.81,66.58 269.24,66.90 269.67,66.75 270.09,65.55 270.52,62.55 270.95,57.88 271.37,53.20 271.78,50.78 272.19,51.57 272.59,54.05 272.99,55.53 273.39,54.77 273.78,53.01 274.18,52.54 274.57,54.48 274.97,58.22 275.37,62.60 275.78,66.97 276.19,71.03 276.60,74.14 277.03,75.59 277.46,75.24 277.91,73.77 278.37,72.28 278.74,71.68 279.11,71.70 279.48,72.11 279.86,72.58 280.23,72.88 280.61,72.97 281.00,73.00 281.38,73.15 281.78,73.53 282.17,74.05 282.58,74.35 282.99,73.98 283.41,72.73 283.84,70.90 284.27,69.45 284.72,69.82 285.17,72.73 285.64,76.84 286.11,79.50 286.60,79.57 286.96,78.96 287.32,78.87 287.69,79.74 288.06,81.35 288.44,83.09 288.82,84.30 289.21,84.65 289.61,84.27 290.00,83.74 290.41,83.70 290.81,84.57 291.22,86.25 291.64,88.26 292.05,90.00 292.48,91.08 292.90,91.52 293.32,91.57 293.75,91.51 294.18,91.43 294.62,91.08 295.05,89.86 295.49,87.46 295.93,84.81 296.36,83.74 296.80,85.29 297.24,88.59 297.69,91.68 298.13,93.32 298.52,93.65 298.93,93.67 299.35,94.21 299.78,95.69 300.23,97.78 300.68,99.59 301.14,100.34 301.61,99.93 302.09,98.99 302.56,98.44 303.04,98.72 303.52,99.54 304.01,100.18 304.49,100.17 304.96,99.65 305.43,99.14 305.90,98.86 306.36,98.50 306.81,97.93 307.25,97.68 307.68,98.29 308.10,99.51 308.51,100.69 308.89,101.57 309.27,102.31 309.62,103.08 309.96,103.77 310.27,104.22 310.57,104.36 310.84,104.26 311.08,104.07 311.30,103.90"/>
<polyline fill="none" stroke="#000" stroke-width="0.9" stroke-linejoin="round" points="64.30,52.92 64.60,56.37 65.02,61.36 65.50,66.73 65.95,71.32 66.36,74.89 66.77,78.03 67.18,80.85 67.59,83.47 67.97,85.74 68.31,87.67 68.71,89.55 69.24,91.66 69.57,92.92 69.93,94.24 70.32,95.59 70.73,96.99 71.17,98.42 71.61,99.88 72.07,101.36 72.53,102.85 72.91,104.08 73.29,105.36 73.68,106.67 74.08,108.00 74.49,109.33 74.90,110.67 75.33,111.98 75.76,113.27 76.20,114.51 76.65,115.69 77.03,116.64 77.43,117.56 77.83,118.46 78.24,119.34 78.65,120.20 79.07,121.04 79.49,121.87 79.91,122.69 80.34,123.50 80.76,124.30 81.18,125.10 81.59,125.89 82.00,126.68 82.41,127.47 82.82,128.24 83.24,129.00 83.65,129.76 84.06,130.50 84.47,131.24 84.88,131.96 85.30,132.68 85.71,133.39 86.12,134.09 86.53,134.78 86.94,135.47 87.35,136.15 87.77,136.82 88.18,137.49 88.59,138.15 89.00,138.79 89.41,139.43 89.82,140.05 90.23,140.65 90.65,141.24 91.06,141.81 91.47,142.35 91.88,142.88 92.30,143.40 92.72,143.90 93.15,144.39 93.57,144.86 93.99,145.31 94.41,145.75 94.82,146.17 95.23,146.56 95.63,146.94 96.03,147.29 96.41,147.62 96.81,147.98 97.14,148.29 97.42,148.58 97.68,148.83 97.95,149.06 98.27,149.26 98.65,149.44 99.14,149.61 99.75,149.77 100.53,149.92 100.81,149.97 101.12,150.01 101.45,150.06 101.80,150.14 102.17,150.18 102.55,150.14 102.96,150.02 103.38,149.88 103.81,149.82 104.25,149.95 104.70,150.25 105.17,150.60 105.63,150.78 106.11,150.65 106.58,150.27 107.06,149.88 107.54,149.77 108.02,150.04 108.49,150.56 108.97,151.01 109.43,151.08 109.89,150.71 110.34,150.09 110.77,149.55 111.20,149.34 111.61,149.55 112.01,150.07 112.39,150.67 112.75,151.17 113.09,151.44 113.40,151.49 113.70,151.38 114.40,150.83 115.00,150.60 115.51,150.74 115.96,151.01 116.34,151.28 116.68,151.48 117.00,151.64 117.30,151.76 117.60,151.85 117.91,151.93 118.25,152.01 118.64,152.10 119.05,152.23 119.46,152.38 119.88,152.49 120.29,152.52 120.70,152.43 121.11,152.19 121.52,151.77 121.93,151.16 122.34,150.38 122.76,149.52 123.17,148.71 123.58,148.04 123.99,147.53 124.40,147.10 124.81,146.56 125.23,145.68 125.64,144.29 126.05,142.38 126.46,140.14 126.87,137.90 127.28,135.98 127.70,134.62 128.11,133.79 128.52,133.21 128.93,132.37 129.32,130.86 129.72,128.58 130.11,125.73 130.49,122.76 130.89,120.24 131.28,118.65 131.69,118.16 132.11,118.57 132.54,119.00 132.99,118.29 133.46,115.33 133.83,111.66 134.20,107.69 134.59,104.61 134.99,102.92 135.40,102.31 135.81,102.28 136.23,102.63 136.65,103.06 137.08,103.02 137.50,101.92 137.93,99.68 138.36,97.00 138.79,94.95 139.21,94.16 139.63,94.48 140.05,95.20 140.46,95.54 140.87,95.00 141.28,93.51 141.69,91.45 142.11,89.42 142.52,87.60 142.93,85.48 143.34,82.97 143.75,81.51 144.16,82.58 144.57,85.42 144.99,87.71 145.40,88.25 145.81,87.62 146.22,86.63 146.63,85.28 147.05,83.18 147.46,80.33 147.87,77.59 148.28,76.28 148.69,77.05 149.10,79.30 149.51,81.68 149.93,83.21 150.34,83.69 150.75,83.41 151.16,82.67 151.57,81.76 151.99,80.90 152.40,79.61 152.81,77.04 153.22,73.80 153.63,72.31 154.02,73.80 154.41,76.77 154.79,79.05 155.17,80.00 155.55,80.44 155.92,81.13 156.31,82.16 156.70,83.28 157.10,84.15 157.51,84.49 157.93,84.22 158.37,83.36 158.83,81.86 159.30,80.16 159.81,79.70 160.16,80.78 160.51,82.84 160.88,85.12 161.26,86.74 161.65,87.37 162.05,87.08 162.45,85.95 162.86,84.61 163.27,84.82 163.69,87.76 164.11,92.09 164.54,95.13 164.97,95.83 165.40,95.17 165.84,94.42 166.27,94.35 166.71,95.27 167.14,97.01 167.57,99.11 168.00,101.00 168.43,102.35 168.85,103.15 169.27,103.62 169.69,104.06 170.10,104.56 170.52,105.02 170.93,105.37 171.35,105.76 171.77,106.38 172.20,107.14 172.62,108.01 173.04,109.37 173.46,111.39 173.89,113.57 174.31,115.29 174.73,116.37 175.15,117.10 175.57,117.78 175.98,118.74 176.40,120.19 176.81,122.01 177.21,123.94 177.62,125.60 178.02,126.67 178.41,127.09 178.80,127.05 179.19,126.91 179.57,127.10 180.02,128.14 180.46,130.12 180.89,132.62 181.32,135.04 181.74,136.84 182.16,137.81 182.57,138.07 182.98,138.03 183.38,138.15 183.79,138.73 184.19,139.88 184.59,141.45 184.98,143.15 185.38,144.63 185.78,145.67 186.18,146.25 186.58,146.53 186.98,146.82 187.39,147.36 187.80,148.28 188.21,149.49 188.62,150.75 189.03,151.81 189.45,152.51 189.86,152.85 190.27,152.98 190.68,153.09 191.09,153.35 191.50,153.79 191.92,154.37 192.33,154.95 192.74,155.46 193.15,155.90 193.56,156.32 193.98,156.82 194.39,157.44 194.80,158.14 195.21,158.79 195.62,159.26 196.03,159.47 196.44,159.43 196.85,159.29 197.25,159.21 197.65,159.34 198.05,159.72 198.45,160.31 198.85,160.99 199.25,161.61 199.65,162.09 200.05,162.40 200.45,162.60 200.85,162.77 201.26,162.94 201.68,163.13 202.09,163.29 202.51,163.35 202.94,163.31 203.38,163.22 203.82,163.20 204.27,163.35 204.65,163.61 205.04,163.91 205.43,164.14 205.84,164.20 206.25,164.06 206.66,163.81 207.08,163.62 207.50,163.66 207.92,163.98 208.35,164.47 208.78,164.85 209.21,164.87 209.64,164.40 210.06,163.54 210.49,162.62 210.91,162.00 211.34,161.92 211.75,162.39 212.17,163.16 212.58,163.85 212.98,164.15 213.38,163.91 213.77,163.23 214.15,162.32 214.60,161.31 215.04,160.67 215.49,160.46 215.93,160.48 216.36,160.43 216.79,160.09 217.22,159.44 217.64,158.64 218.06,157.94 218.47,157.48 218.88,157.27 219.28,157.15 219.69,156.92 220.08,156.41 220.48,155.60 220.87,154.60 221.25,153.63 221.63,152.85 222.01,152.35 222.38,152.08 222.84,151.80 223.28,151.26 223.72,150.29 224.14,148.98 224.56,147.62 224.97,146.54 225.38,145.95 225.78,145.81 226.17,145.90 226.57,145.86 226.96,145.34 227.36,144.19 227.76,142.45 228.15,140.43 228.56,138.53 228.97,137.14 229.38,136.42 229.79,136.29 230.20,136.43 230.61,136.40 231.02,135.83 231.44,134.62 231.85,132.91 232.26,131.05 232.67,129.41 233.08,128.21 233.50,127.46 233.91,126.97 234.32,126.44 234.73,125.62 235.14,124.40 235.55,122.85 235.96,121.15 236.38,119.51 236.79,118.11 237.20,117.05 237.61,116.25 238.02,115.60 238.44,114.99 238.85,114.30 239.26,113.42 239.67,112.23 240.08,110.54 240.49,107.98 240.90,104.47 241.32,100.80 241.73,98.27 242.14,97.47 242.55,97.95 242.96,98.94 243.38,99.83 243.79,100.06 244.20,99.27 244.61,97.63 245.02,95.58 245.43,93.60 245.84,92.07 246.26,91.10 246.67,90.52 247.08,89.93 247.49,88.93 247.90,87.36 248.31,85.40 248.73,83.50 249.14,82.18 249.55,81.59 249.96,80.92 250.37,78.78 250.79,75.37 251.20,72.95 251.61,73.04 252.02,74.22 252.43,74.09 252.84,72.07 253.25,69.40 253.67,67.52 254.08,67.37 254.49,68.84 254.90,70.62 255.31,71.23 255.73,70.36 256.14,69.06 256.55,68.62 256.96,69.62 257.37,71.66 257.78,73.80 258.19,75.03 258.61,74.69 259.02,72.78 259.43,69.65 259.84,65.17 260.25,59.64 260.67,55.68 261.08,56.54 261.49,62.07 261.90,68.21 262.31,71.45 262.72,71.59 263.13,70.18 263.55,68.33 263.96,66.48 264.37,64.42 264.78,61.67 265.19,58.46 265.61,56.09 266.02,55.91 266.43,57.91 266.84,60.64 267.25,62.57 267.66,63.24 268.07,63.14 268.49,62.82 268.90,62.46 269.30,61.60 269.70,59.13 270.09,55.20 270.49,52.62 270.88,54.28 271.28,59.54 271.68,64.56 272.08,66.49 272.48,65.72 272.89,64.12 273.31,63.11 273.74,63.47 274.17,65.50 274.62,68.77 275.07,72.15 275.44,74.01 275.82,74.39 276.19,72.88 276.56,69.65 276.94,65.83 277.32,63.24 277.70,63.40 278.09,66.50 278.48,71.19 278.88,75.33 279.29,76.78 279.70,74.70 280.12,71.16 280.54,70.01 280.98,72.88 281.42,77.49 281.88,81.23 282.34,83.88 282.82,85.89 283.31,87.01 283.67,87.22 284.04,87.09 284.42,86.91 284.81,86.95 285.21,87.38 285.62,88.22 286.03,89.32 286.46,90.50 286.88,91.64 287.32,92.66 287.75,93.39 288.19,93.54 288.63,93.06 289.07,92.05 289.51,90.87 289.95,90.69 290.39,92.54 290.82,95.70 291.26,98.46 291.68,100.13 292.11,101.19 292.52,102.07 292.93,102.85 293.33,103.59 293.72,104.41 294.10,105.40 294.47,106.57 294.83,107.80 295.32,109.30 295.79,110.19 296.25,110.34 296.69,110.04 297.12,109.82 297.55,110.17 297.96,111.31 298.36,113.09 298.76,115.01 299.16,116.52 299.55,117.38 299.93,117.64 300.32,117.51 300.70,117.27 301.09,117.33 301.47,118.02 301.86,119.51 302.26,121.60 302.66,123.70 303.07,125.17 303.49,125.52 303.93,124.69 304.38,123.25 304.85,122.24 305.32,122.61 305.80,124.60 306.28,127.50 306.76,130.04 307.23,131.22 307.70,130.82 308.16,129.47 308.60,128.17 309.03,127.69 309.44,128.23 309.82,129.50 310.18,131.01 310.51,132.33 310.81,133.24 311.07,133.74 311.30,133.93"/>
<polyline fill="none" stroke="#000" stroke-width="0.9" stroke-linejoin="round" points="64.30,52.92 64.60,56.45 65.02,61.56 65.50,67.06 65.95,71.78 66.36,75.46 66.77,78.72 67.18,81.66 67.59,84.39 67.97,86.77 68.31,88.79 68.71,90.78 69.24,93.05 69.57,94.31 69.93,95.62 70.32,96.98 70.73,98.37 71.17,99.80 71.61,101.26 72.07,102.74 72.53,104.24 72.91,105.47 73.29,106.74 73.68,108.05 74.08,109.38 74.49,110.72 74.90,112.05 75.33,113.36 75.76,114.65 76.20,115.89 76.65,117.07 77.03,118.02 77.43,118.94 77.83,119.84 78.24,120.72 78.65,121.58 79.07,122.42 79.49,123.25 79.91,124.07 80.34,124.88 80.76,125.68 81.18,126.48 81.59,127.28 82.00,128.07 82.41,128.85 82.82,129.62 83.24,130.39 83.65,131.14 84.06,131.88 84.47,132.62 84.88,133.35 85.30,134.07 85.71,134.77 86.12,135.47 86.53,136.16 86.94,136.85 87.35,137.53 87.77,138.20 88.18,138.87 88.59,139.53 89.00,140.18 89.41,140.81 89.82,141.43 90.23,142.03 90.65,142.62 91.06,143.19 91.47,143.73 91.88,144.26 92.30,144.78 92.72,145.28 93.15,145.77 93.57,146.24 93.99,146.70 94.41,147.13 94.82,147.55 95.23,147.95 95.63,148.32 96.03,148.67 96.41,149.00 96.84,149.37 97.22,149.70 97.58,150.01 97.92,150.29 98.26,150.54 98.62,150.76 99.02,150.95 99.45,151.10 99.95,151.22 100.53,151.30 100.85,151.33 101.19,151.33 101.55,151.36 101.94,151.39 102.33,151.36 102.75,151.24 103.17,151.03 103.60,150.75 104.04,150.49 104.49,150.32 104.94,150.32 105.39,150.48 105.84,150.76 106.28,151.04 106.72,151.24 107.15,151.30 107.57,151.24 107.98,151.08 108.38,150.90 108.76,150.72 109.22,150.51 109.66,150.32 110.10,150.10 110.52,149.85 110.94,149.60 111.35,149.43 111.76,149.41 112.16,149.60 112.55,150.01 112.95,150.57 113.34,151.16 113.74,151.64 114.14,151.84 114.53,151.71 114.94,151.28 115.35,150.65 115.76,150.00 116.18,149.51 116.61,149.25 117.03,149.23 117.46,149.31 117.89,149.30 118.32,149.06 118.74,148.51 119.17,147.70 119.58,146.76 120.00,145.86 120.40,145.15 120.80,144.66 121.19,144.36 121.57,144.14 121.93,143.88 122.40,143.28 122.85,142.31 123.28,141.00 123.70,139.50 124.11,137.90 124.51,136.33 124.90,134.84 125.29,133.42 125.68,132.04 126.07,130.61 126.47,129.05 126.87,127.35 127.28,125.50 127.68,123.61 128.07,121.81 128.46,120.20 128.85,118.86 129.24,117.75 129.64,116.66 130.04,115.40 130.46,113.68 130.89,111.23 131.34,108.09 131.81,104.87 132.18,103.01 132.55,101.96 132.92,101.68 133.31,101.86 133.69,102.06 134.09,101.96 134.49,101.40 134.90,100.32 135.32,98.69 135.74,96.55 136.16,93.63 136.60,89.69 137.04,85.87 137.49,84.38 137.94,85.73 138.40,87.69 138.77,88.22 139.15,87.83 139.53,87.06 139.91,86.28 140.30,85.72 140.70,85.52 141.09,85.75 141.50,86.33 141.90,87.04 142.31,87.57 142.72,87.53 143.14,86.39 143.56,83.88 143.99,80.46 144.42,77.43 144.85,76.24 145.29,77.27 145.74,79.24 146.18,79.73 146.63,77.63 147.01,75.51 147.40,75.21 147.79,77.14 148.18,79.87 148.58,81.97 148.99,83.47 149.39,85.00 149.80,86.66 150.22,88.11 150.63,88.92 151.05,88.85 151.47,87.89 151.89,86.28 152.31,84.49 152.74,83.03 153.16,82.29 153.58,82.43 154.00,83.38 154.43,84.84 154.85,86.47 155.27,87.89 155.68,88.38 156.10,86.96 156.51,83.72 156.93,80.92 157.34,81.13 157.75,84.57 158.16,89.03 158.57,92.42 158.98,94.25 159.39,95.03 159.81,95.40 160.22,95.88 160.63,96.81 161.04,98.30 161.45,100.28 161.87,102.52 162.28,104.69 162.69,106.46 163.10,107.64 163.51,108.19 163.92,108.29 164.33,108.26 164.75,108.43 165.16,109.08 165.57,110.22 165.98,111.68 166.39,113.27 166.81,115.08 167.22,117.06 167.63,118.85 168.04,120.09 168.45,120.81 168.86,121.30 169.27,121.83 169.69,122.48 170.10,123.25 170.51,124.09 170.92,124.93 171.33,125.73 171.75,126.49 172.16,127.29 172.57,128.23 172.98,129.40 173.39,130.80 173.80,132.36 174.22,133.93 174.63,135.33 175.04,136.40 175.45,137.08 175.86,137.40 176.27,137.50 176.69,137.57 177.10,137.82 177.52,138.35 177.94,139.17 178.36,140.18 178.78,141.21 179.20,142.11 179.63,142.76 180.05,143.14 180.47,143.35 180.90,143.52 181.32,143.82 181.74,144.31 182.15,144.99 182.57,145.78 182.98,146.53 183.39,147.13 183.80,147.52 184.20,147.72 184.60,147.80 185.00,147.89 185.39,148.05 185.77,148.35 186.15,148.75 186.60,149.27 187.04,149.71 187.48,149.92 187.91,149.89 188.33,149.65 188.74,149.33 189.16,149.07 189.57,148.98 189.97,149.08 190.37,149.33 190.77,149.64 191.17,149.89 191.57,149.97 191.97,149.85 192.37,149.56 192.77,149.17 193.17,148.77 193.57,148.43 193.98,148.16 194.39,147.88 194.80,147.45 195.21,146.74 195.62,145.65 196.03,144.19 196.44,142.46 196.86,140.65 197.27,138.97 197.68,137.56 198.09,136.54 198.50,135.88 198.92,135.48 199.33,135.14 199.74,134.63 200.15,133.82 200.56,132.62 200.97,131.10 201.38,129.37 201.80,127.56 202.21,125.78 202.62,124.09 203.03,122.41 203.44,120.67 203.86,118.88 204.27,117.07 204.68,115.29 205.09,113.65 205.50,112.13 205.91,110.57 206.32,109.10 206.74,108.06 207.15,107.40 207.56,106.36 207.97,104.38 208.38,101.86 208.80,99.62 209.21,98.04 209.62,96.99 210.03,96.22 210.44,95.68 210.85,95.38 211.27,95.20 211.68,94.85 212.10,94.04 212.53,92.67 212.95,90.84 213.38,88.83 213.80,87.00 214.23,85.62 214.65,84.76 215.07,83.93 215.49,82.05 215.91,78.81 216.33,75.95 216.74,75.50 217.14,77.19 217.55,78.95 217.94,79.49 218.33,79.18 218.71,78.68 219.09,77.99 219.54,76.18 219.99,72.69 220.42,67.99 220.85,63.71 221.27,61.51 221.68,61.88 222.08,63.92 222.48,66.27 222.88,67.98 223.28,68.85 223.67,68.98 224.07,68.47 224.46,67.31 224.86,65.27 225.26,61.60 225.67,56.13 226.08,51.28 226.50,50.69 226.91,55.00 227.32,60.99 227.73,65.28 228.14,67.27 228.56,67.90 228.97,67.72 229.38,66.96 229.79,65.95 230.20,65.04 230.61,64.48 231.02,64.35 231.44,64.57 231.85,64.74 232.26,64.21 232.67,62.59 233.07,60.38 233.47,58.95 233.87,59.69 234.26,63.01 234.66,67.84 235.05,71.87 235.45,73.20 235.85,72.39 236.26,72.15 236.67,74.17 237.08,77.15 237.51,78.85 237.94,79.04 238.39,79.09 238.85,79.92 239.22,81.20 239.61,82.92 240.01,84.79 240.41,86.57 240.83,88.08 241.25,89.34 241.67,90.49 242.10,91.73 242.53,93.20 242.96,94.90 243.40,96.62 243.83,98.08 244.25,98.99 244.68,98.93 245.10,97.30 245.51,94.24 245.92,91.39 246.32,90.60 246.70,92.25 247.08,95.23 247.54,99.01 247.98,101.98 248.42,104.06 248.84,105.40 249.26,106.19 249.67,106.60 250.08,106.80 250.48,106.93 250.87,107.06 251.27,107.17 251.66,107.17 252.06,106.98 252.46,106.49 252.85,105.70 253.26,104.70 253.67,103.66 254.08,102.74 254.50,101.99 254.93,101.07 255.35,99.48 255.78,97.57 256.21,96.43 256.64,96.25 257.06,95.70 257.49,93.49 257.90,89.63 258.32,84.97 258.72,80.56 259.12,77.53 259.51,76.62 259.89,77.68 260.25,79.74 260.72,82.15 261.17,82.99 261.60,82.41 262.02,81.04 262.43,79.37 262.83,77.63 263.22,75.96 263.61,74.39 264.00,72.88 264.39,71.10 264.79,68.13 265.19,63.25 265.60,58.04 266.00,55.69 266.39,57.48 266.78,61.60 267.17,65.37 267.56,67.77 267.96,69.24 268.36,70.14 268.78,70.30 269.21,69.55 269.66,67.98 270.13,65.76 270.50,63.61 270.87,61.09 271.24,58.65 271.63,57.28 272.01,58.02 272.41,61.12 272.81,65.61 273.22,69.85 273.64,72.62 274.06,73.78 274.48,73.54 274.92,71.69 275.36,69.10 275.81,68.76 276.26,72.48 276.72,77.91 277.09,81.10 277.48,82.74 277.87,83.50 278.26,84.02 278.66,84.57 279.07,85.29 279.48,86.19 279.89,87.17 280.31,88.03 280.73,88.59 281.16,88.73 281.58,88.55 282.01,88.28 282.43,88.24 282.86,88.57 283.28,89.10 283.70,89.61 284.12,90.10 284.54,90.53 284.95,90.79 285.37,91.38 285.79,93.15 286.22,96.00 286.65,98.68 287.09,100.37 287.53,101.49 287.97,102.74 288.40,104.14 288.84,105.46 289.28,106.48 289.71,107.16 290.13,107.62 290.55,108.06 290.96,108.71 291.36,109.66 291.75,110.91 292.13,112.31 292.50,113.70 292.85,114.88 293.19,115.75 293.72,116.49 294.21,116.48 294.67,115.91 295.11,115.07 295.52,114.38 295.91,114.00 296.29,113.75 296.66,113.29 297.03,112.44 297.39,111.31 297.75,110.15 298.13,109.13 298.57,107.91 299.00,106.50 299.42,105.00 299.83,103.53 300.24,102.17 300.64,100.87 301.03,99.49 301.43,97.97 301.84,96.35 302.24,94.88 302.65,93.82 303.05,93.37 303.45,93.72 303.85,94.82 304.25,96.20 304.65,97.23 305.06,98.04 305.48,99.53 305.91,102.06 306.36,104.69 306.76,106.33 307.19,107.59 307.65,109.04 308.13,111.03 308.61,113.41 309.09,115.93 309.55,118.48 309.99,120.98 310.39,123.02 310.75,124.79 311.06,126.30 311.30,127.51"/>
<polyline fill="none" stroke="#000" stroke-width="0.9" stroke-linejoin="round" points="64.30,52.92 64.60,56.54 65.02,61.76 65.50,67.40 65.95,72.24 66.36,76.04 66.77,79.41 67.18,82.47 67.59,85.31 67.97,87.79 68.31,89.92 68.71,92.02 69.24,94.43 69.57,95.69 69.93,97.00 70.32,98.36 70.73,99.76 71.17,101.19 71.61,102.64 72.07,104.12 72.53,105.62 72.91,106.85 73.29,108.12 73.68,109.43 74.08,110.76 74.49,112.10 74.90,113.43 75.33,114.75 75.76,116.03 76.20,117.27 76.65,118.46 77.03,119.40 77.43,120.32 77.83,121.22 78.24,122.10 78.65,122.96 79.07,123.81 79.49,124.64 79.91,125.45 80.34,126.26 80.76,127.07 81.18,127.86 81.59,128.66 82.00,129.45 82.41,130.23 82.82,131.01 83.24,131.77 83.65,132.52 84.06,133.27 84.47,134.00 84.88,134.73 85.30,135.45 85.71,136.16 86.12,136.86 86.53,137.55 86.94,138.23 87.35,138.91 87.77,139.59 88.18,140.25 88.59,140.91 89.00,141.56 89.41,142.19 89.82,142.81 90.23,143.42 90.65,144.00 91.06,144.57 91.47,145.12 91.88,145.65 92.30,146.16 92.72,146.67 93.15,147.15 93.57,147.62 93.99,148.08 94.41,148.52 94.82,148.93 95.23,149.33 95.63,149.70 96.03,150.06 96.41,150.38 96.85,150.75 97.27,151.09 97.68,151.40 98.08,151.68 98.47,151.93 98.86,152.14 99.26,152.33 99.66,152.48 100.09,152.60 100.53,152.69 100.90,152.72 101.28,152.72 101.67,152.69 102.05,152.65 102.44,152.60 102.84,152.54 103.25,152.47 103.67,152.38 104.10,152.25 104.54,152.08 104.99,151.86 105.47,151.61 105.83,151.42 106.21,151.23 106.60,151.06 107.00,150.93 107.40,150.86 107.82,150.87 108.23,150.93 108.66,151.05 109.08,151.20 109.51,151.34 109.94,151.42 110.37,151.42 110.79,151.31 111.22,151.08 111.64,150.74 112.05,150.30 112.47,149.82 112.89,149.33 113.31,148.88 113.74,148.50 114.17,148.24 114.60,148.07 115.02,147.98 115.45,147.93 115.87,147.89 116.29,147.80 116.70,147.66 117.11,147.42 117.51,147.08 117.90,146.65 118.27,146.12 118.64,145.51 119.11,144.61 119.56,143.63 119.99,142.61 120.41,141.55 120.82,140.45 121.21,139.32 121.61,138.15 121.99,136.93 122.38,135.67 122.78,134.37 123.17,133.02 123.58,131.63 123.99,130.19 124.40,128.70 124.81,127.17 125.23,125.63 125.64,124.11 126.05,122.60 126.46,121.10 126.87,119.73 127.28,118.32 127.70,116.84 128.11,115.28 128.52,113.63 128.93,111.84 129.32,109.91 129.72,107.88 130.11,105.79 130.49,103.70 130.89,101.68 131.28,99.76 131.69,97.76 132.11,95.32 132.54,92.46 132.99,90.24 133.46,90.00 133.82,90.83 134.19,91.13 134.57,89.87 134.95,87.55 135.34,85.90 135.74,85.95 136.14,86.82 136.55,86.96 136.96,85.93 137.38,84.41 137.81,82.97 138.25,81.81 138.69,81.03 139.13,80.69 139.59,80.79 140.05,81.27 140.42,81.84 140.80,82.49 141.18,83.12 141.56,83.64 141.95,83.93 142.34,83.65 142.74,82.23 143.14,79.59 143.55,76.65 143.96,74.42 144.37,73.08 144.79,72.72 145.21,74.02 145.64,76.98 146.07,80.16 146.50,82.21 146.94,83.35 147.38,84.30 147.83,85.25 148.28,86.10 148.66,86.69 149.04,87.15 149.42,87.47 149.81,87.67 150.20,87.79 150.60,87.87 150.99,87.96 151.39,88.12 151.79,88.36 152.20,88.73 152.60,89.19 153.01,89.54 153.43,89.03 153.84,86.86 154.26,83.67 154.68,82.12 155.11,84.19 155.54,88.58 155.97,92.27 156.40,94.00 156.83,94.69 157.27,95.28 157.72,96.00 158.16,96.86 158.55,97.71 158.94,98.65 159.33,99.64 159.73,100.62 160.14,101.55 160.55,102.38 160.96,103.08 161.38,103.64 161.80,104.08 162.22,104.45 162.65,104.80 163.07,105.14 163.50,105.27 163.92,104.94 164.35,104.52 164.78,104.86 165.20,106.42 165.62,108.81 166.05,111.28 166.47,113.35 166.88,114.89 167.30,115.99 167.71,116.80 168.11,117.40 168.51,117.82 168.91,118.11 169.30,118.32 169.69,118.51 170.13,118.81 170.57,119.25 171.00,119.88 171.43,120.71 171.85,121.74 172.27,122.91 172.69,124.14 173.10,125.37 173.51,126.55 173.92,127.61 174.33,128.53 174.73,129.30 175.13,129.91 175.53,130.39 175.93,130.76 176.33,131.07 176.73,131.36 177.14,131.67 177.54,132.02 177.94,132.45 178.34,132.95 178.75,133.52 179.16,134.15 179.57,134.81 179.98,135.49 180.40,136.15 180.81,136.78 181.23,137.34 181.65,137.84 182.08,138.25 182.50,138.60 182.92,138.88 183.34,139.11 183.77,139.30 184.19,139.48 184.61,139.64 185.03,139.79 185.45,139.93 185.86,140.05 186.28,140.16 186.69,140.25 187.09,140.32 187.50,140.36 187.90,140.37 188.29,140.36 188.68,140.33 189.07,140.27 189.45,140.18 189.90,140.02 190.34,139.80 190.77,139.52 191.20,139.14 191.62,138.67 192.04,138.10 192.45,137.43 192.86,136.65 193.26,135.78 193.67,134.85 194.07,133.87 194.47,132.86 194.86,131.85 195.26,130.87 195.66,129.92 196.06,129.01 196.46,128.15 196.86,127.32 197.27,126.50 197.68,125.66 198.09,124.73 198.51,123.67 198.93,122.46 199.35,121.14 199.78,119.68 200.20,118.07 200.63,116.36 201.05,114.59 201.48,112.81 201.90,111.08 202.32,109.32 202.74,107.28 203.15,104.76 203.56,102.30 203.97,100.80 204.37,100.43 204.77,100.37 205.16,99.86 205.54,98.85 205.91,97.65 206.37,96.09 206.83,94.26 207.27,91.66 207.71,88.04 208.15,84.40 208.58,82.35 209.00,82.31 209.41,83.09 209.82,83.29 210.22,82.56 210.62,81.34 211.01,80.02 211.39,78.69 211.77,77.32 212.14,75.60 212.50,72.89 212.97,67.71 213.42,63.46 213.85,62.97 214.27,65.29 214.68,67.53 215.07,68.31 215.47,68.18 215.85,67.89 216.24,67.61 216.64,67.29 217.03,66.85 217.44,66.07 217.85,64.24 218.24,60.77 218.64,56.34 219.03,53.01 219.41,52.56 219.81,54.92 220.20,58.23 220.61,60.73 221.03,62.16 221.46,63.31 221.91,64.25 222.38,63.49 222.74,61.56 223.11,60.16 223.49,61.28 223.87,64.99 224.26,69.11 224.66,71.56 225.06,72.21 225.47,72.05 225.88,71.74 226.30,71.48 226.73,71.44 227.17,71.76 227.61,72.55 228.05,73.77 228.51,74.88 228.97,74.94 229.34,74.34 229.72,74.32 230.11,76.05 230.51,79.49 230.91,83.23 231.32,85.80 231.73,86.58 232.14,85.50 232.56,83.20 232.98,81.62 233.40,82.45 233.83,85.12 234.25,87.74 234.68,89.50 235.10,90.91 235.53,92.44 235.95,94.09 236.37,95.74 236.79,97.26 237.20,98.56 237.61,99.60 238.03,100.40 238.45,100.96 238.87,101.29 239.30,101.22 239.72,100.59 240.15,99.68 240.57,99.38 241.00,100.33 241.42,102.11 241.84,103.55 242.26,104.08 242.67,104.39 243.08,105.41 243.49,107.07 243.89,108.57 244.29,109.43 244.68,109.73 245.06,109.75 245.43,109.63 245.89,109.40 246.34,109.15 246.77,108.96 247.20,108.86 247.61,108.85 248.02,108.90 248.43,108.97 248.83,109.00 249.23,108.92 249.62,108.65 250.02,108.00 250.41,106.71 250.81,104.77 251.21,102.53 251.61,100.40 252.02,98.49 252.43,96.93 252.85,96.16 253.28,96.31 253.71,96.70 254.13,96.65 254.56,96.22 254.99,95.79 255.42,95.40 255.84,94.92 256.26,94.24 256.67,93.28 257.08,91.99 257.47,90.40 257.86,88.56 258.24,86.57 258.61,84.56 259.07,81.98 259.51,79.60 259.92,77.56 260.31,75.87 260.70,74.17 261.08,71.51 261.45,66.88 261.84,60.94 262.23,56.87 262.65,58.26 263.08,64.74 263.55,71.17 263.91,73.25 264.27,73.34 264.63,72.61 265.00,71.61 265.37,70.45 265.75,69.26 266.14,68.15 266.53,67.26 266.94,66.70 267.35,66.57 267.78,66.94 268.22,67.80 268.67,69.11 269.14,70.72 269.63,72.45 270.13,74.09 270.48,74.98 270.83,75.29 271.19,74.27 271.55,71.35 271.92,67.24 272.29,63.97 272.67,63.44 273.06,65.85 273.45,69.78 273.85,73.57 274.25,76.31 274.66,77.94 275.08,79.03 275.50,80.14 275.92,81.41 276.35,82.79 276.79,84.22 277.23,85.62 277.68,86.94 278.14,88.14 278.60,89.20 279.06,90.12 279.54,90.92 280.01,91.64 280.38,92.08 280.75,92.14 281.13,91.43 281.51,90.26 281.91,89.75 282.30,90.64 282.71,92.17 283.11,93.10 283.53,93.57 283.94,94.76 284.36,97.04 284.78,99.56 285.21,101.51 285.64,102.89 286.07,104.06 286.50,105.18 286.93,106.26 287.36,107.29 287.79,108.25 288.22,109.14 288.65,109.96 289.08,110.72 289.51,111.44 289.93,112.13 290.35,112.76 290.77,113.21 291.19,113.53 291.60,114.06 292.00,115.04 292.40,116.32 292.80,117.54 293.19,118.55 293.63,119.54 294.07,120.57 294.52,121.73 294.96,122.85 295.41,123.88 295.85,124.86 296.30,125.79 296.74,126.67 297.19,127.51 297.63,128.32 298.07,129.10 298.50,129.85 298.93,130.58 299.36,131.30 299.79,132.02 300.21,132.75 300.62,133.50 301.03,134.28 301.43,135.09 301.83,135.93 302.22,136.81 302.60,137.70 302.97,138.60 303.34,139.49 303.70,140.35 304.05,141.16 304.38,141.91 304.71,142.60 305.27,143.62 305.82,144.42 306.35,145.00 306.86,145.44 307.36,145.79 307.83,146.14 308.29,146.55 308.73,147.06 309.14,147.67 309.53,148.36 309.89,149.11 310.23,149.88 310.54,150.63 310.83,151.33 311.08,151.96 311.30,152.51"/>
<polyline fill="none" stroke="#000" stroke-width="0.9" stroke-linejoin="round" points="437.20,52.92 437.50,56.38 437.92,61.39 438.40,66.77 438.85,71.35 439.24,74.81 439.62,77.78 440.03,80.49 440.50,83.20 440.83,84.93 441.14,86.50 441.48,88.02 441.88,89.63 442.36,91.39 442.98,93.40 443.29,94.38 443.63,95.41 444.00,96.50 444.39,97.63 444.80,98.81 445.22,100.01 445.66,101.24 446.11,102.48 446.56,103.74 447.01,104.99 447.46,106.24 447.90,107.47 448.33,108.68 448.75,109.86 449.17,111.02 449.58,112.19 449.99,113.35 450.41,114.52 450.82,115.68 451.23,116.85 451.64,118.01 452.06,119.16 452.47,120.31 452.88,121.46 453.29,122.60 453.71,123.74 454.12,124.87 454.53,125.99 454.94,127.11 455.36,128.24 455.77,129.38 456.18,130.52 456.60,131.66 457.01,132.79 457.42,133.91 457.83,135.01 458.25,136.10 458.66,137.17 459.07,138.21 459.48,139.21 459.90,140.19 460.31,141.13 460.72,142.03 461.13,142.91 461.55,143.77 461.96,144.61 462.37,145.42 462.79,146.21 463.20,146.97 463.61,147.71 464.02,148.43 464.44,149.12 464.85,149.79 465.26,150.44 465.67,151.06 466.09,151.66 466.50,152.23 466.92,152.78 467.34,153.31 467.76,153.80 468.18,154.28 468.61,154.73 469.03,155.16 469.45,155.56 469.86,155.95 470.27,156.31 470.68,156.66 471.08,156.99 471.48,157.29 471.86,157.58 472.31,157.90 472.75,158.17 473.18,158.42 473.61,158.63 474.03,158.82 474.44,158.98 474.85,159.09 475.26,159.15 475.66,159.20 476.05,159.29 476.43,159.43 476.82,159.61 477.25,159.81 477.67,159.90 478.06,159.86 478.45,159.70 478.83,159.46 479.21,159.20 479.61,158.98 480.02,158.87 480.47,158.87 480.94,158.96 481.31,159.00 481.69,158.94 482.09,158.76 482.50,158.47 482.92,158.19 483.35,158.02 483.78,158.09 484.22,158.39 484.65,158.80 485.08,159.10 485.51,159.09 485.92,158.68 486.33,157.92 486.72,156.99 487.17,156.02 487.61,155.47 488.05,155.48 488.49,155.97 488.93,156.69 489.35,157.30 489.77,157.53 490.17,157.24 490.57,156.48 490.95,155.42 491.32,154.29 491.67,153.29 492.16,152.32 492.61,152.02 493.03,152.17 493.43,152.52 493.81,152.85 494.19,152.98 494.57,152.78 494.97,152.17 495.38,151.18 495.77,149.95 496.16,148.60 496.55,147.24 496.95,145.90 497.36,144.63 497.80,143.42 498.27,142.25 498.65,141.29 499.05,140.15 499.47,138.90 499.90,137.62 500.35,136.37 500.79,135.16 501.23,133.96 501.66,132.76 502.07,131.62 502.46,130.66 502.81,130.03 503.30,130.01 503.72,131.12 504.10,133.08 504.46,135.58 504.84,138.33 505.24,141.00 505.70,143.28 506.06,144.61 506.44,145.77 506.82,146.72 507.22,147.44 507.64,147.97 508.06,148.40 508.49,148.82 508.93,149.31 509.38,149.88 509.83,150.50 510.22,151.03 510.64,151.52 511.07,151.90 511.51,152.10 511.96,152.08 512.41,151.85 512.85,151.45 513.28,150.95 513.70,150.42 514.09,149.91 514.45,149.43 514.78,148.96 515.34,147.96 515.79,146.73 516.17,145.16 516.52,143.20 516.87,140.85 517.26,138.07 517.66,134.68 518.05,130.73 518.44,126.51 518.85,122.28 519.27,118.55 519.73,115.38 520.10,113.06 520.46,110.30 520.84,106.75 521.23,102.58 521.64,98.70 522.07,95.89 522.54,93.29 523.03,89.83 523.39,88.13 523.75,88.33 524.14,90.26 524.53,92.28 524.94,93.00 525.36,92.39 525.78,90.96 526.21,89.02 526.65,86.87 527.09,84.94 527.54,83.60 527.99,83.00 528.37,82.98 528.77,83.20 529.17,83.37 529.58,83.20 529.99,82.52 530.40,81.35 530.82,79.75 531.24,77.36 531.67,73.33 532.09,67.12 532.51,59.84 532.93,54.98 533.35,55.85 533.76,61.71 534.18,68.11 534.60,71.53 535.02,72.24 535.44,72.32 535.86,72.83 536.28,73.72 536.70,74.57 537.12,74.92 537.54,74.44 537.95,73.09 538.36,71.17 538.76,69.22 539.15,67.84 539.54,67.47 539.98,68.46 540.40,70.62 540.80,73.31 541.19,75.80 541.58,77.31 541.97,76.51 542.35,71.77 542.75,63.23 543.16,54.66 543.58,51.55 544.03,56.15 544.49,65.40 544.86,72.37 545.23,78.00 545.61,82.13 545.99,85.00 546.38,86.81 546.78,87.66 547.18,87.79 547.59,87.68 548.00,87.89 548.43,88.82 548.86,90.59 549.29,92.98 549.73,95.51 550.18,97.68 550.63,99.21 551.10,100.15 551.47,100.72 551.85,101.16 552.23,101.43 552.61,101.89 553.00,103.32 553.40,105.94 553.80,108.77 554.20,110.65 554.61,111.50 555.02,112.09 555.43,112.94 555.85,114.07 556.27,115.55 556.70,117.59 557.13,120.22 557.57,123.17 558.01,125.84 558.45,127.71 558.90,128.59 559.35,128.69 559.73,128.52 560.12,128.55 560.51,129.08 560.91,130.30 561.32,132.20 561.73,134.44 562.14,136.57 562.56,138.21 562.98,139.15 563.40,139.45 563.82,139.38 564.25,139.36 564.68,139.74 565.10,140.71 565.53,142.22 565.95,144.03 566.38,145.80 566.80,147.19 567.22,147.95 567.63,148.15 568.04,148.09 568.45,148.13 568.86,148.57 569.25,149.57 569.68,151.21 570.10,153.14 570.51,154.96 570.92,156.36 571.32,157.16 571.72,157.39 572.12,157.25 572.51,157.06 572.90,157.11 573.30,157.60 573.69,158.58 574.08,159.95 574.48,161.46 574.88,162.84 575.29,163.85 575.70,164.41 576.12,164.59 576.54,164.61 576.97,164.78 577.42,165.34 577.87,166.36 578.33,167.66 578.70,168.64 579.08,169.38 579.46,169.77 579.85,169.81 580.24,169.64 580.63,169.51 581.03,169.67 581.43,170.32 581.83,171.47 582.24,172.95 582.65,174.44 583.07,175.57 583.48,176.07 583.90,175.88 584.32,175.17 584.75,174.34 585.17,173.84 585.60,174.02 586.02,174.99 586.45,176.59 586.88,178.43 587.31,180.02 587.74,180.97 588.17,181.12 588.60,180.60 589.03,179.76 589.46,179.04 589.89,178.80 590.29,179.16 590.70,180.04 591.11,181.22 591.53,182.41 591.95,183.32 592.38,183.78 592.80,183.82 593.24,183.63 593.67,183.46 594.11,183.53 594.54,183.88 594.98,184.43 595.41,184.99 595.85,185.34 596.28,185.42 596.72,185.29 597.15,185.14 597.57,185.18 598.00,185.57 598.42,186.31 598.83,187.25 599.24,188.15 599.64,188.78 600.04,188.98 600.43,188.75 600.82,188.22 601.19,187.60 601.56,187.12 601.92,186.96 602.27,187.18 602.76,188.13 603.23,189.42 603.67,190.61 604.08,191.40 604.47,191.69 604.84,191.54 605.20,191.10 605.55,190.57 605.89,190.10 606.24,189.84 606.59,189.87 606.94,190.22 607.31,190.83 607.69,191.58 608.09,192.30 608.51,192.79 608.96,192.91 609.45,192.67 609.96,192.30 610.52,192.19 610.85,192.35 611.18,192.69 611.52,193.16 611.87,193.67 612.23,194.10 612.59,194.37 612.97,194.44 613.35,194.31 613.73,194.07 614.12,193.87 614.52,193.82 614.92,194.01 615.33,194.43 615.74,195.01 616.16,195.61 616.58,196.07 617.00,196.31 617.43,196.32 617.86,196.18 618.30,196.04 618.73,196.00 619.17,196.13 619.61,196.41 620.06,196.75 620.50,197.05 620.95,197.25 621.39,197.35 621.84,197.42 622.28,197.55 622.73,197.81 623.17,198.20 623.62,198.61 624.06,198.93 624.50,199.05 624.94,198.92 625.38,198.62 625.77,198.30 626.17,198.08 626.57,198.07 626.98,198.34 627.39,198.87 627.80,199.56 628.22,200.25 628.64,200.78 629.06,201.01 629.48,200.91 629.91,200.55 630.34,200.06 630.77,199.63 631.20,199.40 631.63,199.46 632.06,199.79 632.49,200.32 632.92,200.93 633.35,201.50 633.78,201.92 634.21,202.14 634.64,202.17 635.07,202.03 635.50,201.77 635.92,201.46 636.34,201.15 636.76,200.91 637.18,200.82 637.60,200.92 638.01,201.21 638.42,201.66 638.82,202.20 639.22,202.71 639.61,203.09 640.01,203.25 640.39,203.15 640.77,202.80 641.15,202.29 641.52,201.71 641.88,201.20 642.36,200.76 642.82,200.71 643.28,200.99 643.73,201.47 644.17,201.93 644.60,202.21 645.02,202.20 645.44,201.90 645.85,201.37 646.25,200.73 646.66,200.10 647.05,199.56 647.45,199.17 647.84,198.92 648.23,198.77 648.62,198.68 649.00,198.61 649.39,198.51 649.78,198.39 650.17,198.26 650.56,198.11 650.95,197.96 651.35,197.78 651.75,197.54 652.15,197.23 652.56,196.83 652.98,196.36 653.40,195.90 653.83,195.54 654.26,195.37 654.65,195.43 655.04,195.65 655.43,195.96 655.82,196.28 656.21,196.47 656.61,196.48 657.00,196.28 657.40,195.91 657.79,195.48 658.19,195.11 658.59,194.90 658.99,194.92 659.40,195.14 659.80,195.49 660.20,195.83 660.61,196.04 661.02,196.04 661.43,195.85 661.84,195.54 662.26,195.24 662.67,195.09 663.09,195.15 663.51,195.43 663.93,195.83 664.36,196.18 664.79,196.33 665.22,196.21 665.65,195.83 666.08,195.32 666.52,194.86 666.96,194.62 667.40,194.71 667.85,195.09 668.29,195.62 668.68,196.02 669.08,196.25 669.49,196.22 669.92,195.91 670.35,195.40 670.79,194.86 671.24,194.45 671.70,194.28 672.16,194.36 672.63,194.57 673.11,194.78 673.58,194.88 674.06,194.86 674.54,194.76 675.03,194.69 675.51,194.69 675.99,194.70 676.47,194.64 676.95,194.39 677.42,193.95 677.89,193.41 678.36,192.97 678.82,192.81 679.27,193.02 679.71,193.54 680.14,194.19 680.57,194.72 680.98,194.94 681.39,194.77 681.78,194.22 682.15,193.45 682.52,192.64 682.86,191.96 683.19,191.52 683.51,191.36 683.81,191.47 684.09,191.76 684.34,192.17 684.58,192.61 684.80,193.02"/>
<polyline fill="none" stroke="#000" stroke-width="0.9" stroke-linejoin="round" points="437.20,52.92 437.50,56.31 437.92,61.21 438.40,66.48 438.85,70.94 439.24,74.31 439.62,77.18 440.03,79.80 440.50,82.38 440.83,84.03 441.14,85.52 441.48,86.97 441.88,88.48 442.36,90.17 442.98,92.18 443.29,93.15 443.63,94.19 444.00,95.28 444.39,96.41 444.80,97.59 445.22,98.79 445.66,100.02 446.11,101.26 446.56,102.52 447.01,103.77 447.46,105.01 447.90,106.25 448.33,107.46 448.75,108.64 449.17,109.80 449.58,110.97 449.99,112.13 450.41,113.30 450.82,114.46 451.23,115.63 451.64,116.78 452.06,117.94 452.47,119.09 452.88,120.24 453.29,121.38 453.71,122.52 454.12,123.65 454.53,124.77 454.94,125.89 455.36,127.02 455.77,128.16 456.18,129.30 456.60,130.44 457.01,131.57 457.42,132.69 457.83,133.79 458.25,134.88 458.66,135.95 459.07,136.99 459.48,137.99 459.90,138.97 460.31,139.91 460.72,140.81 461.13,141.69 461.55,142.55 461.96,143.39 462.37,144.20 462.79,144.99 463.20,145.75 463.61,146.49 464.02,147.21 464.44,147.90 464.85,148.57 465.26,149.22 465.67,149.84 466.09,150.44 466.50,151.01 466.92,151.56 467.34,152.09 467.76,152.58 468.18,153.06 468.61,153.51 469.03,153.94 469.45,154.34 469.86,154.73 470.27,155.09 470.68,155.44 471.08,155.77 471.48,156.07 471.86,156.36 472.31,156.68 472.74,156.95 473.16,157.20 473.58,157.41 473.99,157.60 474.39,157.76 474.79,157.89 475.20,158.05 475.60,158.24 476.00,158.45 476.41,158.64 476.82,158.76 477.22,158.75 477.62,158.62 478.02,158.41 478.41,158.15 478.80,157.93 479.19,157.77 479.59,157.69 480.00,157.68 480.41,157.68 480.85,157.63 481.30,157.50 481.77,157.28 482.13,157.11 482.50,157.00 482.88,157.00 483.26,157.15 483.65,157.44 484.05,157.81 484.45,158.18 484.86,158.42 485.28,158.45 485.70,158.22 486.13,157.76 486.57,157.14 487.01,156.50 487.46,155.97 487.91,155.61 488.37,155.42 488.75,155.36 489.13,155.35 489.52,155.37 489.92,155.40 490.32,155.45 490.73,155.51 491.14,155.58 491.55,155.67 491.97,155.77 492.39,155.87 492.82,155.96 493.24,156.03 493.67,156.08 494.10,156.10 494.52,156.05 494.95,155.90 495.37,155.64 495.79,155.24 496.21,154.75 496.62,154.22 497.04,153.75 497.46,153.42 497.88,153.31 498.30,153.41 498.73,153.70 499.15,154.05 499.58,154.35 500.00,154.50 500.43,154.45 500.85,154.25 501.28,153.99 501.69,153.79 502.11,153.74 502.52,153.86 502.93,154.08 503.33,154.31 503.73,154.42 504.12,154.32 504.50,153.99 504.88,153.46 505.34,152.66 505.80,151.93 506.25,151.44 506.70,151.30 507.15,151.45 507.58,151.75 508.01,152.01 508.44,152.07 508.85,151.89 509.26,151.51 509.65,151.03 510.04,150.58 510.42,150.25 510.78,150.08 511.14,150.04 511.48,150.07 512.00,150.11 512.50,149.94 512.98,149.43 513.43,148.63 513.85,147.66 514.25,146.64 514.63,145.65 514.98,144.69 515.31,143.68 515.61,142.56 516.19,138.98 516.59,134.32 516.90,128.96 517.26,123.21 517.63,116.77 517.98,109.82 518.38,103.25 518.91,98.12 519.24,95.94 519.62,93.12 520.03,89.05 520.46,84.37 520.90,81.41 521.35,82.01 521.79,85.18 522.21,88.26 522.62,89.84 523.02,90.22 523.41,90.05 523.81,89.72 524.21,89.26 524.63,88.56 525.06,87.57 525.51,86.41 525.89,85.54 526.28,84.94 526.69,84.73 527.10,84.89 527.52,85.24 527.95,85.48 528.37,85.33 528.80,84.62 529.22,83.42 529.64,81.99 530.05,80.59 530.46,79.16 530.88,76.81 531.29,72.15 531.70,65.09 532.11,58.20 532.53,55.17 532.94,57.36 533.35,62.38 533.76,66.48 534.17,67.91 534.58,67.69 534.98,67.50 535.38,68.05 535.78,69.17 536.18,70.39 536.59,71.20 537.01,71.20 537.44,70.32 537.89,68.89 538.26,67.74 538.63,67.05 538.99,67.05 539.36,67.82 539.73,69.21 540.11,70.90 540.50,72.44 540.92,73.35 541.35,73.29 541.82,72.19 542.31,69.39 542.84,63.02 543.18,57.73 543.53,53.62 543.90,53.61 544.28,59.21 544.67,68.68 545.08,77.92 545.49,83.73 545.91,85.91 546.33,86.20 546.76,86.15 547.20,86.55 547.64,87.73 548.08,89.64 548.52,91.91 548.96,93.98 549.39,95.42 549.83,96.08 550.26,96.14 550.68,96.03 551.10,96.22 551.51,97.05 551.91,98.64 552.32,100.85 552.72,103.36 553.12,105.79 553.52,107.75 553.92,108.76 554.32,108.60 554.72,107.78 555.12,107.43 555.52,108.46 555.93,110.82 556.34,113.61 556.75,116.03 557.17,117.82 557.59,119.08 558.02,119.96 558.46,120.63 558.90,121.26 559.35,122.08 559.73,123.05 560.12,124.32 560.51,125.83 560.90,127.43 561.30,128.95 561.71,130.21 562.12,131.19 562.53,131.99 562.94,132.71 563.36,133.47 563.78,134.38 564.20,135.52 564.62,136.77 565.04,137.95 565.47,138.93 565.89,139.67 566.31,140.20 566.74,140.66 567.16,141.23 567.58,142.06 568.00,143.20 568.42,144.58 568.84,146.06 569.25,147.42 569.66,148.51 570.07,149.27 570.48,149.76 570.88,150.11 571.29,150.51 571.69,151.12 572.09,152.03 572.49,153.16 572.89,154.37 573.30,155.48 573.70,156.32 574.10,156.83 574.51,157.04 574.91,157.11 575.32,157.25 575.73,157.68 576.15,158.52 576.57,159.76 576.99,161.26 577.41,162.74 577.84,163.96 578.27,164.72 578.71,165.01 579.16,164.99 579.54,164.94 579.93,165.04 580.32,165.44 580.72,166.14 581.12,167.08 581.52,168.07 581.93,168.91 582.34,169.46 582.75,169.67 583.16,169.63 583.58,169.54 583.99,169.61 584.41,170.03 584.83,170.84 585.25,171.96 585.67,173.20 586.10,174.31 586.52,175.11 586.94,175.51 587.36,175.54 587.78,175.38 588.21,175.22 588.63,175.23 589.05,175.50 589.47,176.01 589.88,176.64 590.30,177.27 590.71,177.77 591.13,178.09 591.54,178.26 591.96,178.37 592.38,178.54 592.80,178.87 593.22,179.39 593.64,180.08 594.06,180.85 594.48,181.58 594.91,182.16 595.33,182.55 595.75,182.75 596.17,182.81 596.59,182.79 597.01,182.76 597.43,182.77 597.85,182.83 598.26,182.93 598.67,183.09 599.09,183.29 599.49,183.54 599.90,183.87 600.30,184.26 600.70,184.70 601.10,185.17 601.49,185.62 601.88,186.02 602.27,186.36 602.71,186.67 603.13,186.93 603.55,187.18 603.96,187.45 604.35,187.75 604.74,188.04 605.13,188.29 605.51,188.45 605.88,188.49 606.26,188.40 606.64,188.21 607.01,188.00 607.39,187.84 607.78,187.83 608.17,188.02 608.56,188.43 608.97,189.02 609.39,189.69 609.81,190.32 610.25,190.78 610.71,191.00 611.18,191.01 611.66,190.94 612.17,190.98 612.52,191.13 612.87,191.39 613.24,191.72 613.60,192.06 613.98,192.32 614.36,192.42 614.75,192.33 615.14,192.08 615.54,191.76 615.94,191.48 616.35,191.36 616.76,191.48 617.17,191.84 617.59,192.38 618.01,192.98 618.43,193.50 618.86,193.85 619.29,194.01 619.72,194.04 620.15,194.02 620.59,194.05 621.02,194.19 621.46,194.43 621.89,194.71 622.33,194.95 622.76,195.08 623.20,195.08 623.63,194.97 624.06,194.83 624.49,194.73 624.92,194.72 625.35,194.81 625.77,194.97 626.19,195.17 626.61,195.37 627.03,195.56 627.44,195.75 627.86,195.98 628.28,196.26 628.70,196.58 629.12,196.90 629.54,197.18 629.97,197.35 630.39,197.39 630.82,197.33 631.25,197.24 631.67,197.20 632.10,197.27 632.53,197.47 632.96,197.75 633.38,198.01 633.81,198.15 634.24,198.09 634.66,197.86 635.08,197.55 635.51,197.31 635.93,197.26 636.35,197.52 636.76,198.04 637.18,198.74 637.59,199.42 638.00,199.92 638.40,200.11 638.80,199.99 639.20,199.64 639.60,199.21 639.99,198.88 640.38,198.76 640.76,198.90 641.14,199.23 641.51,199.64 641.88,199.95 642.35,200.02 642.80,199.62 643.24,198.83 643.66,197.90 644.08,197.11 644.49,196.67 644.89,196.67 645.28,197.05 645.67,197.67 646.05,198.30 646.43,198.74 646.81,198.86 647.18,198.60 647.56,198.04 647.93,197.31 648.31,196.59 648.69,196.05 649.08,195.81 649.47,195.86 649.87,196.10 650.28,196.32 650.69,196.31 651.12,195.90 651.56,195.06 652.00,193.95 652.47,192.89 652.94,192.24 653.44,192.27 653.79,192.69 654.15,193.34 654.52,194.05 654.89,194.64 655.27,194.98 655.66,195.01 656.05,194.75 656.45,194.35 656.85,193.98 657.25,193.76 657.66,193.77 658.08,193.96 658.49,194.17 658.91,194.23 659.34,194.00 659.76,193.45 660.19,192.68 660.62,191.90 661.05,191.32 661.48,191.12 661.92,191.31 662.35,191.81 662.79,192.42 663.22,192.96 663.66,193.29 664.09,193.41 664.53,193.40 664.96,193.39 665.39,193.47 665.82,193.65 666.24,193.86 666.67,193.96 667.09,193.84 667.51,193.42 667.93,192.77 668.34,192.03 668.75,191.37 669.15,190.96 669.55,190.86 669.94,191.06 670.38,191.53 670.83,192.06 671.29,192.46 671.75,192.64 672.22,192.63 672.69,192.61 673.16,192.80 673.64,193.28 674.12,193.98 674.60,194.62 675.09,194.88 675.57,194.57 676.05,193.73 676.53,192.62 677.00,191.66 677.48,191.19 677.94,191.33 678.40,191.95 678.86,192.76 679.31,193.43 679.75,193.75 680.18,193.72 680.60,193.47 681.01,193.24 681.41,193.24 681.80,193.54 682.17,194.12 682.53,194.84 682.87,195.52 683.20,196.03 683.52,196.26 683.81,196.21 684.09,195.92 684.35,195.45 684.58,194.91 684.80,194.35"/>
<polyline fill="none" stroke="#000" stroke-width="0.9" stroke-linejoin="round" points="437.20,52.92 437.50,56.36 437.92,61.32 438.40,66.66 438.85,71.19 439.24,74.62 439.62,77.55 440.03,80.23 440.50,82.89 440.83,84.59 441.14,86.12 441.48,87.62 441.88,89.19 442.36,90.93 442.98,92.94 443.29,93.91 443.63,94.94 444.00,96.03 444.39,97.17 444.80,98.34 445.22,99.55 445.66,100.77 446.11,102.02 446.56,103.27 447.01,104.52 447.46,105.77 447.90,107.00 448.33,108.21 448.75,109.39 449.17,110.56 449.58,111.72 449.99,112.89 450.41,114.05 450.82,115.22 451.23,116.38 451.64,117.54 452.06,118.70 452.47,119.85 452.88,120.99 453.29,122.14 453.71,123.27 454.12,124.40 454.53,125.52 454.94,126.64 455.36,127.78 455.77,128.91 456.18,130.05 456.60,131.19 457.01,132.32 457.42,133.44 457.83,134.55 458.25,135.63 458.66,136.70 459.07,137.74 459.48,138.75 459.90,139.72 460.31,140.66 460.72,141.57 461.13,142.45 461.55,143.31 461.96,144.14 462.37,144.95 462.79,145.74 463.20,146.50 463.61,147.24 464.02,147.96 464.44,148.65 464.85,149.32 465.26,149.97 465.67,150.59 466.09,151.19 466.50,151.77 466.92,152.32 467.34,152.84 467.76,153.34 468.18,153.81 468.61,154.26 469.03,154.69 469.45,155.10 469.86,155.48 470.27,155.85 470.68,156.19 471.08,156.52 471.48,156.83 471.86,157.12 472.30,157.43 472.72,157.71 473.12,157.95 473.51,158.17 473.90,158.35 474.29,158.52 474.68,158.68 475.07,158.78 475.48,158.82 475.90,158.81 476.35,158.80 476.82,158.82 477.18,158.85 477.56,158.87 477.95,158.84 478.35,158.80 478.76,158.79 479.17,158.90 479.59,159.17 480.01,159.57 480.44,159.93 480.87,160.05 481.30,159.82 481.73,159.26 482.16,158.58 482.58,158.03 483.00,157.78 483.42,157.82 483.83,158.01 484.23,158.15 484.63,158.13 485.03,157.94 485.43,157.67 485.82,157.44 486.22,157.35 486.62,157.37 487.02,157.47 487.42,157.54 487.84,157.59 488.25,157.65 488.68,157.80 489.12,158.03 489.56,158.21 490.02,158.13 490.40,157.80 490.78,157.27 491.17,156.69 491.57,156.27 491.97,156.15 492.38,156.32 492.79,156.59 493.20,156.71 493.62,156.48 494.04,155.93 494.47,155.31 494.89,154.96 495.32,155.08 495.75,155.66 496.17,156.40 496.60,156.95 497.02,157.04 497.44,156.66 497.86,155.98 498.27,155.31 498.69,154.84 499.10,154.65 499.51,154.67 499.93,154.77 500.34,154.88 500.75,154.99 501.16,155.13 501.58,155.30 501.99,155.44 502.40,155.43 502.81,155.16 503.23,154.65 503.64,154.04 504.05,153.55 504.46,153.34 504.88,153.43 505.29,153.68 505.70,153.87 506.12,153.81 506.53,153.53 506.94,153.19 507.36,153.07 507.78,153.35 508.21,154.01 508.63,154.77 509.06,155.25 509.48,155.16 509.91,154.47 510.33,153.41 510.76,152.36 511.18,151.64 511.60,151.35 512.01,151.41 512.43,151.64 512.83,151.87 513.24,152.06 513.63,152.22 514.02,152.40 514.41,152.60 514.78,152.75 515.25,152.80 515.71,152.64 516.17,152.36 516.63,152.15 517.08,152.17 517.52,152.39 517.96,152.61 518.39,152.60 518.81,152.27 519.22,151.71 519.62,151.15 520.00,150.80 520.37,150.74 520.73,150.89 521.07,151.05 521.38,151.04 521.96,150.19 522.46,148.43 522.90,146.31 523.29,144.24 523.65,142.37 524.00,140.67 524.33,139.06 524.69,137.46 525.15,134.85 525.57,131.41 525.97,127.37 526.37,123.05 526.76,118.31 527.16,113.80 527.55,110.25 527.89,107.48 528.24,105.17 528.63,102.96 529.08,100.55 529.64,96.90 529.96,93.81 530.32,90.76 530.70,89.94 531.10,91.68 531.53,93.08 531.96,92.42 532.40,91.11 532.85,90.42 533.29,90.46 533.74,90.72 534.17,90.51 534.59,89.41 535.00,87.48 535.41,85.16 535.83,83.09 536.24,81.78 536.65,81.28 537.07,81.17 537.48,80.44 537.89,76.52 538.30,66.95 538.72,55.38 539.13,49.91 539.54,52.56 539.95,58.17 540.37,63.06 540.78,66.88 541.19,69.41 541.60,70.83 542.02,71.98 542.43,73.31 542.84,74.70 543.26,75.74 543.67,76.10 544.08,75.69 544.49,74.82 544.92,74.04 545.36,73.93 545.81,74.56 546.27,74.00 546.72,69.77 547.18,66.16 547.62,68.95 548.04,75.09 548.44,79.62 548.81,82.59 549.15,85.35 549.45,87.91 549.94,91.62 550.06,92.50 550.30,93.52 551.10,91.83 551.36,90.63 551.65,89.82 551.96,90.03 552.30,91.62 552.66,94.35 553.03,97.44 553.43,100.11 553.84,102.09 554.27,103.60 554.71,104.48 555.16,104.62 555.61,105.69 556.08,108.67 556.54,111.67 557.02,113.43 557.49,114.81 557.96,116.52 558.43,118.54 558.89,120.51 559.35,121.98 559.73,122.82 560.12,123.34 560.51,123.82 560.90,124.59 561.30,125.87 561.71,127.64 562.12,129.59 562.53,131.36 562.94,132.63 563.36,133.39 563.78,133.86 564.20,134.40 564.62,135.29 565.04,136.59 565.47,138.13 565.89,139.64 566.31,140.92 566.74,141.91 567.16,142.69 567.58,143.49 568.00,144.31 568.42,145.15 568.84,145.96 569.25,146.76 569.66,147.62 570.07,148.66 570.48,149.96 570.88,151.47 571.29,153.02 571.69,154.38 572.09,155.36 572.49,155.93 572.89,156.23 573.30,156.49 573.70,156.94 574.10,157.66 574.51,158.54 574.91,159.38 575.32,159.96 575.73,160.22 576.15,160.35 576.57,160.64 576.99,161.42 577.41,162.80 577.84,164.65 578.27,166.59 578.71,168.24 579.16,169.33 579.54,169.83 579.92,170.02 580.31,170.07 580.69,170.05 581.08,170.01 581.46,169.96 581.85,169.91 582.24,169.93 582.63,170.13 583.03,170.60 583.42,171.36 583.82,172.31 584.22,173.28 584.63,174.10 585.03,174.72 585.44,175.21 585.86,175.75 586.27,176.50 586.70,177.45 587.12,178.43 587.55,179.12 587.99,179.28 588.43,178.92 588.87,178.32 589.32,177.91 589.78,178.06 590.24,178.77 590.71,179.76 591.08,180.44 591.46,180.87 591.84,181.02 592.23,181.02 592.62,181.03 593.02,181.23 593.42,181.67 593.82,182.28 594.23,182.94 594.65,183.54 595.06,184.04 595.48,184.48 595.90,184.89 596.33,185.22 596.75,185.38 597.18,185.28 597.61,184.95 598.04,184.57 598.47,184.38 598.90,184.60 599.33,185.22 599.76,186.02 600.19,186.69 600.62,187.02 601.04,187.02 601.47,186.90 601.89,186.97 602.31,187.40 602.73,188.13 603.15,188.90 603.56,189.41 603.97,189.47 604.38,189.13 604.78,188.62 605.18,188.23 605.57,188.18 606.00,188.59 606.44,189.32 606.86,190.15 607.29,190.85 607.71,191.35 608.12,191.68 608.54,191.87 608.95,191.95 609.35,191.88 609.76,191.64 610.17,191.26 610.57,190.87 610.97,190.67 611.37,190.81 611.77,191.30 612.17,192.02 612.57,192.74 612.97,193.26 613.37,193.51 613.77,193.56 614.18,193.61 614.58,193.87 614.99,194.40 615.39,195.06 615.81,195.58 616.22,195.69 616.64,195.28 617.05,194.47 617.48,193.61 617.91,193.07 618.34,193.07 618.77,193.58 619.17,194.25 619.56,194.92 619.96,195.40 620.37,195.68 620.78,195.83 621.19,195.93 621.61,196.04 622.03,196.14 622.45,196.16 622.87,196.10 623.30,196.04 623.73,196.09 624.15,196.33 624.58,196.68 625.01,196.95 625.44,196.95 625.87,196.60 626.30,196.04 626.73,195.56 627.16,195.42 627.59,195.71 628.02,196.26 628.44,196.78 628.86,197.00 629.28,196.83 629.70,196.45 630.11,196.16 630.52,196.21 630.92,196.67 631.33,197.39 631.72,198.10 632.11,198.55 632.50,198.61 632.88,198.32 633.26,197.85 633.63,197.36 634.10,196.91 634.56,196.71 635.01,196.68 635.45,196.73 635.89,196.86 636.32,197.10 636.75,197.47 637.17,197.90 637.59,198.22 638.00,198.30 638.41,198.11 638.81,197.75 639.21,197.43 639.61,197.37 640.01,197.64 640.41,198.17 640.80,198.74 641.19,199.10 641.59,199.11 641.98,198.79 642.37,198.35 642.77,198.02 643.16,197.99 643.56,198.27 643.96,198.68 644.37,198.97 644.77,198.90 645.18,198.41 645.59,197.67 646.00,196.96 646.41,196.54 646.81,196.53 647.20,196.86 647.60,197.41 648.00,198.00 648.39,198.53 648.78,198.97 649.18,199.32 649.57,199.56 649.96,199.63 650.36,199.45 650.75,198.96 651.15,198.23 651.56,197.40 651.96,196.72 652.37,196.35 652.78,196.35 653.20,196.57 653.62,196.78 654.04,196.77 654.48,196.52 654.91,196.21 655.36,196.16 655.81,196.55 656.27,197.30 656.74,198.01 657.11,198.24 657.48,198.04 657.87,197.41 658.25,196.55 658.65,195.72 659.04,195.17 659.44,194.98 659.85,195.08 660.26,195.28 660.67,195.40 661.09,195.35 661.51,195.18 661.93,194.96 662.35,194.77 662.78,194.58 663.21,194.32 663.63,194.00 664.06,193.67 664.49,193.48 664.92,193.54 665.35,193.83 665.78,194.14 666.21,194.23 666.64,193.94 667.07,193.30 667.50,192.59 667.92,192.10 668.34,192.02 668.76,192.31 669.18,192.71 669.59,192.92 670.00,192.75 670.40,192.24 670.81,191.61 671.20,191.13 671.59,190.98 672.04,191.21 672.49,191.67 672.95,191.99 673.41,191.92 673.89,191.46 674.36,190.83 674.84,190.33 675.32,190.10 675.80,190.11 676.29,190.27 676.77,190.57 677.25,191.04 677.72,191.66 678.20,192.22 678.66,192.43 679.13,192.08 679.58,191.23 680.03,190.20 680.46,189.36 680.89,188.97 681.30,188.99 681.70,189.22 682.09,189.41 682.47,189.44 682.82,189.31 683.16,189.16 683.49,189.12 683.79,189.28 684.08,189.64 684.34,190.14 684.58,190.69 684.80,191.21"/>
<polyline fill="none" stroke="#000" stroke-width="0.9" stroke-linejoin="round" points="437.20,52.92 437.50,56.28 437.92,61.15 438.40,66.36 438.85,70.79 439.24,74.11 439.62,76.95 440.03,79.53 440.50,82.07 440.83,83.69 441.14,85.15 441.48,86.56 441.88,88.04 442.36,89.71 442.98,91.71 443.29,92.69 443.63,93.72 444.00,94.81 444.39,95.95 444.80,97.12 445.22,98.32 445.66,99.55 446.11,100.80 446.56,102.05 447.01,103.30 447.46,104.55 447.90,105.78 448.33,106.99 448.75,108.17 449.17,109.34 449.58,110.50 449.99,111.67 450.41,112.83 450.82,114.00 451.23,115.16 451.64,116.32 452.06,117.47 452.47,118.63 452.88,119.77 453.29,120.92 453.71,122.05 454.12,123.18 454.53,124.30 454.94,125.42 455.36,126.56 455.77,127.69 456.18,128.83 456.60,129.97 457.01,131.10 457.42,132.22 457.83,133.33 458.25,134.41 458.66,135.48 459.07,136.52 459.48,137.53 459.90,138.50 460.31,139.44 460.72,140.35 461.13,141.23 461.55,142.09 461.96,142.92 462.37,143.73 462.79,144.52 463.20,145.28 463.61,146.02 464.02,146.74 464.44,147.43 464.85,148.10 465.26,148.75 465.67,149.37 466.09,149.97 466.50,150.55 466.92,151.10 467.34,151.62 467.76,152.12 468.18,152.59 468.61,153.04 469.03,153.47 469.45,153.88 469.86,154.26 470.27,154.63 470.68,154.97 471.08,155.30 471.48,155.61 471.86,155.90 472.31,156.21 472.76,156.49 473.20,156.73 473.64,156.95 474.07,157.13 474.49,157.29 474.91,157.39 475.32,157.47 475.71,157.58 476.10,157.72 476.46,157.88 476.82,158.02 477.29,158.10 477.68,158.03 478.03,157.87 478.36,157.68 478.71,157.49 479.10,157.38 479.56,157.41 480.12,157.52 480.44,157.51 480.77,157.36 481.13,157.07 481.50,156.65 481.88,156.23 482.28,155.97 482.69,156.01 483.11,156.35 483.54,156.85 483.98,157.25 484.42,157.26 484.88,156.82 485.33,156.10 485.79,155.48 486.26,155.28 486.72,155.60 487.10,156.06 487.49,156.43 487.88,156.50 488.29,156.14 488.71,155.48 489.13,154.79 489.55,154.39 489.98,154.47 490.41,154.97 490.85,155.57 491.28,155.91 491.71,155.75 492.14,155.12 492.57,154.30 492.99,153.65 493.40,153.45 493.81,153.74 494.21,154.35 494.60,154.97 494.97,155.36 495.44,155.32 495.90,154.77 496.36,154.02 496.82,153.47 497.27,153.37 497.72,153.64 498.15,154.00 498.58,154.14 499.00,153.90 499.41,153.33 499.81,152.66 500.20,152.14 500.57,151.94 500.92,152.06 501.26,152.41 501.58,152.81 502.14,153.24 502.61,152.92 503.01,152.03 503.37,150.84 503.71,149.52 504.05,148.17 504.44,146.88 504.88,145.73 505.24,144.85 505.63,143.73 506.03,142.30 506.44,140.56 506.87,138.65 507.29,136.82 507.71,135.35 508.12,134.43 508.52,134.05 508.90,134.08 509.25,134.38 509.75,135.23 510.21,136.36 510.64,137.74 511.05,139.37 511.45,141.15 511.87,142.88 512.31,144.32 512.70,145.36 513.09,146.33 513.49,147.16 513.89,147.86 514.30,148.46 514.72,149.05 515.15,149.68 515.61,150.35 515.99,150.92 516.39,151.48 516.81,151.95 517.24,152.23 517.67,152.32 518.10,152.21 518.53,151.92 518.95,151.43 519.35,150.71 519.73,149.73 520.19,148.14 520.62,146.22 521.03,144.07 521.44,141.78 521.83,139.42 522.23,136.98 522.63,134.51 523.03,132.04 523.44,129.48 523.84,126.79 524.24,124.09 524.63,121.50 525.04,118.86 525.45,116.19 525.88,113.30 526.34,109.82 526.71,107.28 527.08,105.44 527.46,103.99 527.85,102.30 528.24,100.19 528.65,98.04 529.08,96.12 529.52,94.34 529.98,92.48 530.46,90.46 530.82,89.01 531.20,87.78 531.59,87.03 531.99,86.90 532.40,87.32 532.82,87.87 533.25,87.64 533.68,84.94 534.11,78.93 534.54,72.18 534.97,68.93 535.40,69.69 535.82,70.06 536.24,66.88 536.66,62.50 537.08,61.38 537.51,64.51 537.94,68.56 538.37,70.59 538.80,71.05 539.23,71.73 539.66,73.18 540.08,74.83 540.49,75.92 540.89,75.90 541.28,74.71 541.66,72.69 542.02,70.44 542.49,67.93 542.94,66.71 543.35,66.23 543.75,64.67 544.13,60.65 544.51,55.38 544.90,52.20 545.29,53.65 545.71,58.34 546.14,61.12 546.52,59.32 546.90,55.97 547.29,55.17 547.67,58.89 548.07,65.28 548.47,70.45 548.87,72.21 549.29,71.64 549.72,71.01 550.17,71.60 550.62,73.57 551.10,76.33 551.47,78.30 551.85,79.71 552.26,80.32 552.67,80.33 553.09,80.30 553.52,80.52 553.96,80.20 554.40,78.70 554.84,77.75 555.27,79.77 555.70,84.18 556.13,87.88 556.54,88.74 556.94,87.35 557.33,86.01 557.70,86.74 558.17,91.38 558.62,97.44 559.05,101.76 559.47,103.77 559.88,104.50 560.28,104.95 560.67,105.64 561.06,106.26 561.45,108.02 561.84,109.99 562.24,112.03 562.65,113.80 563.06,115.16 563.46,116.23 563.85,117.19 564.24,118.23 564.63,119.49 565.02,120.97 565.42,122.42 565.83,123.48 566.25,123.82 566.68,123.28 567.13,121.87 567.60,119.83 567.97,118.06 568.35,116.27 568.74,114.56 569.14,112.87 569.54,111.47 569.96,110.61 570.38,109.37 570.80,108.79 571.23,109.18 571.66,109.86 572.09,110.85 572.52,112.01 572.94,113.07 573.37,113.78 573.79,113.93 574.21,113.28 574.62,111.68 575.04,109.46 575.47,107.51 575.89,106.29 576.32,105.19 576.75,103.15 577.18,99.64 577.61,94.47 578.03,87.82 578.45,81.03 578.87,75.52 579.27,72.10 579.67,71.89 580.06,70.83 580.44,68.94 580.81,66.79 581.27,64.16 581.71,62.51 582.12,62.73 582.52,62.83 582.90,62.78 583.28,62.56 583.66,62.16 584.05,61.37 584.44,59.64 584.86,56.70 585.29,53.89 585.76,53.66 586.13,55.43 586.51,57.38 586.90,58.08 587.29,57.46 587.70,56.05 588.12,54.81 588.53,54.24 588.96,55.68 589.39,60.35 589.81,67.07 590.24,73.18 590.67,77.09 591.10,79.05 591.53,79.93 591.95,80.21 592.36,80.06 592.77,79.49 593.18,78.33 593.58,76.34 593.97,74.56 594.37,74.34 594.77,73.32 595.16,72.21 595.56,72.38 595.96,74.76 596.37,78.83 596.78,86.08 597.20,93.72 597.63,99.86 598.06,104.38 598.51,107.13 598.97,108.58 599.34,109.73 599.72,111.60 600.11,114.04 600.51,116.13 600.91,116.97 601.32,116.28 601.73,114.43 602.15,111.98 602.57,109.54 602.99,107.55 603.41,106.14 603.84,105.04 604.26,103.64 604.69,101.30 605.12,97.76 605.54,97.12 605.96,96.65 606.39,99.54 606.80,103.79 607.22,108.07 607.63,112.09 608.04,115.54 608.46,118.06 608.87,119.47 609.28,119.93 609.69,120.05 610.11,120.46 610.52,121.41 610.93,122.60 611.35,123.46 611.76,123.52 612.17,122.55 612.58,120.59 613.00,117.99 613.41,115.27 613.82,113.20 614.23,114.34 614.65,115.84 615.06,117.20 615.47,117.92 615.88,117.80 616.30,116.94 616.71,115.51 617.12,113.71 617.54,111.79 617.95,109.95 618.36,108.59 618.77,109.98 619.19,110.76 619.60,110.68 620.01,109.90 620.42,109.07 620.84,108.78 621.25,109.19 621.66,109.99 622.07,110.72 622.49,111.59 622.90,114.79 623.31,116.98 623.73,118.17 624.14,118.59 624.54,118.55 624.95,118.23 625.35,117.61 625.75,116.78 626.15,115.98 626.55,115.25 626.95,114.29 627.35,112.73 627.75,110.58 628.15,108.16 628.56,105.74 628.97,103.28 629.38,100.44 629.80,96.67 630.22,91.61 630.65,86.90 631.09,85.99 631.53,89.90 631.98,93.94 632.36,97.14 632.74,100.19 633.13,103.20 633.51,106.14 633.91,108.89 634.30,111.40 634.70,113.56 635.10,115.19 635.50,116.10 635.90,116.48 636.31,116.77 636.72,117.12 637.14,116.98 637.56,115.67 637.98,113.07 638.40,109.55 638.82,105.48 639.25,101.08 639.68,96.47 640.12,96.00 640.55,95.26 640.99,94.47 641.44,94.42 641.88,95.27 642.27,96.17 642.65,96.63 643.03,99.04 643.42,101.87 643.80,104.02 644.19,105.56 644.58,106.60 644.97,107.22 645.36,107.36 645.75,107.01 646.15,106.47 646.55,106.16 646.95,106.12 647.35,105.91 647.76,105.18 648.17,104.03 648.58,104.59 649.00,106.53 649.42,108.47 649.85,110.13 650.28,111.04 650.71,110.76 651.15,109.30 651.60,107.48 652.05,106.33 652.51,106.12 652.97,106.24 653.44,106.05 653.81,105.47 654.18,104.42 654.55,102.88 654.93,100.94 655.32,100.26 655.70,99.72 656.09,99.36 656.49,99.60 656.88,100.59 657.28,103.00 657.68,105.23 658.08,106.41 658.49,106.71 658.90,106.66 659.31,106.76 659.72,107.34 660.14,108.45 660.56,109.73 660.98,110.56 661.40,110.54 661.82,109.57 662.24,108.27 662.67,107.31 663.10,106.89 663.53,106.87 663.96,107.08 664.39,107.28 664.82,107.06 665.25,106.04 665.68,104.22 666.12,102.69 666.55,101.52 666.99,101.59 667.42,103.35 667.86,106.06 668.29,108.21 668.69,109.31 669.10,109.54 669.52,109.09 669.95,108.45 670.39,108.19 670.84,108.67 671.29,109.70 671.75,110.56 672.22,110.68 672.69,110.17 673.17,109.41 673.64,108.58 674.12,107.91 674.61,108.46 675.09,109.70 675.57,110.60 676.05,110.37 676.53,109.08 677.00,107.70 677.48,107.10 677.94,107.39 678.40,108.21 678.86,109.19 679.31,109.84 679.75,110.42 680.18,110.52 680.60,110.07 681.01,109.49 681.41,109.12 681.80,108.99 682.17,108.95 682.53,108.88 682.87,108.76 683.20,109.24 683.52,109.71 683.81,110.05 684.09,110.25 684.35,110.36 684.58,110.46 684.80,110.61"/>
<polyline fill="none" stroke="#000" stroke-width="0.9" stroke-linejoin="round" points="437.20,52.92 437.50,56.33 437.92,61.26 438.40,66.55 438.85,71.04 439.24,74.42 439.62,77.32 440.03,79.96 440.50,82.58 440.83,84.25 441.14,85.75 441.48,87.22 441.88,88.75 442.36,90.46 442.98,92.47 443.29,93.44 443.63,94.48 444.00,95.57 444.39,96.70 444.80,97.87 445.22,99.08 445.66,100.31 446.11,101.55 446.56,102.80 447.01,104.06 447.46,105.30 447.90,106.54 448.33,107.75 448.75,108.93 449.17,110.09 449.58,111.26 449.99,112.42 450.41,113.59 450.82,114.75 451.23,115.91 451.64,117.07 452.06,118.23 452.47,119.38 452.88,120.53 453.29,121.67 453.71,122.81 454.12,123.93 454.53,125.05 454.94,126.18 455.36,127.31 455.77,128.45 456.18,129.59 456.60,130.72 457.01,131.85 457.42,132.97 457.83,134.08 458.25,135.17 458.66,136.23 459.07,137.27 459.48,138.28 459.90,139.26 460.31,140.20 460.72,141.10 461.13,141.98 461.55,142.84 461.96,143.67 462.37,144.49 462.79,145.27 463.20,146.04 463.61,146.78 464.02,147.49 464.44,148.19 464.85,148.86 465.26,149.51 465.67,150.13 466.09,150.73 466.50,151.30 466.92,151.85 467.34,152.37 467.76,152.87 468.18,153.35 468.61,153.80 469.03,154.22 469.45,154.63 469.86,155.02 470.27,155.38 470.68,155.73 471.08,156.05 471.48,156.36 471.86,156.65 472.31,156.96 472.74,157.24 473.16,157.49 473.58,157.70 473.99,157.89 474.39,158.05 474.79,158.18 475.20,158.31 475.60,158.43 476.00,158.53 476.41,158.62 476.82,158.67 477.22,158.69 477.62,158.66 478.02,158.61 478.41,158.55 478.80,158.52 479.19,158.51 479.59,158.52 480.00,158.55 480.41,158.57 480.85,158.52 481.30,158.38 481.77,158.10 482.14,157.81 482.51,157.47 482.90,157.13 483.30,156.85 483.71,156.69 484.12,156.70 484.54,156.89 484.97,157.21 485.39,157.60 485.82,157.95 486.25,158.19 486.68,158.24 487.11,158.05 487.53,157.69 487.95,157.25 488.37,156.80 488.78,156.40 489.18,156.08 489.59,155.84 489.98,155.67 490.38,155.53 490.77,155.40 491.17,155.27 491.57,155.14 491.97,155.03 492.38,154.97 492.79,155.01 493.21,155.16 493.63,155.44 494.07,155.80 494.52,156.17 494.97,156.44 495.35,156.51 495.73,156.38 496.12,156.02 496.52,155.46 496.92,154.75 497.33,153.98 497.74,153.27 498.16,152.73 498.57,152.44 499.00,152.45 499.42,152.72 499.85,153.18 500.27,153.73 500.70,154.24 501.12,154.62 501.55,154.83 501.97,154.84 502.39,154.69 502.81,154.43 503.23,154.13 503.64,153.82 504.06,153.54 504.48,153.28 504.90,153.02 505.33,152.74 505.75,152.43 506.18,152.10 506.61,151.77 507.03,151.51 507.46,151.38 507.88,151.41 508.30,151.64 508.71,152.02 509.13,152.50 509.53,152.99 509.93,153.38 510.33,153.61 510.72,153.62 511.10,153.40 511.48,152.98 511.94,152.28 512.41,151.49 512.87,150.78 513.32,150.23 513.78,149.91 514.22,149.79 514.66,149.83 515.09,149.94 515.51,150.03 515.92,150.05 516.32,150.00 516.70,149.86 517.07,149.66 517.43,149.43 517.76,149.16 518.08,148.87 518.66,148.21 519.16,147.40 519.60,146.36 519.99,145.02 520.35,143.40 520.69,141.47 521.03,139.26 521.38,136.71 521.84,132.72 522.27,128.23 522.67,123.61 523.07,119.18 523.46,115.49 523.86,112.51 524.24,109.54 524.59,106.26 524.94,103.58 525.33,102.64 525.78,102.89 526.34,101.73 526.66,100.45 527.02,98.91 527.40,97.08 527.80,94.66 528.22,91.25 528.66,87.12 529.10,83.71 529.55,82.61 529.99,83.73 530.43,85.35 530.87,86.00 531.29,85.60 531.70,84.48 532.11,81.60 532.53,76.64 532.94,73.56 533.35,75.55 533.76,79.37 534.18,80.83 534.59,80.26 535.00,79.08 535.41,77.52 535.83,75.67 536.24,73.68 536.65,71.72 537.05,69.97 537.44,68.59 537.83,67.72 538.22,67.39 538.61,67.54 539.01,67.84 539.42,67.33 539.84,64.03 540.27,55.47 540.72,45.54 541.19,45.86 541.56,53.84 541.94,61.93 542.33,66.19 542.73,67.69 543.13,68.42 543.55,69.29 543.97,70.56 544.39,72.09 544.82,73.68 545.25,75.13 545.68,76.33 546.11,77.23 546.53,77.88 546.96,78.40 547.38,78.92 547.79,79.08 548.21,77.40 548.62,74.18 549.03,73.83 549.45,78.38 549.86,83.73 550.27,86.58 550.68,87.73 551.10,87.98 551.51,87.18 551.92,85.84 552.33,85.29 552.75,86.63 553.16,89.66 553.57,93.09 553.98,95.67 554.40,97.03 554.81,97.49 555.21,97.45 555.61,97.00 556.01,95.66 556.41,92.70 556.80,89.39 557.20,88.57 557.60,90.53 558.00,92.55 558.40,93.19 558.81,93.20 559.23,93.11 559.66,92.84 560.10,92.28 560.54,91.41 561.00,88.81 561.38,88.04 561.76,87.24 562.15,86.47 562.55,85.68 562.95,84.65 563.35,83.21 563.77,81.71 564.18,80.64 564.60,79.45 565.02,79.19 565.45,80.53 565.87,81.77 566.30,81.34 566.73,79.94 567.15,78.54 567.58,77.45 568.00,76.74 568.42,76.36 568.84,76.20 569.25,76.04 569.67,75.69 570.09,74.94 570.52,73.65 570.96,71.80 571.39,69.97 571.83,68.72 572.27,66.21 572.71,62.43 573.15,60.21 573.59,60.94 574.02,61.90 574.44,60.94 574.86,58.55 575.27,56.17 575.68,54.78 576.07,54.80 576.45,56.15 576.82,58.00 577.17,59.55 577.51,60.49 578.03,60.91 578.50,60.42 578.94,59.44 579.34,58.37 579.72,56.52 580.09,53.54 580.45,48.93 580.81,44.19 581.18,42.62 581.58,42.90 582.00,44.04 582.46,45.19 582.83,46.72 583.21,48.87 583.59,51.48 583.99,54.22 584.40,56.77 584.81,58.83 585.23,60.22 585.66,60.81 586.08,60.30 586.51,58.81 586.94,58.12 587.37,58.71 587.80,61.33 588.22,64.72 588.65,67.06 589.06,69.27 589.47,73.11 589.89,77.45 590.30,80.23 590.71,81.47 591.12,81.96 591.54,81.94 591.95,81.47 592.36,80.61 592.78,79.40 593.19,77.88 593.60,76.06 594.01,74.00 594.43,77.49 594.84,83.49 595.25,89.21 595.66,94.49 596.08,99.14 596.49,102.89 596.90,106.06 597.31,109.37 597.73,112.66 598.14,115.11 598.55,116.65 598.97,117.76 599.38,118.70 599.79,119.46 600.20,120.00 600.62,120.42 601.03,120.89 601.44,121.57 601.85,123.64 602.27,126.62 602.68,129.31 603.08,131.62 603.48,133.48 603.88,134.85 604.27,135.73 604.67,136.16 605.07,136.25 605.46,136.12 605.87,135.94 606.27,135.86 606.68,135.99 607.10,136.43 607.53,137.18 607.97,138.21 608.41,139.39 608.87,140.58 609.24,141.44 609.61,142.51 609.99,143.35 610.36,143.95 610.74,144.35 611.12,144.61 611.50,144.81 611.89,145.00 612.29,145.25 612.69,145.58 613.09,145.99 613.50,146.46 613.92,147.05 614.35,147.60 614.79,148.07 615.23,148.45 615.69,148.75 616.16,149.03 616.63,149.32 617.12,149.76 617.48,150.16 617.84,150.56 618.20,150.94 618.57,151.27 618.94,151.53 619.32,151.71 619.70,151.82 620.09,151.87 620.48,151.89 620.87,151.91 621.27,151.97 621.67,152.07 622.08,152.20 622.49,152.32 622.90,152.39 623.32,152.35 623.74,152.16 624.17,151.83 624.60,151.44 625.04,151.12 625.48,150.88 625.92,150.84 626.37,151.06 626.82,151.54 627.28,152.22 627.74,152.96 628.21,153.56 628.68,153.86 629.05,153.79 629.42,153.44 629.79,152.83 630.17,152.02 630.56,151.13 630.94,150.27 631.33,149.55 631.73,149.06 632.12,148.89 632.52,149.09 632.92,149.54 633.32,150.18 633.73,150.85 634.14,151.43 634.55,151.84 634.96,152.03 635.38,152.00 635.80,151.77 636.22,151.40 636.64,150.96 637.06,150.51 637.48,150.07 637.91,149.68 638.34,149.33 638.77,149.02 639.20,148.75 639.63,148.55 640.06,148.59 640.49,148.72 640.92,148.94 641.36,149.25 641.79,149.58 642.23,149.89 642.66,150.09 643.10,150.11 643.53,149.92 643.93,149.57 644.33,149.08 644.73,148.52 645.14,147.97 645.55,147.52 645.96,147.23 646.38,147.15 646.80,147.25 647.22,147.47 647.64,147.86 648.07,148.14 648.49,148.24 648.92,148.10 649.35,147.73 649.78,147.21 650.22,146.64 650.65,146.16 651.08,145.86 651.51,145.79 651.94,145.95 652.37,146.32 652.80,146.77 653.23,147.13 653.66,147.30 654.08,147.24 654.50,146.93 654.92,146.46 655.34,145.98 655.75,145.50 656.16,145.12 656.57,144.90 656.98,144.86 657.38,144.98 657.77,145.20 658.16,145.47 658.55,145.73 658.93,145.91 659.31,146.00 659.68,146.00 660.04,145.91 660.52,145.71 660.99,145.46 661.45,145.22 661.90,145.01 662.34,144.82 662.78,144.70 663.21,144.58 663.64,144.45 664.06,144.32 664.47,144.21 664.88,144.17 665.29,144.20 665.69,144.32 666.09,144.50 666.49,144.71 666.88,144.90 667.27,144.99 667.67,144.95 668.06,144.74 668.45,144.37 668.84,143.88 669.23,143.33 669.62,142.80 670.01,142.40 670.40,142.27 670.80,142.38 671.20,142.73 671.60,143.29 672.01,143.96 672.42,144.59 672.84,145.05 673.27,145.21 673.71,144.99 674.17,144.40 674.63,143.52 675.09,142.55 675.57,141.70 676.04,141.17 676.52,141.07 677.01,141.38 677.49,142.00 677.97,142.83 678.44,143.62 678.92,144.17 679.38,144.43 679.84,144.39 680.30,144.10 680.74,143.66 681.17,143.15 681.59,142.63 682.00,142.16 682.39,141.75 682.76,141.41 683.12,141.13 683.45,140.94 683.77,140.81 684.06,140.75 684.33,140.76 684.58,140.81 684.80,140.90"/>
<polyline fill="none" stroke="#000" stroke-width="0.9" stroke-linejoin="round" points="437.20,52.92 437.50,56.37 437.92,61.37 438.40,66.73 438.85,71.29 439.24,74.74 439.62,77.69 440.03,80.39 440.50,83.08 440.83,84.80 441.14,86.35 441.48,87.87 441.88,89.46 442.36,91.22 442.98,93.22 443.29,94.20 443.63,95.23 444.00,96.32 444.39,97.46 444.80,98.63 445.22,99.83 445.66,101.06 446.11,102.31 446.56,103.56 447.01,104.81 447.46,106.06 447.90,107.29 448.33,108.50 448.75,109.68 449.17,110.85 449.58,112.01 449.99,113.18 450.41,114.34 450.82,115.51 451.23,116.67 451.64,117.83 452.06,118.98 452.47,120.14 452.88,121.28 453.29,122.42 453.71,123.56 454.12,124.69 454.53,125.81 454.94,126.93 455.36,128.06 455.77,129.20 456.18,130.34 456.60,131.48 457.01,132.61 457.42,133.73 457.83,134.83 458.25,135.92 458.66,136.99 459.07,138.03 459.48,139.04 459.90,140.01 460.31,140.95 460.72,141.85 461.13,142.74 461.55,143.59 461.96,144.43 462.37,145.24 462.79,146.03 463.20,146.79 463.61,147.53 464.02,148.25 464.44,148.94 464.85,149.61 465.26,150.26 465.67,150.88 466.09,151.48 466.50,152.06 466.92,152.60 467.34,153.13 467.76,153.63 468.18,154.10 468.61,154.55 469.03,154.98 469.45,155.39 469.86,155.77 470.27,156.14 470.68,156.48 471.08,156.81 471.48,157.12 471.86,157.41 472.30,157.72 472.73,157.99 473.14,158.24 473.55,158.45 473.94,158.64 474.34,158.81 474.74,158.97 475.13,159.10 475.54,159.17 475.95,159.22 476.38,159.34 476.82,159.56 477.20,159.77 477.58,159.88 477.97,159.81 478.36,159.53 478.75,159.13 479.15,158.77 479.55,158.59 479.96,158.64 480.37,158.78 480.80,158.83 481.23,158.62 481.67,158.21 482.13,157.91 482.59,158.08 482.96,158.64 483.34,159.43 483.73,160.15 484.12,160.47 484.51,160.24 484.92,159.57 485.32,158.81 485.74,158.38 486.15,158.46 486.57,158.89 487.00,159.25 487.42,159.13 487.85,158.54 488.28,157.84 488.72,157.56 489.15,157.98 489.59,158.91 490.02,159.81 490.42,160.14 490.81,159.84 491.21,159.08 491.62,158.31 492.03,157.99 492.44,158.30 492.85,159.07 493.26,159.81 493.68,160.05 494.10,159.60 494.51,158.69 494.93,157.79 495.35,157.31 495.77,157.35 496.19,157.62 496.61,157.68 497.03,157.26 497.45,156.44 497.86,155.65 498.27,155.41 498.69,155.96 499.10,157.17 499.51,158.52 499.93,159.43 500.34,159.55 500.75,158.92 501.16,157.94 501.58,157.09 501.99,156.66 502.40,156.55 502.81,156.43 503.23,155.99 503.64,155.15 504.05,154.19 504.46,153.61 504.88,153.78 505.29,154.75 505.70,156.14 506.12,157.35 506.53,157.88 506.94,157.61 507.35,156.81 507.77,155.97 508.18,155.51 508.59,155.52 509.00,155.74 509.42,155.77 509.83,155.34 510.24,154.51 510.65,153.66 511.07,153.24 511.48,153.49 511.89,154.25 512.31,155.08 512.72,155.48 513.13,155.20 513.54,154.39 513.96,153.52 514.37,153.08 514.78,153.31 515.20,154.05 515.62,154.86 516.05,155.24 516.48,154.97 516.92,154.29 517.36,153.68 517.80,153.55 518.24,153.88 518.68,154.24 519.11,154.14 519.55,153.40 519.97,152.27 520.39,151.31 520.80,150.99 521.20,151.41 521.60,152.33 521.98,153.28 522.34,153.86 522.70,153.94 523.03,153.61 523.57,152.79 524.07,152.39 524.54,152.55 524.99,152.82 525.42,152.67 525.82,151.90 526.21,150.66 526.58,149.28 526.94,148.11 527.30,147.32 527.64,146.89 527.99,146.62 528.48,145.82 528.93,144.08 529.35,141.48 529.74,138.46 530.12,135.45 530.50,132.82 530.89,130.74 531.29,129.07 531.69,127.19 532.07,124.51 532.45,121.15 532.84,117.27 533.23,113.32 533.65,109.89 534.10,107.41 534.59,105.67 534.94,104.42 535.32,102.66 535.71,100.32 536.12,97.81 536.54,95.70 536.96,93.18 537.39,89.83 537.83,89.47 538.26,93.26 538.70,95.58 539.12,93.72 539.54,89.66 539.95,85.03 540.37,81.28 540.78,79.68 541.19,80.13 541.60,81.10 542.02,80.98 542.43,79.45 542.84,77.64 543.26,76.82 543.67,77.35 544.08,78.37 544.49,76.69 544.91,70.11 545.32,64.71 545.73,66.76 546.14,71.59 546.56,73.67 546.97,74.50 547.38,75.60 547.79,76.38 548.21,76.26 548.62,75.33 549.03,74.25 549.45,73.80 549.86,74.44 550.29,75.85 550.72,76.82 551.16,75.64 551.59,71.55 552.02,64.59 552.45,55.94 552.87,53.03 553.28,60.94 553.67,72.54 554.04,79.85 554.40,82.75 554.88,83.64 555.30,83.10 555.68,82.35 556.05,81.90 556.41,81.89 556.80,82.16 557.22,82.23 557.70,81.42 558.05,80.32 558.43,79.22 558.82,78.88 559.23,79.86 559.64,80.91 560.07,80.01 560.50,80.71 560.94,86.73 561.37,92.93 561.81,94.92 562.23,96.24 562.65,97.63 563.06,98.89 563.46,99.59 563.85,100.07 564.24,100.29 564.63,100.56 565.02,101.29 565.42,102.70 565.83,104.82 566.25,107.42 566.68,109.97 567.13,111.67 567.60,111.71 567.97,111.13 568.34,111.02 568.71,111.59 569.10,112.41 569.49,113.16 569.89,113.71 570.29,113.77 570.70,114.14 571.11,114.82 571.54,115.49 571.96,116.52 572.40,118.02 572.84,119.61 573.29,120.73 573.74,120.97 574.21,120.82 574.58,121.46 574.96,122.37 575.35,123.78 575.75,125.65 576.15,127.69 576.56,129.48 576.97,130.72 577.39,131.40 577.81,131.68 578.23,131.95 578.65,132.44 579.08,132.98 579.50,133.22 579.93,132.82 580.36,131.71 580.78,130.17 581.20,128.65 581.63,127.48 582.04,126.71 582.46,126.07 582.87,125.19 583.28,123.78 583.70,122.51 584.11,121.73 584.52,121.06 584.93,121.68 585.35,123.03 585.76,124.50 586.17,125.73 586.59,126.48 587.00,126.79 587.41,126.92 587.82,127.16 588.24,127.61 588.65,128.21 589.06,128.64 589.47,128.51 589.89,127.63 590.30,126.03 590.71,124.08 591.13,122.56 591.54,121.82 591.97,121.16 592.39,119.82 592.81,117.50 593.24,114.11 593.67,109.79 594.09,104.93 594.52,99.82 594.94,94.53 595.36,90.54 595.78,88.16 596.20,85.25 596.61,83.00 597.02,84.57 597.42,86.53 597.82,88.35 598.21,89.56 598.59,91.06 598.97,93.48 599.43,95.85 599.88,96.12 600.33,95.75 600.77,95.49 601.21,94.93 601.63,93.61 602.06,91.43 602.47,88.57 602.88,85.35 603.29,82.21 603.68,79.59 604.07,77.70 604.46,76.41 604.83,75.32 605.20,73.50 605.57,69.82 606.03,65.18 606.47,64.48 606.88,66.24 607.28,67.33 607.66,67.71 608.04,68.27 608.42,69.02 608.81,69.73 609.20,70.30 609.62,71.12 610.05,74.35 610.52,77.59 610.88,79.84 611.26,82.01 611.63,84.32 612.02,86.86 612.41,89.41 612.80,91.25 613.21,91.62 613.62,91.74 614.03,94.05 614.45,97.93 614.88,100.85 615.32,102.34 615.76,103.09 616.21,103.36 616.66,106.80 617.12,110.38 617.50,112.77 617.88,114.60 618.27,115.75 618.67,116.28 619.07,116.40 619.48,116.40 619.89,116.56 620.31,116.95 620.72,117.41 621.15,117.94 621.57,118.70 622.00,119.39 622.42,119.85 622.85,121.50 623.27,123.74 623.70,125.76 624.12,127.51 624.54,128.97 624.96,130.17 625.38,131.22 625.79,132.28 626.19,133.47 626.60,134.81 627.00,136.47 627.40,138.32 627.80,139.95 628.20,141.34 628.60,142.53 629.00,143.61 629.40,144.64 629.80,145.70 630.21,146.79 630.62,147.88 631.03,148.93 631.45,149.92 631.87,150.86 632.30,151.78 632.74,152.71 633.18,153.61 633.63,154.45 634.01,155.06 634.39,155.58 634.77,156.03 635.15,156.45 635.53,156.88 635.91,157.40 636.30,157.98 636.69,158.60 637.08,159.21 637.47,159.78 637.87,160.31 638.27,160.76 638.68,161.13 639.09,161.44 639.50,161.72 639.93,161.97 640.35,162.22 640.79,162.50 641.23,162.81 641.67,163.18 642.13,163.57 642.59,163.94 643.06,164.24 643.53,164.43 643.90,164.49 644.27,164.47 644.64,164.38 645.03,164.24 645.41,164.07 645.81,163.92 646.20,163.83 646.60,163.85 647.01,163.99 647.42,164.25 647.83,164.57 648.24,164.87 648.66,165.05 649.08,165.05 649.50,164.85 649.93,164.50 650.36,164.08 650.78,163.65 651.21,163.26 651.64,162.95 652.07,162.73 652.50,162.66 652.93,162.76 653.36,163.04 653.79,163.44 654.22,163.85 654.64,164.09 655.07,164.06 655.49,163.72 655.91,163.15 656.32,162.50 656.74,161.90 657.15,161.45 657.56,161.17 657.97,161.03 658.38,160.99 658.78,161.04 659.19,161.18 659.60,161.42 660.00,161.73 660.41,162.02 660.81,162.16 661.21,162.04 661.62,161.61 662.02,160.95 662.43,160.19 662.83,159.52 663.24,159.08 663.64,158.90 664.05,158.91 664.46,159.02 664.87,159.10 665.28,159.12 665.70,159.11 666.11,159.13 666.53,159.16 666.95,159.16 667.37,159.01 667.79,158.62 668.21,158.02 668.64,157.36 669.07,156.85 669.51,156.68 669.94,156.86 670.34,157.20 670.75,157.53 671.17,157.69 671.60,157.59 672.05,157.31 672.50,157.00 672.95,156.77 673.42,156.60 673.89,156.37 674.37,155.95 674.84,155.45 675.32,155.11 675.81,155.15 676.29,155.61 676.77,156.23 677.25,156.63 677.72,156.59 678.20,156.16 678.66,155.62 679.13,155.23 679.58,155.07 680.03,155.03 680.46,154.90 680.89,154.61 681.30,154.23 681.70,153.95 682.09,153.90 682.47,154.10 682.82,154.45 683.16,154.81 683.49,155.04 683.79,155.09 684.08,154.98 684.34,154.77 684.58,154.52 684.80,154.29"/>
<polyline fill="none" stroke="#000" stroke-width="0.9" stroke-linejoin="round" points="437.20,52.92 437.50,56.30 437.92,61.19 438.40,66.43 438.85,70.88 439.24,74.23 439.62,77.09 440.03,79.69 440.50,82.27 440.83,83.90 441.14,85.38 441.48,86.81 441.88,88.31 442.36,90.00 442.98,92.00 443.29,92.98 443.63,94.01 444.00,95.10 444.39,96.23 444.80,97.41 445.22,98.61 445.66,99.84 446.11,101.08 446.56,102.34 447.01,103.59 447.46,104.84 447.90,106.07 448.33,107.28 448.75,108.46 449.17,109.62 449.58,110.79 449.99,111.96 450.41,113.12 450.82,114.29 451.23,115.45 451.64,116.61 452.06,117.76 452.47,118.91 452.88,120.06 453.29,121.20 453.71,122.34 454.12,123.47 454.53,124.59 454.94,125.71 455.36,126.84 455.77,127.98 456.18,129.12 456.60,130.26 457.01,131.39 457.42,132.51 457.83,133.61 458.25,134.70 458.66,135.77 459.07,136.81 459.48,137.82 459.90,138.79 460.31,139.73 460.72,140.63 461.13,141.52 461.55,142.37 461.96,143.21 462.37,144.02 462.79,144.81 463.20,145.57 463.61,146.31 464.02,147.03 464.44,147.72 464.85,148.39 465.26,149.04 465.67,149.66 466.09,150.26 466.50,150.84 466.92,151.38 467.34,151.91 467.76,152.41 468.18,152.88 468.61,153.33 469.03,153.76 469.45,154.17 469.86,154.55 470.27,154.92 470.68,155.26 471.08,155.59 471.48,155.90 471.86,156.19 472.30,156.50 472.73,156.77 473.14,157.02 473.55,157.23 473.94,157.42 474.34,157.58 474.74,157.76 475.13,157.93 475.54,158.10 475.95,158.24 476.38,158.34 476.82,158.35 477.20,158.28 477.57,158.11 477.94,157.88 478.31,157.61 478.68,157.35 479.06,157.15 479.45,157.04 479.84,157.07 480.25,157.24 480.68,157.52 481.12,157.87 481.59,158.20 482.08,158.44 482.59,158.53 482.94,158.51 483.30,158.45 483.67,158.35 484.05,158.23 484.45,158.09 484.85,157.91 485.27,157.67 485.69,157.35 486.11,156.95 486.54,156.54 486.98,156.22 487.42,156.10 487.85,156.23 488.29,156.61 488.73,157.18 489.17,157.82 489.60,158.41 490.03,158.83 490.45,159.05 490.87,159.06 491.27,158.93 491.67,158.72 492.10,158.50 492.53,158.31 492.95,158.18 493.38,158.07 493.79,157.90 494.21,157.63 494.62,157.23 495.03,156.72 495.44,156.16 495.85,155.65 496.26,155.28 496.66,155.14 497.07,155.26 497.48,155.62 497.88,156.14 498.29,156.72 498.70,157.26 499.10,157.67 499.51,157.88 499.93,157.89 500.34,157.73 500.75,157.45 501.16,157.10 501.58,156.71 501.99,156.30 502.40,155.86 502.81,155.38 503.23,154.86 503.64,154.33 504.05,153.88 504.46,153.57 504.88,153.49 505.29,153.70 505.70,154.20 506.12,154.92 506.53,155.76 506.94,156.56 507.35,157.17 507.77,157.50 508.18,157.48 508.59,157.14 509.00,156.55 509.42,155.85 509.83,155.14 510.24,154.53 510.65,154.07 511.07,153.77 511.48,153.60 511.89,153.51 512.31,153.48 512.72,153.49 513.13,153.55 513.54,153.68 513.96,153.92 514.37,154.26 514.78,154.69 515.19,155.14 515.61,155.51 516.02,155.74 516.43,155.75 516.85,155.53 517.26,155.12 517.69,154.58 518.11,154.04 518.53,153.59 518.96,153.30 519.39,153.17 519.81,153.17 520.24,153.22 520.66,153.23 521.08,153.17 521.50,153.02 521.92,152.84 522.33,152.69 522.74,152.64 523.14,152.73 523.54,152.97 523.93,153.31 524.31,153.67 524.69,153.96 525.15,154.17 525.61,154.11 526.07,153.79 526.53,153.25 526.98,152.62 527.43,152.02 527.87,151.52 528.30,151.15 528.72,150.88 529.13,150.67 529.52,150.47 529.91,150.24 530.28,149.98 530.63,149.70 530.97,149.41 531.29,149.10 531.86,148.50 532.35,147.80 532.77,146.88 533.14,145.68 533.50,144.16 533.84,142.31 534.20,140.13 534.59,137.57 535.00,134.51 535.40,131.05 535.79,127.39 536.19,123.74 536.59,120.29 537.01,117.25 537.44,114.83 537.89,112.86 538.26,111.47 538.64,110.09 539.02,108.62 539.40,107.03 539.80,105.33 540.21,103.55 540.63,101.76 541.07,100.00 541.53,98.06 542.02,95.11 542.38,91.77 542.76,87.29 543.16,82.27 543.57,78.17 543.99,76.74 544.42,78.34 544.85,81.12 545.29,82.88 545.72,83.20 546.16,82.97 546.58,82.69 547.00,82.27 547.40,81.59 547.79,80.67 548.24,79.40 548.67,78.11 549.09,77.01 549.51,76.29 549.92,76.00 550.32,76.09 550.73,76.43 551.13,76.84 551.53,77.16 551.93,77.24 552.34,76.77 552.75,74.44 553.16,68.56 553.59,60.38 554.02,55.66 554.46,59.00 554.89,67.82 555.33,75.65 555.75,79.59 556.17,81.05 556.58,81.75 556.97,82.19 557.34,82.46 557.70,82.64 558.17,82.79 558.56,82.83 558.91,82.82 559.25,82.79 559.59,82.81 559.98,82.91 560.44,83.05 561.00,81.39 561.32,81.80 561.66,82.40 562.01,83.24 562.38,84.36 562.76,85.66 563.16,86.78 563.57,87.38 563.99,87.65 564.42,88.17 564.86,89.15 565.31,90.15 565.76,91.73 566.22,92.43 566.68,92.77 567.14,93.93 567.60,95.24 567.98,96.49 568.35,97.90 568.74,99.41 569.12,100.90 569.51,102.29 569.91,103.51 570.30,104.53 570.71,105.35 571.11,105.96 571.52,106.35 571.94,106.46 572.36,106.15 572.78,105.18 573.21,103.05 573.64,99.46 574.07,94.97 574.51,90.57 574.96,86.40 575.40,81.82 575.86,77.06 576.24,73.77 576.62,71.36 577.02,72.31 577.41,73.16 577.81,73.57 578.22,73.49 578.62,74.43 579.04,76.90 579.45,78.83 579.87,80.34 580.28,81.55 580.70,82.54 581.13,83.32 581.55,83.82 581.97,83.93 582.40,83.53 582.82,82.48 583.25,80.39 583.67,77.05 584.09,73.37 584.51,70.98 584.93,70.52 585.35,70.79 585.76,70.04 586.17,67.78 586.59,64.99 587.00,63.97 587.41,64.73 587.82,65.98 588.24,66.76 588.65,66.77 589.06,66.38 589.47,65.98 589.89,65.62 590.30,65.17 590.71,64.42 591.12,63.22 591.54,61.50 591.95,60.24 592.36,58.86 592.78,57.34 593.19,55.59 593.60,53.25 594.01,50.71 594.43,49.51 594.84,50.85 595.25,53.95 595.66,56.81 596.08,58.14 596.50,57.76 596.92,55.87 597.35,53.38 597.78,51.34 598.22,51.07 598.65,52.18 599.09,53.08 599.52,52.71 599.96,51.27 600.39,49.39 600.82,47.46 601.25,45.76 601.68,44.62 602.10,44.36 602.51,44.47 602.92,45.01 603.32,45.58 603.72,45.05 604.11,44.12 604.49,43.58 604.86,43.86 605.22,45.02 605.57,46.97 606.07,48.14 606.55,47.94 607.01,47.84 607.45,48.07 607.88,47.86 608.29,47.53 608.69,48.22 609.08,50.66 609.46,54.49 609.84,58.63 610.22,62.29 610.60,65.39 610.98,68.32 611.37,71.36 611.76,74.48 612.17,77.49 612.58,80.22 612.98,82.51 613.39,83.90 613.78,83.96 614.18,82.89 614.57,81.73 614.97,81.35 615.37,81.57 615.77,81.42 616.18,80.26 616.59,78.18 617.01,75.51 617.43,76.00 617.87,76.53 618.32,80.59 618.77,85.14 619.14,88.59 619.52,92.25 619.89,96.46 620.27,101.20 620.64,106.09 621.02,110.66 621.41,114.59 621.80,117.80 622.19,120.26 622.59,121.93 623.00,122.81 623.41,122.89 623.83,122.21 624.26,120.97 624.69,119.61 625.14,118.47 625.59,117.44 626.06,116.15 626.54,114.48 627.03,112.59 627.38,112.63 627.75,113.38 628.12,114.14 628.49,114.95 628.87,115.79 629.25,116.62 629.64,117.34 630.04,117.85 630.44,118.07 630.84,117.95 631.25,118.14 631.66,119.42 632.08,120.32 632.49,120.97 632.92,121.56 633.34,122.22 633.77,122.98 634.20,123.79 634.63,124.56 635.06,125.14 635.50,125.43 635.94,125.39 636.38,125.04 636.82,124.49 637.26,123.88 637.70,124.87 638.14,125.86 638.58,126.82 638.97,127.55 639.36,128.11 639.74,128.40 640.13,128.44 640.52,128.25 640.91,127.88 641.30,127.40 641.69,126.88 642.08,126.35 642.48,125.83 642.87,125.28 643.27,124.64 643.67,123.83 644.07,122.82 644.47,122.17 644.87,122.07 645.28,121.85 645.69,121.66 646.10,121.59 646.52,121.71 646.94,122.04 647.36,122.53 647.79,124.04 648.21,125.37 648.65,126.37 649.08,126.99 649.52,127.22 649.97,127.16 650.41,126.97 650.87,126.76 651.32,126.64 651.79,126.59 652.16,126.57 652.54,126.49 652.92,126.31 653.30,126.00 653.69,125.56 654.08,125.03 654.48,124.46 654.88,123.92 655.28,123.44 655.68,123.05 656.09,122.70 656.50,122.32 656.91,121.85 657.32,121.25 657.73,121.30 658.15,121.57 658.57,121.78 658.99,122.02 659.41,122.41 659.83,122.97 660.26,123.68 660.68,124.43 661.11,125.08 661.53,125.57 661.96,125.76 662.38,125.61 662.81,125.20 663.24,124.66 663.66,124.12 664.09,123.73 664.51,123.53 664.94,123.54 665.36,123.67 665.79,123.83 666.21,123.92 666.63,123.88 667.05,123.71 667.46,123.44 667.88,123.43 668.29,123.50 668.71,123.59 669.14,123.69 669.57,123.72 670.02,123.60 670.47,123.26 670.93,123.01 671.39,122.77 671.86,122.55 672.33,122.51 672.81,122.77 673.29,123.37 673.77,124.19 674.25,125.03 674.73,125.66 675.21,125.94 675.69,125.83 676.17,125.42 676.64,124.89 677.11,124.41 677.58,124.09 678.04,124.27 678.50,124.60 678.94,124.90 679.39,125.06 679.82,125.05 680.24,124.88 680.66,124.62 681.06,124.37 681.45,124.20 681.83,124.13 682.20,124.16 682.56,124.25 682.89,124.35 683.22,124.41 683.53,124.41 683.82,124.37 684.09,124.50 684.35,124.57 684.58,124.61 684.80,124.62"/>
<polyline fill="none" stroke="#000" stroke-width="0.9" stroke-linejoin="round" points="437.20,52.92 437.50,56.34 437.92,61.30 438.40,66.62 438.85,71.13 439.24,74.54 439.62,77.46 440.03,80.13 440.50,82.77 440.83,84.46 441.14,85.98 441.48,87.47 441.88,89.02 442.36,90.75 442.98,92.76 443.29,93.73 443.63,94.77 444.00,95.85 444.39,96.99 444.80,98.16 445.22,99.37 445.66,100.60 446.11,101.84 446.56,103.09 447.01,104.34 447.46,105.59 447.90,106.82 448.33,108.03 448.75,109.21 449.17,110.38 449.58,111.54 449.99,112.71 450.41,113.88 450.82,115.04 451.23,116.20 451.64,117.36 452.06,118.52 452.47,119.67 452.88,120.82 453.29,121.96 453.71,123.09 454.12,124.22 454.53,125.34 454.94,126.47 455.36,127.60 455.77,128.74 456.18,129.87 456.60,131.01 457.01,132.14 457.42,133.26 457.83,134.37 458.25,135.46 458.66,136.52 459.07,137.56 459.48,138.57 459.90,139.55 460.31,140.48 460.72,141.39 461.13,142.27 461.55,143.13 461.96,143.96 462.37,144.77 462.79,145.56 463.20,146.33 463.61,147.07 464.02,147.78 464.44,148.48 464.85,149.15 465.26,149.79 465.67,150.42 466.09,151.02 466.50,151.59 466.92,152.14 467.34,152.66 467.76,153.16 468.18,153.63 468.61,154.08 469.03,154.51 469.45,154.92 469.86,155.30 470.27,155.67 470.68,156.02 471.08,156.34 471.48,156.65 471.86,156.94 472.30,157.25 472.70,157.52 473.08,157.77 473.45,157.98 473.82,158.16 474.19,158.32 474.56,158.46 474.95,158.62 475.37,158.78 475.81,158.91 476.29,158.95 476.82,158.92 477.15,158.90 477.51,158.90 477.88,158.93 478.26,158.95 478.65,158.92 479.05,158.79 479.46,158.59 479.88,158.41 480.31,158.36 480.74,158.51 481.17,158.81 481.61,159.09 482.05,159.18 482.49,159.03 482.93,158.75 483.37,158.57 483.80,158.62 484.23,158.90 484.65,159.22 485.07,159.36 485.48,159.22 485.89,158.86 486.29,158.48 486.69,158.26 487.09,158.32 487.49,158.53 487.89,158.71 488.29,158.66 488.69,158.36 489.09,157.93 489.50,157.62 489.90,157.67 490.31,158.15 490.73,158.94 491.14,159.75 491.57,160.31 492.00,160.48 492.43,160.37 492.87,160.19 493.32,160.14 493.71,160.20 494.10,160.20 494.49,159.99 494.90,159.43 495.31,158.61 495.72,157.78 496.14,157.25 496.56,157.22 496.99,157.66 497.42,158.34 497.84,158.92 498.27,159.22 498.70,159.28 499.13,159.28 499.56,159.45 499.99,159.80 500.41,160.19 500.83,160.36 501.24,160.14 501.65,159.57 502.06,158.85 502.45,158.26 502.84,157.97 503.23,157.98 503.68,158.20 504.12,158.33 504.55,158.15 504.98,157.69 505.41,157.21 505.82,156.95 506.24,157.05 506.65,157.44 507.05,157.90 507.46,158.19 507.86,158.23 508.26,158.05 508.66,157.86 509.06,157.83 509.46,158.03 509.86,158.37 510.26,158.61 510.66,158.52 511.07,158.01 511.48,157.18 511.89,156.29 512.31,155.64 512.72,155.37 513.13,155.44 513.54,155.64 513.96,155.77 514.37,155.73 514.78,155.64 515.19,155.68 515.61,156.02 516.02,156.63 516.43,157.33 516.84,157.82 517.26,157.88 517.67,157.50 518.08,156.86 518.50,156.25 518.91,155.90 519.32,155.85 519.73,155.95 520.15,155.99 520.57,155.81 520.99,155.41 521.41,155.00 521.84,154.81 522.26,154.98 522.69,155.41 523.11,155.85 523.54,156.04 523.96,155.90 524.39,155.57 524.80,155.32 525.22,155.37 525.63,155.77 526.04,156.35 526.44,156.84 526.84,157.01 527.23,156.81 527.61,156.36 527.99,155.84 528.45,155.34 528.90,155.09 529.35,154.92 529.79,154.56 530.23,153.90 530.66,153.05 531.08,152.29 531.49,151.90 531.90,151.96 532.31,152.35 532.70,152.80 533.09,153.05 533.48,152.94 533.85,152.50 534.23,151.87 534.59,151.20 535.07,150.37 535.53,149.55 535.98,148.48 536.42,146.93 536.85,144.94 537.27,142.72 537.68,140.61 538.07,138.80 538.46,137.29 538.83,136.01 539.19,134.76 539.54,133.39 540.03,130.94 540.46,128.20 540.86,125.52 541.24,123.14 541.62,121.12 542.00,119.51 542.40,118.06 542.84,116.39 543.21,114.63 543.59,112.44 543.97,109.77 544.35,106.52 544.75,102.89 545.16,99.62 545.58,97.64 546.03,96.78 546.49,94.61 546.97,89.07 547.33,85.72 547.72,85.65 548.11,87.53 548.52,88.60 548.94,88.75 549.37,88.62 549.81,88.23 550.24,87.85 550.68,87.84 551.11,88.36 551.53,89.08 551.95,89.43 552.36,88.92 552.75,87.46 553.19,84.95 553.62,82.28 554.04,79.27 554.46,74.42 554.87,69.45 555.27,68.29 555.68,69.27 556.08,67.95 556.48,65.47 556.88,65.98 557.29,70.37 557.70,76.43 558.11,81.47 558.50,84.50 558.90,85.95 559.29,86.48 559.68,86.54 560.07,86.60 560.47,87.03 560.88,87.97 561.30,87.50 561.73,88.39 562.18,87.83 562.65,86.41 563.02,86.58 563.40,88.14 563.79,90.08 564.19,91.96 564.59,93.96 565.01,95.86 565.43,97.37 565.85,98.45 566.28,99.36 566.70,100.70 567.13,103.70 567.56,107.01 567.99,110.45 568.42,113.62 568.84,115.94 569.25,117.16 569.66,117.42 570.07,117.17 570.47,117.09 570.87,117.49 571.26,117.85 571.66,117.57 572.05,116.66 572.45,115.48 572.85,114.40 573.26,113.68 573.67,113.39 574.09,113.28 574.52,113.90 574.95,115.36 575.40,115.97 575.86,115.90 576.23,115.61 576.61,115.30 576.99,116.14 577.37,117.51 577.76,118.45 578.16,118.75 578.56,118.53 578.96,118.04 579.37,117.53 579.78,117.31 580.19,117.43 580.61,117.56 581.03,117.21 581.46,116.10 581.89,114.28 582.33,114.33 582.77,116.12 583.21,118.38 583.66,120.92 584.11,123.23 584.49,124.57 584.88,125.15 585.28,124.84 585.68,123.80 586.09,122.78 586.51,122.25 586.93,121.55 587.35,119.76 587.77,116.68 588.20,112.49 588.63,107.61 589.06,102.55 589.49,97.59 589.92,94.26 590.35,94.59 590.77,95.06 591.20,95.57 591.61,95.83 592.03,95.58 592.44,94.84 592.84,93.58 593.24,93.70 593.63,94.44 594.01,95.29 594.46,96.21 594.91,95.76 595.34,94.26 595.77,92.80 596.19,91.71 596.61,90.76 597.02,89.48 597.43,87.55 597.84,88.71 598.24,90.24 598.64,91.53 599.04,92.89 599.44,94.34 599.84,95.58 600.24,96.09 600.64,94.87 601.04,91.12 601.45,86.48 601.86,84.20 602.27,85.01 602.68,86.97 603.09,88.54 603.50,88.86 603.92,87.45 604.33,84.63 604.74,81.14 605.16,77.65 605.57,77.62 605.98,78.79 606.39,79.96 606.81,80.67 607.22,80.67 607.63,80.11 608.04,79.34 608.46,78.24 608.87,76.56 609.28,75.80 609.69,79.31 610.11,82.59 610.52,83.73 610.93,83.15 611.35,81.98 611.76,80.68 612.17,79.12 612.58,76.98 613.00,74.66 613.41,76.21 613.82,78.36 614.23,80.98 614.65,83.48 615.06,85.54 615.47,87.20 615.88,88.30 616.30,87.77 616.71,85.15 617.12,82.59 617.54,81.86 617.95,81.68 618.36,80.85 618.77,79.88 619.19,78.94 619.61,77.52 620.04,75.30 620.46,72.38 620.89,70.48 621.33,70.12 621.76,70.13 622.19,70.20 622.63,69.73 623.05,68.08 623.48,64.76 623.90,59.32 624.32,52.39 624.73,47.75 625.14,48.89 625.53,53.74 625.92,58.37 626.30,60.39 626.67,60.63 627.03,60.07 627.51,59.13 627.95,58.67 628.37,58.59 628.76,59.21 629.14,59.31 629.50,58.63 629.86,57.33 630.23,55.79 630.60,54.54 630.98,54.08 631.39,54.47 631.83,54.31 632.30,52.69 632.80,53.43 633.15,55.82 633.50,57.77 633.87,58.51 634.24,58.88 634.63,59.22 635.02,58.85 635.42,57.33 635.83,55.27 636.24,54.39 636.66,56.29 637.09,59.59 637.51,63.17 637.95,66.41 638.38,69.14 638.82,71.05 639.26,71.44 639.70,69.31 640.14,66.16 640.58,65.71 641.01,67.71 641.45,68.91 641.88,69.16 642.28,69.67 642.67,69.60 643.06,69.26 643.45,69.12 643.84,69.50 644.22,72.97 644.61,76.95 645.00,80.69 645.39,83.71 645.78,85.70 646.18,86.54 646.58,86.46 646.98,86.05 647.38,85.73 647.79,86.25 648.21,88.83 648.63,92.56 649.06,94.65 649.49,94.43 649.94,93.46 650.39,92.74 650.84,92.31 651.31,91.68 651.79,91.63 652.15,92.34 652.51,92.59 652.87,92.72 653.23,93.05 653.60,93.81 653.96,94.94 654.33,96.19 654.70,97.08 655.07,96.94 655.45,95.70 655.83,94.49 656.21,94.34 656.59,94.79 656.98,94.87 657.37,94.33 657.77,93.05 658.17,91.51 658.58,90.11 658.99,89.02 659.41,89.26 659.84,91.65 660.27,94.47 660.70,97.27 661.15,99.69 661.60,101.55 662.06,102.74 662.53,103.42 663.00,103.58 663.49,103.92 663.98,105.52 664.48,106.87 664.99,106.35 665.34,105.30 665.71,104.11 666.08,103.13 666.47,102.62 666.88,102.55 667.29,103.38 667.71,104.44 668.14,104.95 668.58,104.87 669.03,104.41 669.48,103.98 669.94,104.07 670.41,104.73 670.88,105.09 671.36,105.07 671.84,105.17 672.32,104.97 672.81,104.53 673.29,104.33 673.78,104.00 674.27,103.03 674.75,102.04 675.24,101.96 675.72,102.20 676.20,103.18 676.68,104.74 677.15,106.35 677.62,107.51 678.08,108.06 678.53,108.03 678.98,108.22 679.42,109.55 679.85,111.29 680.27,112.06 680.68,111.50 681.09,110.02 681.48,108.29 681.85,106.92 682.22,106.17 682.57,106.12 682.91,106.99 683.23,107.82 683.53,108.48 683.82,108.93 684.09,109.18 684.35,109.30 684.58,109.36 684.80,109.43"/>
<polyline fill="none" stroke="#000" stroke-width="0.9" stroke-linejoin="round" points="437.20,52.92 437.50,56.27 437.92,61.12 438.40,66.32 438.85,70.73 439.24,74.04 439.62,76.86 440.03,79.43 440.50,81.96 440.83,83.56 441.14,85.01 441.48,86.41 441.88,87.87 442.36,89.53 442.98,91.54 443.29,92.51 443.63,93.55 444.00,94.63 444.39,95.77 444.80,96.94 445.22,98.15 445.66,99.37 446.11,100.62 446.56,101.87 447.01,103.12 447.46,104.37 447.90,105.60 448.33,106.81 448.75,107.99 449.17,109.16 449.58,110.32 449.99,111.49 450.41,112.65 450.82,113.82 451.23,114.98 451.64,116.14 452.06,117.30 452.47,118.45 452.88,119.60 453.29,120.74 453.71,121.87 454.12,123.00 454.53,124.12 454.94,125.24 455.36,126.38 455.77,127.51 456.18,128.65 456.60,129.79 457.01,130.92 457.42,132.04 457.83,133.15 458.25,134.24 458.66,135.30 459.07,136.34 459.48,137.35 459.90,138.33 460.31,139.26 460.72,140.17 461.13,141.05 461.55,141.91 461.96,142.74 462.37,143.55 462.79,144.34 463.20,145.10 463.61,145.85 464.02,146.56 464.44,147.26 464.85,147.93 465.26,148.57 465.67,149.20 466.09,149.80 466.50,150.37 466.92,150.92 467.34,151.44 467.76,151.94 468.18,152.41 468.61,152.86 469.03,153.29 469.45,153.70 469.86,154.08 470.27,154.45 470.68,154.79 471.08,155.12 471.48,155.43 471.86,155.72 472.30,156.02 472.73,156.29 473.14,156.51 473.55,156.70 473.94,156.86 474.34,157.00 474.74,157.12 475.13,157.23 475.54,157.33 475.95,157.43 476.38,157.55 476.82,157.68 477.21,157.76 477.61,157.80 478.03,157.84 478.45,157.90 478.89,158.02 479.32,158.18 479.76,158.32 480.19,158.38 480.62,158.33 481.04,158.20 481.45,158.10 481.85,158.14 482.23,158.38 482.59,158.82 483.07,159.59 483.51,160.33 483.93,160.92 484.32,161.35 484.71,161.73 485.09,162.22 485.47,162.99 485.87,164.15 486.28,165.67 486.72,167.35 487.10,168.54 487.48,169.32 487.86,169.63 488.25,169.55 488.64,169.33 489.04,169.28 489.45,169.68 489.87,170.65 490.30,172.09 490.74,173.69 491.20,175.06 491.67,175.89 492.04,176.14 492.41,176.17 492.78,176.13 493.17,176.17 493.56,176.36 493.95,176.71 494.36,177.13 494.77,177.53 495.18,177.86 495.61,178.12 496.03,178.37 496.47,178.64 496.91,178.93 497.36,179.17 497.81,179.26 498.27,179.19 498.65,179.08 499.03,179.04 499.41,179.17 499.79,179.52 500.18,180.05 500.58,180.64 500.98,181.09 501.38,181.25 501.78,181.07 502.19,180.63 502.61,180.12 503.03,179.79 503.45,179.79 503.88,180.08 504.31,180.50 504.75,180.80 505.18,180.79 505.63,180.49 506.08,180.11 506.53,179.96 506.91,180.18 507.29,180.71 507.68,181.42 508.06,182.06 508.46,182.39 508.85,182.26 509.25,181.68 509.65,180.85 510.05,180.05 510.45,179.58 510.86,179.58 511.27,180.03 511.69,180.72 512.10,181.39 512.52,181.79 512.95,181.84 513.37,181.60 513.80,181.26 514.23,180.98 514.67,180.88 515.10,180.93 515.54,181.03 515.99,181.09 516.43,181.09 516.82,181.08 517.22,181.11 517.62,181.19 518.04,181.29 518.46,181.31 518.89,181.16 519.32,180.82 519.76,180.38 520.20,180.06 520.64,180.05 521.08,180.44 521.53,181.09 521.97,181.73 522.42,182.07 522.86,181.95 523.29,181.42 523.73,180.75 524.16,180.21 524.58,179.99 525.00,180.11 525.41,180.41 525.81,180.66 526.20,180.72 526.58,180.55 526.95,180.23 527.31,179.93 527.66,179.78 527.99,179.84 528.54,180.40 529.07,181.14 529.58,181.52 530.06,181.26 530.53,180.51 530.97,179.61 531.40,178.93 531.80,178.65 532.20,178.76 532.57,179.11 532.94,179.51 533.29,179.79 533.63,179.86 533.96,179.71 534.28,179.39 534.59,178.97 535.16,178.19 535.65,177.66 536.07,177.28 536.45,176.88 536.80,176.37 537.14,175.72 537.50,174.91 537.89,173.94 538.30,172.88 538.72,171.76 539.13,170.55 539.54,169.16 539.95,167.51 540.37,165.58 540.78,163.46 541.19,161.34 541.59,159.44 541.98,157.84 542.36,156.48 542.74,155.21 543.13,153.82 543.55,152.04 544.00,149.64 544.49,146.52 544.85,144.11 545.22,141.61 545.62,139.21 546.02,137.01 546.44,135.01 546.87,133.03 547.30,130.86 547.73,128.38 548.17,125.68 548.60,123.06 549.03,120.82 549.45,119.12 549.85,117.94 550.25,116.79 550.64,115.37 551.03,113.42 551.43,110.76 551.82,107.34 552.22,103.40 552.62,99.64 553.04,97.05 553.48,96.31 553.93,96.92 554.40,96.67 554.76,94.42 555.14,90.99 555.53,88.74 555.93,89.14 556.34,90.95 556.75,92.08 557.17,92.20 557.60,92.02 558.02,91.79 558.45,91.40 558.88,90.90 559.31,90.40 559.74,89.98 560.16,89.60 560.58,89.05 561.00,86.58 561.41,85.48 561.83,84.11 562.24,82.78 562.65,81.90 563.06,81.70 563.48,81.87 563.89,81.32 564.30,79.35 564.71,76.94 565.13,75.63 565.54,75.51 565.95,75.46 566.36,74.98 566.78,74.39 567.19,73.93 567.60,73.55 568.01,73.05 568.42,72.12 568.82,71.30 569.21,70.85 569.61,71.48 570.01,72.62 570.40,74.51 570.80,77.12 571.20,80.13 571.61,83.03 572.02,85.35 572.44,86.81 572.87,87.21 573.30,86.35 573.75,85.05 574.21,85.42 574.58,87.60 574.96,90.39 575.34,92.38 575.72,92.98 576.11,92.30 576.51,90.53 576.91,87.98 577.31,85.30 577.72,83.64 578.13,86.51 578.54,90.15 578.96,93.79 579.38,96.80 579.81,99.05 580.24,100.77 580.68,102.16 581.12,103.22 581.56,103.74 582.01,103.36 582.46,101.43 582.84,98.53 583.23,95.37 583.62,93.34 584.01,92.86 584.41,93.06 584.82,92.92 585.23,92.07 585.64,90.43 586.05,87.78 586.47,84.10 586.89,81.51 587.31,81.54 587.73,81.96 588.15,82.94 588.58,85.13 589.00,89.37 589.42,92.91 589.85,95.71 590.27,98.07 590.69,100.31 591.11,102.56 591.53,104.65 591.95,106.23 592.36,107.27 592.78,108.24 593.19,109.34 593.60,110.00 594.01,109.64 594.43,108.45 594.84,107.09 595.25,106.00 595.66,105.25 596.08,107.55 596.49,110.72 596.90,113.37 597.31,115.38 597.73,116.82 598.14,117.88 598.55,118.77 598.97,119.60 599.38,120.35 599.79,120.90 600.20,121.12 600.62,120.87 601.03,119.96 601.44,118.29 601.85,116.18 602.27,114.25 602.68,112.67 603.09,110.86 603.50,108.23 603.92,104.75 604.33,100.84 604.74,97.04 605.16,96.69 605.57,97.83 605.98,99.42 606.39,100.96 606.81,101.92 607.22,101.87 607.63,100.74 608.04,101.04 608.46,101.57 608.87,102.29 609.28,103.46 609.69,105.01 610.11,106.47 610.52,107.12 610.93,106.51 611.35,105.09 611.76,103.75 612.17,102.82 612.58,101.97 613.00,100.99 613.41,99.90 613.82,98.56 614.23,100.41 614.65,102.48 615.06,104.31 615.47,106.13 615.88,107.94 616.30,109.64 616.71,111.09 617.12,112.21 617.54,112.86 617.95,112.85 618.36,112.09 618.77,110.63 619.19,108.64 619.60,106.11 620.01,102.75 620.42,98.81 620.84,95.37 621.25,93.11 621.66,91.33 622.07,89.01 622.49,86.03 622.91,82.92 623.32,83.65 623.74,84.40 624.17,84.44 624.59,83.55 625.01,81.78 625.44,79.47 625.86,77.02 626.28,74.87 626.71,73.45 627.13,74.13 627.55,77.17 627.97,80.11 628.39,81.84 628.80,81.56 629.21,78.97 629.62,74.90 630.02,71.54 630.42,70.82 630.82,72.44 631.21,74.47 631.60,75.49 631.98,75.30 632.43,76.76 632.88,77.16 633.32,76.99 633.76,76.95 634.20,77.43 634.63,78.43 635.06,79.60 635.48,80.48 635.90,80.74 636.31,80.33 636.72,79.43 637.13,78.29 637.53,77.07 637.93,75.56 638.32,72.98 638.71,68.54 639.10,63.06 639.48,58.92 639.86,57.82 640.23,59.11 640.69,60.99 641.13,61.61 641.55,62.17 641.96,61.95 642.36,61.27 642.76,60.35 643.15,59.46 643.53,58.86 643.92,58.71 644.31,58.99 644.70,59.39 645.11,59.44 645.52,58.65 645.94,56.79 646.38,54.27 646.83,52.04 647.21,51.05 647.59,50.85 647.97,50.82 648.35,50.85 648.74,52.05 649.14,55.27 649.54,59.16 649.94,61.23 650.34,60.99 650.75,59.46 651.17,57.90 651.59,57.63 652.01,59.57 652.44,63.66 652.87,68.60 653.31,72.67 653.74,74.84 654.19,75.29 654.64,74.95 655.09,74.71 655.47,74.95 655.85,75.70 656.24,76.78 656.62,77.91 657.02,78.46 657.41,77.88 657.81,76.69 658.21,76.44 658.61,77.90 659.01,79.97 659.42,81.86 659.83,82.93 660.25,83.38 660.66,83.71 661.08,84.18 661.51,85.06 661.93,86.29 662.36,87.62 662.79,88.55 663.23,88.58 663.66,87.72 664.10,86.62 664.55,86.25 664.99,87.09 665.38,88.55 665.77,90.72 666.18,92.43 666.58,92.71 667.00,91.36 667.42,89.39 667.84,88.18 668.27,88.22 668.70,89.92 669.13,92.21 669.57,95.16 670.00,98.30 670.44,100.78 670.87,102.01 671.31,101.97 671.74,101.11 672.17,100.21 672.60,99.91 673.02,100.50 673.44,101.80 673.85,103.33 674.26,104.56 674.66,105.08 675.05,104.76 675.44,103.57 675.82,101.60 676.19,99.20 676.55,97.12 677.04,96.07 677.54,97.88 678.04,100.60 678.54,102.61 679.04,104.16 679.53,105.40 680.01,106.15 680.48,106.21 680.94,105.53 681.40,104.37 681.83,103.15 682.25,102.27 682.65,101.94 683.03,102.09 683.39,102.46 683.73,102.77 684.04,102.84 684.32,102.60 684.58,102.11 684.80,101.59"/>
<polyline fill="none" stroke="#000" stroke-width="0.9" stroke-linejoin="round" points="437.20,52.92 437.50,56.32 437.92,61.23 438.40,66.50 438.85,70.98 439.24,74.35 439.62,77.23 440.03,79.86 440.50,82.46 440.83,84.11 441.14,85.61 441.48,87.06 441.88,88.58 442.36,90.28 442.98,92.29 443.29,93.26 443.63,94.30 444.00,95.39 444.39,96.52 444.80,97.70 445.22,98.90 445.66,100.13 446.11,101.37 446.56,102.63 447.01,103.88 447.46,105.12 447.90,106.36 448.33,107.57 448.75,108.75 449.17,109.91 449.58,111.08 449.99,112.24 450.41,113.41 450.82,114.57 451.23,115.74 451.64,116.89 452.06,118.05 452.47,119.20 452.88,120.35 453.29,121.49 453.71,122.63 454.12,123.76 454.53,124.88 454.94,126.00 455.36,127.13 455.77,128.27 456.18,129.41 456.60,130.55 457.01,131.68 457.42,132.80 457.83,133.90 458.25,134.99 458.66,136.06 459.07,137.10 459.48,138.10 459.90,139.08 460.31,140.02 460.72,140.92 461.13,141.80 461.55,142.66 461.96,143.50 462.37,144.31 462.79,145.10 463.20,145.86 463.61,146.60 464.02,147.32 464.44,148.01 464.85,148.68 465.26,149.33 465.67,149.95 466.09,150.55 466.50,151.12 466.92,151.67 467.34,152.20 467.76,152.69 468.18,153.17 468.61,153.62 469.03,154.05 469.45,154.45 469.86,154.84 470.27,155.20 470.68,155.55 471.08,155.88 471.48,156.18 471.86,156.47 472.30,156.77 472.73,157.02 473.14,157.22 473.55,157.39 473.94,157.53 474.34,157.65 474.74,157.82 475.13,157.97 475.54,158.06 475.95,158.11 476.38,158.16 476.82,158.27 477.21,158.41 477.61,158.53 478.03,158.61 478.45,158.65 478.89,158.75 479.32,159.02 479.76,159.47 480.19,160.01 480.62,160.47 481.04,160.75 481.45,160.92 481.85,161.12 482.23,161.45 482.59,161.94 483.07,162.67 483.51,163.24 483.93,163.57 484.32,163.79 484.71,164.13 485.09,164.77 485.47,165.78 485.87,167.06 486.28,168.40 486.72,169.56 487.10,170.35 487.50,171.14 487.90,172.06 488.31,173.15 488.72,174.23 489.14,175.05 489.57,175.42 489.99,175.48 490.41,175.54 490.84,175.96 491.26,176.83 491.67,177.93 492.08,178.90 492.47,179.52 492.85,179.76 493.23,179.80 493.61,179.83 493.99,180.00 494.39,180.29 494.79,180.57 495.21,180.67 495.66,180.57 496.12,180.52 496.62,180.94 496.97,181.59 497.32,182.41 497.67,183.17 498.03,183.67 498.39,183.77 498.76,183.52 499.14,183.10 499.53,182.77 499.93,182.67 500.33,182.78 500.75,182.87 501.18,182.77 501.62,182.44 502.08,182.13 502.55,182.15 503.03,182.57 503.53,183.05 504.05,183.16 504.40,182.98 504.75,182.73 505.11,182.62 505.48,182.80 505.86,183.31 506.24,183.98 506.63,184.53 507.03,184.73 507.43,184.53 507.84,184.13 508.25,183.76 508.67,183.60 509.09,183.56 509.52,183.44 509.95,183.07 510.38,182.54 510.81,182.14 511.25,182.16 511.69,182.66 512.12,183.39 512.56,183.96 513.00,184.15 513.44,184.07 513.88,184.02 514.31,184.25 514.75,184.73 515.18,185.15 515.61,185.21 516.01,184.83 516.41,184.17 516.81,183.51 517.22,183.08 517.62,182.92 518.03,182.91 518.44,182.85 518.85,182.69 519.26,182.57 519.67,182.74 520.09,183.34 520.50,184.30 520.91,185.26 521.33,185.84 521.75,185.83 522.16,185.33 522.58,184.65 523.00,184.12 523.41,183.87 523.83,183.80 524.25,183.71 524.66,183.50 525.08,183.28 525.50,183.26 525.91,183.58 526.33,184.16 526.74,184.70 527.16,184.88 527.57,184.59 527.99,184.01 528.40,183.46 528.83,183.28 529.25,183.55 529.69,184.06 530.13,184.48 530.57,184.60 531.01,184.51 531.46,184.47 531.91,184.65 532.36,184.92 532.81,184.99 533.26,184.63 533.70,183.96 534.15,183.34 534.59,183.11 535.03,183.34 535.46,183.76 535.89,184.03 536.31,183.97 536.73,183.69 537.14,183.47 537.54,183.55 537.93,183.91 538.31,184.40 538.69,184.75 539.05,184.84 539.40,184.68 539.73,184.37 540.06,184.08 540.37,183.88 540.98,183.72 541.55,183.37 542.06,182.52 542.52,181.42 542.95,180.54 543.35,180.11 543.72,180.05 544.07,180.18 544.41,180.25 544.75,180.13 545.08,179.76 545.42,179.20 545.77,178.57 546.14,178.04 546.59,177.64 547.02,177.31 547.44,176.78 547.86,175.88 548.27,174.70 548.67,173.47 549.07,172.41 549.48,171.58 549.88,170.83 550.28,169.90 550.69,168.65 551.10,167.11 551.51,165.57 551.92,164.38 552.33,163.72 552.75,163.50 553.16,163.40 553.57,163.12 553.98,162.51 554.40,161.67 554.81,160.78 555.22,159.91 555.64,158.96 556.05,157.73 556.46,156.12 556.85,154.25 557.25,152.39 557.64,150.87 558.03,149.84 558.42,149.26 558.82,148.88 559.23,148.36 559.65,147.48 560.08,146.24 560.53,144.86 561.00,143.56 561.37,142.67 561.75,141.69 562.14,140.44 562.53,138.87 562.94,137.06 563.36,135.28 563.77,133.82 564.20,132.75 564.63,131.76 565.05,130.45 565.48,128.63 565.91,126.45 566.34,124.31 566.77,122.52 567.19,121.07 567.60,119.63 568.02,118.00 568.44,116.37 568.86,114.48 569.29,112.72 569.72,111.39 570.15,110.45 570.58,109.41 571.01,107.52 571.43,104.60 571.85,101.78 572.26,99.68 572.67,97.69 573.07,95.69 573.46,94.97 573.84,96.02 574.21,96.22 574.68,95.17 575.15,93.75 575.60,92.89 576.04,92.54 576.47,92.16 576.89,91.22 577.29,89.65 577.69,87.61 578.07,85.44 578.45,82.89 578.81,79.34 579.16,75.66 579.64,72.50 580.06,70.22 580.44,66.49 580.81,62.20 581.17,58.52 581.56,55.31 581.98,51.97 582.46,49.13 582.80,48.66 583.15,49.53 583.50,51.08 583.86,52.32 584.24,53.40 584.63,54.79 585.03,56.46 585.45,57.89 585.90,58.30 586.38,56.46 586.88,55.25 587.41,60.95 587.75,65.36 588.10,68.22 588.47,69.30 588.85,69.09 589.24,68.08 589.64,66.95 590.06,66.35 590.47,66.45 590.90,66.56 591.33,65.56 591.77,63.74 592.20,63.15 592.64,65.06 593.08,69.82 593.52,74.26 593.96,75.84 594.39,75.73 594.82,77.13 595.25,79.76 595.66,81.44 596.08,82.35 596.49,83.18 596.91,83.51 597.33,82.88 597.75,81.34 598.17,79.45 598.59,77.87 599.00,76.94 599.42,76.38 599.84,75.62 600.26,74.02 600.68,71.08 601.09,66.82 601.50,61.86 601.91,58.36 602.32,58.80 602.72,62.46 603.13,64.84 603.52,64.42 603.92,63.17 604.35,62.33 604.78,62.46 605.20,63.25 605.62,63.91 606.04,64.38 606.45,64.17 606.87,63.30 607.28,62.38 607.68,61.77 608.09,61.36 608.49,60.67 608.90,58.62 609.30,54.59 609.71,51.31 610.12,51.75 610.52,54.03 610.93,55.64 611.35,57.65 611.76,60.71 612.17,63.11 612.57,64.58 612.98,65.13 613.39,65.82 613.79,67.02 614.20,68.41 614.60,69.58 615.01,70.42 615.42,71.26 615.82,72.62 616.24,74.63 616.65,76.19 617.07,76.67 617.49,78.06 617.91,81.00 618.34,83.02 618.77,83.42 619.17,83.64 619.57,83.85 619.97,83.25 620.37,81.58 620.78,79.62 621.19,78.12 621.60,76.81 622.02,75.74 622.43,77.17 622.85,78.38 623.27,79.17 623.69,79.36 624.11,78.84 624.52,77.74 624.94,79.41 625.36,84.88 625.78,91.06 626.20,95.75 626.61,98.81 627.03,100.84 627.44,102.38 627.85,103.88 628.26,105.41 628.68,106.64 629.09,106.99 629.50,106.07 629.92,104.27 630.33,102.72 630.74,102.15 631.15,102.27 631.57,102.13 631.98,103.89 632.39,105.64 632.80,107.81 633.22,110.80 633.63,113.95 634.04,116.94 634.45,119.65 634.87,121.63 635.28,122.48 635.69,122.25 636.11,121.37 636.52,120.33 636.93,119.35 637.34,118.31 637.76,116.90 638.17,114.92 638.58,112.38 638.99,109.45 639.41,106.25 639.82,103.04 640.23,100.65 640.64,99.02 641.06,96.71 641.47,93.71 641.88,92.84 642.30,92.26 642.71,92.33 643.12,92.89 643.53,93.49 643.95,95.55 644.37,97.77 644.79,99.62 645.21,101.37 645.64,103.04 646.06,104.28 646.49,104.55 646.91,103.35 647.34,100.48 647.76,97.43 648.19,96.09 648.60,95.74 649.02,94.88 649.43,93.85 649.84,93.23 650.24,92.68 650.64,91.82 651.03,90.84 651.41,91.83 651.79,93.30 652.25,94.62 652.70,94.82 653.15,93.98 653.59,92.68 654.03,91.52 654.46,90.29 654.88,87.84 655.29,84.49 655.70,82.31 656.11,81.35 656.50,80.08 656.89,78.61 657.28,77.80 657.65,77.41 658.03,76.59 658.39,74.94 658.86,72.56 659.31,71.79 659.74,72.54 660.16,73.43 660.57,73.70 660.97,73.54 661.36,72.97 661.75,71.77 662.14,69.90 662.54,67.19 662.93,65.56 663.34,67.05 663.75,70.40 664.15,72.39 664.54,72.59 664.93,72.21 665.32,72.11 665.71,72.80 666.11,74.40 666.52,76.56 666.94,78.63 667.37,79.70 667.82,79.34 668.29,78.79 668.66,79.67 669.05,81.88 669.45,84.09 669.87,84.30 670.29,82.04 670.72,80.41 671.16,82.02 671.59,85.01 672.03,87.98 672.47,90.94 672.90,93.51 673.32,95.30 673.74,96.47 674.14,97.43 674.53,98.45 674.90,99.50 675.37,100.61 675.82,101.03 676.25,100.82 676.67,100.39 677.08,100.01 677.48,99.62 677.87,99.34 678.26,99.92 678.65,101.48 679.04,102.74 679.44,102.69 679.85,101.85 680.28,101.13 680.73,101.85 681.20,102.79 681.68,103.71 682.16,104.67 682.63,105.59 683.09,106.96 683.52,108.80 683.91,110.68 684.26,112.15 684.56,113.08 684.80,113.55"/>
<polyline fill="none" stroke="#000" stroke-width="0.9" stroke-linejoin="round" points="437.20,52.92 437.50,56.36 437.92,61.34 438.40,66.69 438.85,71.23 439.24,74.66 439.62,77.60 440.03,80.29 440.50,82.96 440.83,84.67 441.14,86.21 441.48,87.71 441.88,89.29 442.36,91.04 442.98,93.05 443.29,94.02 443.63,95.05 444.00,96.14 444.39,97.28 444.80,98.45 445.22,99.66 445.66,100.88 446.11,102.13 446.56,103.38 447.01,104.63 447.46,105.88 447.90,107.11 448.33,108.32 448.75,109.50 449.17,110.67 449.58,111.83 449.99,113.00 450.41,114.16 450.82,115.33 451.23,116.49 451.64,117.65 452.06,118.81 452.47,119.96 452.88,121.10 453.29,122.25 453.71,123.38 454.12,124.51 454.53,125.63 454.94,126.75 455.36,127.89 455.77,129.02 456.18,130.16 456.60,131.30 457.01,132.43 457.42,133.55 457.83,134.66 458.25,135.74 458.66,136.81 459.07,137.85 459.48,138.86 459.90,139.83 460.31,140.77 460.72,141.68 461.13,142.56 461.55,143.42 461.96,144.25 462.37,145.06 462.79,145.85 463.20,146.61 463.61,147.35 464.02,148.07 464.44,148.76 464.85,149.43 465.26,150.08 465.67,150.70 466.09,151.30 466.50,151.88 466.92,152.43 467.34,152.95 467.76,153.45 468.18,153.92 468.61,154.37 469.03,154.80 469.45,155.21 469.86,155.59 470.27,155.96 470.68,156.30 471.08,156.63 471.48,156.94 471.86,157.23 472.30,157.54 472.73,157.80 473.14,158.03 473.55,158.23 473.94,158.40 474.34,158.54 474.74,158.71 475.13,158.90 475.54,159.10 475.95,159.24 476.38,159.30 476.82,159.27 477.21,159.17 477.61,159.06 478.03,159.00 478.45,159.04 478.89,159.15 479.32,159.27 479.76,159.29 480.19,159.17 480.62,158.96 481.04,158.77 481.45,158.72 481.85,158.92 482.23,159.36 482.59,159.98 483.07,160.94 483.51,161.79 483.93,162.43 484.32,162.90 484.71,163.29 485.09,163.74 485.47,164.35 485.87,165.22 486.28,166.32 486.72,167.52 487.10,168.40 487.48,169.02 487.86,169.32 488.25,169.36 488.64,169.29 489.04,169.34 489.45,169.73 489.87,170.58 490.30,171.87 490.74,173.39 491.20,174.81 491.67,175.80 492.04,176.17 492.41,176.27 492.78,176.22 493.17,176.17 493.56,176.28 493.95,176.59 494.36,177.06 494.77,177.53 495.18,177.82 495.61,177.81 496.03,177.51 496.47,177.08 496.91,176.83 497.36,177.01 497.81,177.76 498.27,178.97 498.65,180.04 499.03,180.96 499.41,181.54 499.79,181.68 500.18,181.38 500.58,180.80 500.98,180.16 501.38,179.67 501.78,179.47 502.19,179.55 502.61,179.80 503.03,180.01 503.45,180.02 503.88,179.77 504.31,179.38 504.75,179.04 505.18,179.01 505.63,179.41 506.08,180.18 506.53,181.09 506.91,181.69 507.30,181.97 507.69,181.83 508.08,181.31 508.48,180.59 508.89,179.90 509.30,179.49 509.71,179.48 510.12,179.84 510.54,180.38 510.96,180.88 511.38,181.11 511.80,180.99 512.22,180.59 512.65,180.13 513.07,179.84 513.49,179.88 513.92,180.25 514.34,180.81 514.76,181.32 515.18,181.55 515.60,181.41 516.02,180.95 516.43,180.35 516.85,179.86 517.27,179.69 517.70,179.93 518.14,180.49 518.58,181.12 519.02,181.53 519.47,181.49 519.92,181.01 520.36,180.28 520.81,179.63 521.25,179.32 521.69,179.47 522.13,179.95 522.56,180.54 522.98,180.94 523.40,181.00 523.81,180.71 524.21,180.21 524.60,179.69 524.97,179.34 525.33,179.25 525.68,179.39 526.02,179.69 526.34,180.00 526.93,180.32 527.47,179.97 527.96,179.12 528.41,178.14 528.83,177.36 529.22,176.90 529.59,176.75 529.94,176.78 530.28,176.87 530.62,176.86 530.95,176.66 531.29,176.18 531.78,174.99 532.23,173.55 532.65,172.15 533.04,170.97 533.42,170.04 533.80,169.31 534.19,168.61 534.59,167.75 534.99,166.50 535.38,164.77 535.75,162.59 536.14,160.10 536.53,157.45 536.95,154.86 537.40,152.51 537.89,150.45 538.24,149.15 538.60,147.73 538.97,146.06 539.36,144.05 539.75,141.73 540.16,139.22 540.58,136.75 541.01,134.58 541.45,132.90 541.90,131.69 542.37,130.66 542.84,129.35 543.21,127.89 543.59,125.90 543.98,123.44 544.38,120.75 544.78,118.22 545.20,116.00 545.62,114.24 546.04,112.74 546.47,111.03 546.90,108.50 547.33,105.04 547.76,101.30 548.18,98.04 548.61,95.04 549.03,92.60 549.45,92.73 549.86,95.42 550.27,97.75 550.68,98.08 551.10,97.03 551.51,95.09 551.92,92.53 552.33,89.79 552.75,87.36 553.16,85.61 553.57,84.64 553.98,84.22 554.40,83.95 554.81,83.38 555.22,82.27 555.64,80.66 556.05,78.62 556.46,75.00 556.88,69.58 557.31,67.18 557.74,71.56 558.17,78.08 558.60,81.30 559.03,81.11 559.45,78.38 559.88,73.79 560.30,69.31 560.71,67.25 561.12,72.65 561.51,74.42 561.90,76.62 562.28,78.35 562.65,79.22 563.12,79.12 563.57,78.13 564.00,76.85 564.42,75.35 564.83,73.56 565.23,72.96 565.62,75.07 566.01,78.88 566.40,82.00 566.80,83.48 567.20,83.72 567.60,83.02 568.01,81.72 568.41,80.29 568.80,79.11 569.19,78.33 569.58,77.88 569.98,77.45 570.37,76.69 570.78,76.01 571.20,75.80 571.63,75.08 572.08,73.93 572.55,72.20 572.92,71.16 573.29,73.41 573.67,78.44 574.05,85.23 574.44,91.51 574.84,96.04 575.24,98.87 575.65,100.39 576.07,101.17 576.49,101.79 576.92,102.68 577.35,103.95 577.79,105.23 578.24,106.19 578.70,106.52 579.16,106.07 579.53,105.27 579.92,104.33 580.32,103.48 580.73,105.34 581.14,108.62 581.56,112.72 581.99,117.19 582.42,120.70 582.85,122.60 583.28,123.16 583.72,122.84 584.15,122.16 584.58,121.57 585.00,121.34 585.42,121.51 585.84,121.93 586.25,122.31 586.64,122.36 587.03,121.94 587.41,121.14 587.87,119.98 588.31,119.13 588.75,118.84 589.18,119.13 589.60,120.96 590.01,122.77 590.41,124.61 590.82,126.62 591.21,127.98 591.61,128.88 592.01,129.58 592.40,130.32 592.80,131.26 593.20,132.41 593.60,133.61 594.01,134.63 594.42,135.20 594.83,135.19 595.24,134.64 595.64,133.78 596.05,132.90 596.45,132.27 596.86,132.04 597.26,132.19 597.67,132.53 598.08,132.72 598.49,132.47 598.91,131.56 599.33,129.97 599.75,127.86 600.18,125.81 600.62,125.10 601.01,124.73 601.41,124.52 601.83,124.24 602.24,123.64 602.67,122.51 603.09,120.84 603.52,118.82 603.95,116.81 604.38,115.13 604.81,113.81 605.24,112.70 605.66,112.39 606.08,113.76 606.49,114.46 606.89,114.04 607.29,112.66 607.67,110.70 608.04,108.53 608.51,105.87 608.96,103.59 609.41,101.63 609.84,99.64 610.26,100.37 610.68,101.10 611.09,101.07 611.49,100.78 611.89,100.83 612.28,101.54 612.67,102.38 613.05,102.54 613.44,102.24 613.82,102.40 614.27,102.58 614.71,100.57 615.16,96.18 615.59,90.79 616.03,85.48 616.45,80.99 616.87,77.66 617.28,75.37 617.67,73.70 618.05,72.14 618.42,70.34 618.77,68.17 619.24,64.48 619.64,60.95 619.99,58.55 620.32,56.78 620.67,54.94 621.06,52.36 621.52,50.31 622.07,53.11 622.40,55.70 622.74,56.83 623.11,56.10 623.49,54.45 623.89,53.16 624.31,53.65 624.73,56.87 625.17,62.37 625.61,68.39 626.06,73.05 626.50,75.49 626.95,75.99 627.39,75.37 627.83,74.50 628.26,74.00 628.68,73.65 629.08,72.77 629.48,72.16 629.87,75.07 630.25,79.77 630.63,83.66 631.01,86.04 631.39,87.65 631.77,89.22 632.16,91.06 632.56,93.28 632.97,95.75 633.40,98.05 633.84,99.60 634.30,99.83 634.78,98.49 635.28,95.79 635.63,93.49 635.99,91.06 636.36,88.76 636.74,86.65 637.13,84.69 637.52,83.37 637.93,83.20 638.34,84.32 638.75,86.71 639.17,87.58 639.60,89.79 640.03,94.33 640.46,99.11 640.89,104.06 641.32,108.88 641.76,113.14 642.20,116.47 642.63,118.80 643.06,120.32 643.50,121.41 643.92,122.47 644.35,123.73 644.77,125.11 645.18,126.40 645.60,127.41 646.01,127.96 646.42,127.80 646.83,127.07 647.25,126.15 647.66,125.47 648.07,125.36 648.49,125.99 648.90,127.26 649.31,129.05 649.72,131.34 650.14,133.21 650.55,134.54 650.96,135.38 651.37,135.94 651.79,136.47 652.20,137.16 652.61,138.07 653.02,139.12 653.44,140.13 653.85,140.96 654.26,141.52 654.68,141.90 655.09,142.33 655.50,142.98 655.91,144.08 656.33,145.73 656.74,147.82 657.15,150.10 657.56,152.25 657.98,153.96 658.39,155.07 658.80,155.61 659.21,155.77 659.63,155.84 660.04,156.08 660.45,156.64 660.87,157.52 661.28,158.60 661.69,159.68 662.10,160.62 662.52,161.39 662.93,162.07 663.34,162.83 663.75,163.85 664.17,165.19 664.58,166.80 664.99,168.46 665.40,169.89 665.82,170.84 666.23,171.19 666.64,171.00 667.06,170.50 667.47,169.99 667.88,169.76 668.29,170.00 668.71,170.67 669.12,171.62 669.53,172.59 669.94,173.35 670.36,173.79 670.77,173.94 671.18,173.97 671.59,174.10 672.01,174.48 672.42,175.15 672.83,176.00 673.25,176.84 673.66,177.43 674.07,177.64 674.48,177.48 674.90,177.11 675.32,176.76 675.75,176.66 676.20,176.98 676.66,177.70 677.13,178.54 677.60,179.13 678.08,179.18 678.56,178.70 679.05,177.98 679.52,177.47 680.00,177.50 680.47,178.14 680.93,179.15 681.38,180.18 681.81,180.89 682.23,181.16 682.64,181.05 683.02,180.73 683.38,180.42 683.72,180.22 684.04,180.18 684.32,180.26 684.58,180.40 684.80,180.54"/>
<polyline fill="none" stroke="#000" stroke-width="0.9" stroke-linejoin="round" points="437.20,52.92 437.50,56.29 437.92,61.16 438.40,66.39 438.85,70.82 439.24,74.16 439.62,77.01 440.03,79.59 440.50,82.15 440.83,83.77 441.14,85.24 441.48,86.66 441.88,88.14 442.36,89.82 442.98,91.83 443.29,92.80 443.63,93.83 444.00,94.92 444.39,96.06 444.80,97.23 445.22,98.43 445.66,99.66 446.11,100.91 446.56,102.16 447.01,103.41 447.46,104.66 447.90,105.89 448.33,107.10 448.75,108.28 449.17,109.45 449.58,110.61 449.99,111.78 450.41,112.94 450.82,114.11 451.23,115.27 451.64,116.43 452.06,117.58 452.47,118.74 452.88,119.88 453.29,121.03 453.71,122.16 454.12,123.29 454.53,124.41 454.94,125.53 455.36,126.67 455.77,127.80 456.18,128.94 456.60,130.08 457.01,131.21 457.42,132.33 457.83,133.44 458.25,134.52 458.66,135.59 459.07,136.63 459.48,137.64 459.90,138.61 460.31,139.55 460.72,140.46 461.13,141.34 461.55,142.20 461.96,143.03 462.37,143.84 462.79,144.63 463.20,145.39 463.61,146.13 464.02,146.85 464.44,147.54 464.85,148.21 465.26,148.86 465.67,149.48 466.09,150.08 466.50,150.66 466.92,151.21 467.34,151.73 467.76,152.23 468.18,152.70 468.61,153.15 469.03,153.58 469.45,153.99 469.86,154.37 470.27,154.74 470.68,155.08 471.08,155.41 471.48,155.72 471.86,156.01 472.30,156.32 472.73,156.59 473.14,156.83 473.55,157.03 473.94,157.21 474.34,157.37 474.74,157.48 475.13,157.55 475.54,157.62 475.95,157.72 476.38,157.86 476.82,158.04 477.21,158.18 477.61,158.24 478.03,158.21 478.45,158.09 478.89,157.92 479.32,157.77 479.76,157.70 480.19,157.73 480.62,157.80 481.04,157.87 481.45,157.85 481.85,157.76 482.23,157.63 482.59,157.56 483.07,157.67 483.51,158.11 483.93,158.84 484.32,159.78 484.71,160.80 485.09,161.77 485.47,162.61 485.87,163.26 486.28,163.74 486.72,164.14 487.10,164.57 487.48,165.18 487.86,165.98 488.25,166.87 488.64,167.74 489.04,168.45 489.45,168.93 489.87,169.17 490.30,169.26 490.74,169.36 491.20,169.65 491.67,170.20 492.04,170.77 492.41,171.37 492.78,171.90 493.17,172.27 493.56,172.45 493.95,172.46 494.36,172.42 494.77,172.48 495.18,172.75 495.61,173.27 496.03,173.96 496.47,174.66 496.91,175.18 497.36,175.40 497.81,175.33 498.27,175.09 498.65,174.91 499.03,174.84 499.41,174.93 499.79,175.14 500.18,175.39 500.58,175.56 500.98,175.55 501.38,175.34 501.78,174.97 502.19,174.59 502.61,174.35 503.03,174.39 503.45,174.74 503.88,175.32 504.31,175.97 504.75,176.50 505.18,176.77 505.63,176.76 506.08,176.55 506.53,176.33 506.91,176.22 507.31,176.24 507.72,176.33 508.14,176.39 508.57,176.29 509.00,175.92 509.45,175.31 509.89,174.61 510.34,174.03 510.79,173.79 511.24,173.97 511.69,174.50 512.13,175.18 512.57,175.79 513.01,176.18 513.44,176.31 513.86,176.26 514.27,176.16 514.66,176.10 515.05,176.12 515.42,176.18 515.77,176.20 516.11,176.11 516.43,175.87 517.02,174.95 517.56,173.71 518.06,172.58 518.51,171.80 518.93,171.43 519.32,171.40 519.69,171.54 520.04,171.73 520.38,171.85 520.71,171.85 521.04,171.69 521.38,171.38 521.86,170.78 522.29,170.17 522.67,169.58 523.03,168.96 523.40,168.23 523.78,167.25 524.20,165.85 524.69,163.79 525.04,161.96 525.42,159.83 525.81,157.55 526.21,155.31 526.63,153.31 527.06,151.63 527.49,150.24 527.93,148.99 528.36,147.71 528.79,146.28 529.22,144.70 529.64,143.06 530.04,141.42 530.44,139.82 530.84,138.31 531.23,136.82 531.62,135.24 532.01,133.44 532.41,131.29 532.82,128.74 533.24,125.85 533.67,122.83 534.12,119.96 534.59,117.58 534.96,116.30 535.35,115.35 535.75,114.58 536.16,113.54 536.59,111.83 537.02,110.10 537.45,109.46 537.89,109.46 538.33,109.17 538.76,108.77 539.20,108.30 539.62,106.73 540.03,103.66 540.43,101.03 540.82,100.41 541.19,100.55 541.66,99.45 542.11,97.48 542.55,95.95 542.96,94.98 543.37,94.38 543.77,93.70 544.16,91.82 544.55,87.93 544.94,84.15 545.34,83.70 545.74,86.12 546.14,88.10 546.56,88.55 546.97,88.59 547.38,87.95 547.79,84.57 548.21,78.86 548.62,75.95 549.03,78.14 549.45,81.09 549.86,81.61 550.27,81.17 550.68,81.21 551.10,81.74 551.51,82.48 551.92,82.72 552.33,80.69 552.75,76.26 553.16,74.00 553.57,77.05 553.98,81.98 554.40,85.02 554.81,86.70 555.22,88.10 555.64,88.17 556.05,85.46 556.45,82.54 556.84,83.41 557.21,87.37 557.58,91.11 557.94,93.36 558.32,95.07 558.70,97.01 559.10,99.15 559.53,101.23 559.98,102.80 560.47,102.70 561.00,102.80 561.34,103.56 561.68,105.08 562.04,106.96 562.41,108.81 562.79,110.60 563.18,112.31 563.58,113.77 563.98,114.73 564.40,115.29 564.82,115.94 565.24,116.88 565.67,117.96 566.11,119.23 566.55,120.71 567.00,122.26 567.44,123.57 567.89,124.44 568.35,124.84 568.80,125.58 569.25,126.22 569.63,126.82 570.02,127.56 570.40,128.41 570.79,129.30 571.18,130.08 571.57,130.66 571.97,131.13 572.37,131.70 572.77,132.19 573.18,132.79 573.59,133.61 574.00,134.71 574.41,136.03 574.83,137.41 575.25,138.67 575.67,139.64 576.10,140.28 576.53,140.65 576.96,140.89 577.39,141.17 577.83,141.60 578.27,142.46 578.71,143.31 579.16,144.00 579.54,144.36 579.93,144.50 580.32,144.47 580.72,144.42 581.12,144.48 581.52,144.79 581.93,145.38 582.34,146.19 582.75,147.08 583.16,147.89 583.58,148.48 583.99,148.81 584.41,148.95 584.83,149.01 585.25,149.15 585.67,149.44 586.10,149.87 586.52,150.33 586.94,150.68 587.36,150.83 587.78,150.80 588.21,150.57 588.63,150.31 589.05,150.25 589.47,150.47 589.88,150.98 590.30,151.69 590.71,152.45 591.13,153.11 591.56,153.57 592.00,153.81 592.45,153.94 592.91,154.13 593.37,154.52 593.83,155.16 594.30,155.91 594.77,156.55 595.24,156.89 595.72,156.86 596.18,156.56 596.65,156.23 597.11,156.11 597.56,156.28 598.01,156.67 598.44,157.14 598.87,157.53 599.29,157.73 599.69,157.76 600.07,157.69 600.45,157.64 600.80,157.73 601.14,157.97 601.45,158.37 601.75,158.85 602.02,159.36 602.27,159.83 603.14,160.90 603.09,160.58 603.04,160.26 603.92,160.29 604.17,160.19 604.44,160.06 604.73,159.97 605.05,159.95 605.38,160.04 605.74,160.24 606.11,160.52 606.50,160.79 606.90,160.92 607.31,160.86 607.74,160.64 608.18,160.40 608.62,160.36 609.08,160.68 609.54,161.40 610.00,162.40 610.47,163.43 610.94,164.26 611.41,164.76 611.88,164.96 612.35,165.03 612.82,165.14 613.28,165.39 613.73,165.72 614.18,165.99 614.62,166.06 615.05,165.86 615.47,165.45 615.88,165.00 616.29,164.66 616.70,164.61 617.11,164.91 617.51,165.55 617.92,166.41 618.32,167.32 618.73,168.12 619.13,168.72 619.53,169.12 619.93,169.39 620.34,169.62 620.74,169.91 621.15,170.28 621.55,170.69 621.96,171.02 622.37,171.15 622.78,171.00 623.19,170.58 623.61,170.01 624.02,169.46 624.44,169.15 624.86,169.20 625.29,169.65 625.72,170.40 626.15,171.27 626.59,172.09 627.03,172.72 627.42,173.12 627.81,173.43 628.20,173.75 628.60,174.14 629.00,174.63 629.40,175.15 629.81,175.58 630.21,175.80 630.62,175.72 631.03,175.34 631.44,174.76 631.86,174.18 632.27,173.77 632.69,173.70 633.11,173.99 633.53,174.57 633.95,175.28 634.37,175.96 634.79,176.50 635.21,176.87 635.63,177.15 636.05,177.46 636.47,177.88 636.89,178.42 637.31,179.02 637.73,179.51 638.15,179.75 638.57,179.67 638.99,179.28 639.40,178.72 639.82,178.17 640.23,177.82 640.65,177.78 641.07,178.07 641.50,178.59 641.94,179.18 642.38,179.66 642.83,179.95 643.27,180.10 643.73,180.22 644.18,180.47 644.64,180.91 645.09,181.49 645.55,182.02 646.00,182.33 646.45,182.29 646.90,181.93 647.35,181.40 647.79,180.95 648.23,180.75 648.66,180.87 649.09,181.25 649.51,181.74 649.92,182.17 650.32,182.43 650.72,182.48 651.10,182.40 651.47,182.28 651.83,182.22 652.18,182.25 652.52,182.40 652.84,182.61 653.15,182.82 653.44,182.98 654.14,182.88 654.74,182.13 655.26,181.17 655.70,180.33 656.09,179.70 656.43,179.23 656.74,178.86 657.04,178.52 657.34,178.15 657.66,177.71 658.00,177.15 658.39,176.39 658.80,175.31 659.20,173.94 659.59,172.46 659.98,171.00 660.37,169.65 660.76,168.44 661.16,167.30 661.57,166.17 661.99,164.99 662.42,163.75 662.87,162.58 663.34,161.70 663.71,161.39 664.08,161.46 664.45,161.90 664.84,162.63 665.23,163.52 665.62,164.40 666.03,165.14 666.44,165.67 666.85,166.04 667.27,166.34 667.70,166.71 668.14,167.23 668.58,167.89 669.03,168.57 669.48,169.08 669.94,169.28 670.32,169.22 670.71,169.07 671.11,168.95 671.52,169.01 671.93,169.36 672.35,170.02 672.78,170.89 673.21,171.80 673.64,172.53 674.07,172.98 674.50,173.14 674.94,173.13 675.36,173.10 675.79,173.18 676.21,173.41 676.63,173.73 677.03,174.01 677.43,174.16 677.82,174.10 678.20,173.88 678.67,173.49 679.15,173.19 679.63,173.22 680.12,173.67 680.60,174.44 681.08,175.25 681.56,175.84 682.01,176.11 682.46,176.09 682.88,175.94 683.28,175.83 683.65,175.83 683.99,175.94 684.30,176.11 684.57,176.27 684.80,176.40"/>
<polyline fill="none" stroke="#000" stroke-width="0.9" stroke-linejoin="round" points="437.20,52.92 437.50,56.33 437.92,61.27 438.40,66.57 438.85,71.08 439.24,74.47 439.62,77.38 440.03,80.02 440.50,82.65 440.83,84.33 441.14,85.84 441.48,87.31 441.88,88.85 442.36,90.57 442.98,92.58 443.29,93.55 443.63,94.59 444.00,95.68 444.39,96.81 444.80,97.98 445.22,99.19 445.66,100.42 446.11,101.66 446.56,102.91 447.01,104.17 447.46,105.41 447.90,106.65 448.33,107.86 448.75,109.04 449.17,110.20 449.58,111.37 449.99,112.53 450.41,113.70 450.82,114.86 451.23,116.02 451.64,117.18 452.06,118.34 452.47,119.49 452.88,120.64 453.29,121.78 453.71,122.92 454.12,124.04 454.53,125.16 454.94,126.29 455.36,127.42 455.77,128.56 456.18,129.70 456.60,130.83 457.01,131.96 457.42,133.08 457.83,134.19 458.25,135.28 458.66,136.34 459.07,137.38 459.48,138.39 459.90,139.37 460.31,140.31 460.72,141.21 461.13,142.09 461.55,142.95 461.96,143.78 462.37,144.60 462.79,145.38 463.20,146.15 463.61,146.89 464.02,147.61 464.44,148.30 464.85,148.97 465.26,149.62 465.67,150.24 466.09,150.84 466.50,151.41 466.92,151.96 467.34,152.48 467.76,152.98 468.18,153.46 468.61,153.91 469.03,154.33 469.45,154.74 469.86,155.13 470.27,155.49 470.68,155.84 471.08,156.16 471.48,156.47 471.86,156.76 472.30,157.07 472.73,157.35 473.14,157.60 473.55,157.81 473.94,158.00 474.34,158.16 474.74,158.33 475.13,158.44 475.54,158.49 475.95,158.48 476.38,158.47 476.82,158.50 477.20,158.56 477.58,158.60 477.97,158.57 478.36,158.46 478.75,158.32 479.15,158.25 479.55,158.34 479.96,158.58 480.37,158.86 480.80,159.00 481.23,158.86 481.67,158.54 482.13,158.29 482.59,158.36 482.96,158.60 483.34,158.83 483.73,158.80 484.12,158.38 484.51,157.67 484.92,157.00 485.32,156.72 485.74,156.98 486.15,157.57 486.57,158.04 487.00,158.06 487.42,157.69 487.85,157.43 488.28,157.74 488.72,158.71 489.15,159.89 489.59,160.61 490.02,160.46 490.42,159.73 490.81,158.86 491.21,158.32 491.62,158.29 492.03,158.52 492.44,158.52 492.85,157.92 493.26,156.79 493.68,155.62 494.10,155.06 494.51,155.39 494.93,156.38 495.35,157.42 495.77,157.93 496.19,157.81 496.61,157.42 497.03,157.31 497.45,157.76 497.86,158.57 498.27,159.15 498.69,158.99 499.10,158.00 499.51,156.59 499.93,155.40 500.34,154.91 500.75,155.09 501.16,155.52 501.58,155.67 501.99,155.33 502.40,154.74 502.81,154.42 503.23,154.79 503.64,155.81 504.05,157.03 504.46,157.85 504.88,157.91 505.29,157.33 505.70,156.58 506.12,156.17 506.53,156.23 506.94,156.51 507.36,156.56 507.78,156.04 508.21,155.06 508.63,154.09 509.06,153.65 509.48,153.92 509.91,154.62 510.33,155.25 510.76,155.43 511.18,155.19 511.60,154.86 512.01,154.83 512.43,155.21 512.83,155.81 513.24,156.26 513.63,156.28 514.02,155.88 514.41,155.29 514.78,154.78 515.24,154.53 515.70,154.66 516.15,154.83 516.59,154.72 517.02,154.28 517.45,153.72 517.87,153.34 518.29,153.29 518.70,153.49 519.10,153.75 519.50,153.90 519.89,153.88 520.27,153.75 520.65,153.64 521.02,153.64 521.38,153.74 521.86,153.97 522.32,154.12 522.78,154.06 523.22,153.78 523.65,153.35 524.07,152.86 524.47,152.33 524.87,151.79 525.25,151.21 525.63,150.61 525.99,149.97 526.34,149.26 526.83,148.10 527.28,146.86 527.69,145.58 528.09,144.28 528.47,142.97 528.85,141.60 529.24,140.09 529.64,138.32 530.05,136.02 530.46,133.10 530.88,129.78 531.29,126.37 531.70,123.07 532.11,120.00 532.53,117.07 532.94,114.04 533.33,111.00 533.69,108.16 534.03,105.57 534.38,103.02 534.76,100.18 535.18,97.50 535.67,96.61 536.24,96.59 536.56,94.98 536.91,92.14 537.27,89.83 537.66,89.91 538.06,92.14 538.47,94.18 538.90,93.98 539.34,91.69 539.78,88.81 540.22,86.67 540.67,85.84 541.11,85.89 541.56,85.75 541.99,84.66 542.42,82.79 542.84,81.07 543.26,80.15 543.68,79.17 544.10,76.24 544.53,72.06 544.96,70.16 545.39,71.77 545.82,73.88 546.25,73.50 546.67,70.32 547.09,66.04 547.50,63.46 547.91,64.20 548.31,66.86 548.70,68.91 549.08,69.76 549.45,70.44 549.92,72.16 550.39,73.70 550.84,73.61 551.28,71.94 551.71,70.06 552.13,69.39 552.53,70.32 552.93,71.44 553.31,70.24 553.69,66.23 554.05,62.18 554.40,61.28 554.88,65.92 555.30,71.86 555.68,76.17 556.05,79.07 556.41,80.29 556.80,78.68 557.22,74.32 557.70,71.15 558.05,72.89 558.41,77.84 558.78,83.76 559.17,88.45 559.56,91.15 559.97,92.32 560.39,92.81 560.82,93.68 561.26,94.83 561.71,98.59 562.17,102.48 562.65,104.86 563.01,105.24 563.39,105.08 563.76,105.40 564.15,106.74 564.54,108.78 564.93,110.70 565.34,111.87 565.75,112.01 566.16,111.28 566.58,110.50 567.01,111.06 567.45,112.47 567.89,114.58 568.34,116.70 568.79,118.05 569.25,118.47 569.63,118.53 570.01,118.77 570.40,119.33 570.80,120.03 571.20,121.48 571.61,122.66 572.02,123.22 572.44,123.45 572.85,123.79 573.28,124.49 573.70,125.51 574.13,126.52 574.55,127.22 574.98,127.52 575.40,128.24 575.83,129.47 576.25,130.82 576.67,132.21 577.09,133.44 577.51,134.34 577.92,134.77 578.33,134.94 578.74,135.02 579.16,135.15 579.57,135.34 579.98,135.57 580.40,135.76 580.81,135.86 581.22,135.86 581.63,135.77 582.05,135.59 582.46,135.34 582.87,135.03 583.28,134.69 583.70,134.66 584.11,135.22 584.52,135.82 584.93,136.21 585.35,136.43 585.76,136.58 586.17,136.84 586.59,137.29 587.00,137.87 587.41,138.41 587.82,138.70 588.24,138.65 588.65,138.34 589.06,137.97 589.47,137.68 589.89,137.44 590.30,137.03 590.71,136.14 591.12,134.65 591.54,132.70 591.95,130.65 592.36,128.84 592.78,128.12 593.19,128.01 593.60,127.73 594.01,126.96 594.43,125.72 594.84,124.32 595.25,123.16 595.66,122.36 596.08,121.69 596.49,122.48 596.90,122.51 597.31,121.67 597.73,120.31 598.14,119.01 598.55,118.26 598.97,118.08 599.38,117.85 599.79,116.73 600.20,114.32 600.62,110.92 601.03,107.46 601.44,107.54 601.85,110.42 602.27,113.67 602.68,115.80 603.11,116.14 603.54,115.15 603.97,113.83 604.41,112.97 604.85,112.48 605.29,111.42 605.73,108.67 606.16,103.95 606.60,98.09 607.03,92.41 607.46,87.54 607.88,82.95 608.29,77.92 608.69,73.00 609.08,71.80 609.46,70.58 609.83,69.07 610.18,70.56 610.52,72.48 611.05,77.53 611.54,82.89 611.99,85.38 612.42,85.17 612.82,84.34 613.20,84.27 613.58,85.16 613.94,86.47 614.31,87.33 614.68,87.00 615.07,85.26 615.47,82.59 615.87,80.16 616.26,78.85 616.63,78.56 617.00,78.61 617.37,78.02 617.74,75.84 618.13,71.74 618.53,66.80 618.95,66.17 619.41,68.17 619.90,71.90 620.42,76.17 620.76,78.48 621.12,79.95 621.48,83.02 621.86,86.88 622.26,91.16 622.66,95.91 623.07,100.42 623.49,103.79 623.91,105.62 624.34,106.28 624.78,106.67 625.22,107.54 625.66,108.95 626.10,110.35 626.54,111.12 626.97,111.10 627.41,112.67 627.84,115.86 628.26,118.88 628.68,121.66 629.09,124.04 629.50,125.88 629.90,126.97 630.30,127.29 630.70,127.19 631.10,127.20 631.50,127.48 631.90,127.95 632.30,128.43 632.70,128.85 633.10,129.28 633.51,129.88 633.92,131.05 634.33,133.07 634.75,135.22 635.17,137.32 635.60,139.24 636.04,141.11 636.48,142.95 636.93,144.56 637.31,145.79 637.70,146.94 638.09,148.03 638.49,149.04 638.89,149.98 639.29,150.87 639.70,151.68 640.11,152.45 640.52,153.22 640.94,154.06 641.36,155.06 641.78,156.21 642.20,157.43 642.62,158.58 643.05,159.55 643.47,160.37 643.90,161.18 644.32,162.15 644.74,163.31 645.16,164.55 645.59,165.60 646.00,166.29 646.42,166.63 646.83,166.86 647.25,167.21 647.65,167.79 648.06,168.48 648.47,169.03 648.87,169.21 649.27,169.01 649.67,168.65 650.07,168.49 650.48,168.77 650.88,169.46 651.28,170.29 651.68,170.90 652.09,171.11 652.49,171.02 652.90,170.96 653.32,171.28 653.73,172.01 654.15,172.87 654.57,173.34 654.99,173.11 655.42,172.24 655.86,171.24 656.29,170.67 656.74,170.74 657.12,171.06 657.50,171.24 657.88,171.01 658.26,170.42 658.64,169.77 659.02,169.49 659.40,169.83 659.78,170.72 660.16,171.78 660.54,172.54 660.93,172.65 661.32,172.16 661.71,171.43 662.10,170.92 662.50,170.88 662.91,171.16 663.32,171.30 663.73,170.81 664.16,169.62 664.58,168.16 665.02,167.12 665.46,167.02 665.91,167.72 666.37,168.55 666.84,168.79 667.31,168.34 667.80,167.86 668.29,168.11 668.65,168.81 669.03,169.65 669.42,170.17 669.82,169.96 670.23,169.01 670.66,167.80 671.10,166.98 671.54,166.91 672.00,167.33 672.46,167.53 672.93,167.04 673.40,166.08 673.88,165.40 674.36,165.63 674.85,166.61 675.33,167.54 675.82,167.69 676.30,167.09 676.79,166.43 677.27,166.38 677.75,166.93 678.22,167.46 678.69,167.37 679.15,166.59 679.60,165.65 680.05,165.10 680.48,165.15 680.91,165.51 681.32,165.76 681.72,165.60 682.10,165.10 682.48,164.54 682.83,164.19 683.17,164.19 683.49,164.47 683.80,164.90 684.08,165.30 684.34,165.57 684.58,165.69 684.80,165.69"/>
<polyline fill="none" stroke="#000" stroke-width="0.9" stroke-linejoin="round" points="437.20,52.92 437.50,56.38 437.92,61.38 438.40,66.76 438.85,71.33 439.24,74.78 439.62,77.74 440.03,80.46 440.50,83.15 440.83,84.88 441.14,86.44 441.48,87.96 441.88,89.56 442.36,91.33 442.98,93.33 443.29,94.31 443.63,95.34 444.00,96.43 444.39,97.57 444.80,98.74 445.22,99.94 445.66,101.17 446.11,102.42 446.56,103.67 447.01,104.92 447.46,106.17 447.90,107.40 448.33,108.61 448.75,109.79 449.17,110.96 449.58,112.12 449.99,113.29 450.41,114.45 450.82,115.62 451.23,116.78 451.64,117.94 452.06,119.09 452.47,120.25 452.88,121.39 453.29,122.53 453.71,123.67 454.12,124.80 454.53,125.92 454.94,127.04 455.36,128.17 455.77,129.31 456.18,130.45 456.60,131.59 457.01,132.72 457.42,133.84 457.83,134.94 458.25,136.03 458.66,137.10 459.07,138.14 459.48,139.15 459.90,140.12 460.31,141.06 460.72,141.96 461.13,142.85 461.55,143.70 461.96,144.54 462.37,145.35 462.79,146.14 463.20,146.90 463.61,147.64 464.02,148.36 464.44,149.05 464.85,149.72 465.26,150.37 465.67,150.99 466.09,151.59 466.50,152.17 466.92,152.71 467.34,153.24 467.76,153.74 468.18,154.21 468.61,154.66 469.03,155.09 469.45,155.50 469.86,155.88 470.27,156.25 470.68,156.59 471.08,156.92 471.48,157.23 471.86,157.52 472.30,157.83 472.71,158.10 473.10,158.34 473.48,158.55 473.86,158.74 474.24,158.89 474.62,159.04 475.01,159.18 475.42,159.28 475.86,159.35 476.32,159.38 476.82,159.38 477.17,159.36 477.55,159.35 477.95,159.38 478.36,159.44 478.79,159.52 479.23,159.55 479.68,159.45 480.13,159.18 480.58,158.81 481.03,158.44 481.48,158.25 481.92,158.35 482.35,158.73 482.77,159.29 483.17,159.85 483.55,160.24 483.91,160.38 484.24,160.29 484.79,159.77 485.27,159.25 485.70,159.09 486.09,159.43 486.46,160.26 486.82,161.49 487.18,162.98 487.55,164.54 487.94,165.97 488.37,167.05 488.75,167.59 489.13,167.84 489.51,167.93 489.90,168.01 490.29,168.21 490.69,168.61 491.10,169.23 491.52,170.01 491.95,170.82 492.39,171.55 492.85,172.12 493.32,172.52 493.69,172.75 494.06,172.98 494.43,173.22 494.82,173.50 495.21,173.80 495.61,174.10 496.01,174.39 496.42,174.70 496.83,175.06 497.26,175.53 497.68,176.12 498.12,176.83 498.56,177.53 499.01,178.05 499.46,178.24 499.93,178.01 500.30,177.57 500.68,177.02 501.06,176.51 501.44,176.22 501.83,176.26 502.23,176.68 502.63,177.41 503.03,178.27 503.44,179.05 503.85,179.53 504.26,179.60 504.68,179.27 505.10,178.71 505.53,178.13 505.96,177.77 506.40,177.77 506.84,178.12 507.28,178.66 507.73,179.16 508.18,179.38 508.56,179.28 508.96,178.92 509.36,178.42 509.77,177.93 510.19,177.64 510.62,177.62 511.05,177.88 511.48,178.31 511.92,178.73 512.36,179.02 512.79,179.10 513.23,179.02 513.67,178.86 514.11,178.73 514.54,178.67 514.96,178.66 515.39,178.62 515.80,178.47 516.21,178.19 516.60,177.81 516.99,177.41 517.37,177.09 517.73,176.94 518.08,176.99 518.59,177.38 519.09,177.96 519.57,178.45 520.04,178.61 520.50,178.38 520.95,177.88 521.38,177.29 521.80,176.82 522.20,176.58 522.60,176.57 522.98,176.72 523.34,176.89 523.70,176.96 524.04,176.83 524.37,176.49 524.69,175.94 525.24,174.60 525.70,173.32 526.09,172.24 526.44,171.33 526.77,170.51 527.12,169.76 527.52,169.01 527.99,168.13 528.34,167.29 528.70,166.15 529.07,164.71 529.45,163.03 529.85,161.26 530.26,159.51 530.67,157.89 531.10,156.44 531.55,155.09 532.00,153.75 532.46,152.31 532.94,150.75 533.31,149.52 533.69,148.31 534.07,147.19 534.47,146.23 534.88,145.43 535.29,144.74 535.71,144.03 536.14,143.21 536.56,142.18 536.99,140.98 537.42,139.68 537.85,138.38 538.28,137.21 538.70,136.20 539.13,135.31 539.54,134.46 539.95,133.55 540.37,132.49 540.78,131.32 541.19,130.13 541.60,129.06 542.02,128.21 542.43,127.65 542.84,127.32 543.26,127.07 543.67,126.70 544.08,126.05 544.49,125.07 544.91,123.82 545.32,122.49 545.73,121.31 546.14,120.48 546.56,119.90 546.97,119.73 547.38,119.81 547.79,119.89 548.21,119.70 548.62,119.05 549.03,118.00 549.45,116.84 549.86,115.91 550.27,115.50 550.68,115.72 551.10,116.45 551.51,117.40 551.92,118.17 552.33,118.38 552.75,117.83 553.16,116.51 553.57,114.69 553.98,112.75 554.40,111.10 554.81,110.05 555.22,109.70 555.64,109.91 556.05,110.33 556.46,110.44 556.87,109.70 557.29,107.98 557.70,105.62 558.11,103.19 558.52,101.13 558.94,99.67 559.35,99.07 559.76,99.56 560.17,101.04 560.59,102.92 561.00,104.06 561.41,104.57 561.83,104.50 562.24,103.92 562.65,102.90 563.06,101.59 563.48,100.61 563.89,99.64 564.30,98.78 564.71,98.13 565.13,97.82 565.54,97.88 565.95,98.29 566.36,98.84 566.78,99.24 567.19,99.78 567.60,100.59 568.02,100.52 568.43,99.51 568.84,97.65 569.25,95.24 569.67,92.83 570.08,91.11 570.49,90.50 570.90,90.88 571.32,93.43 571.73,97.36 572.14,100.97 572.55,103.98 572.96,106.12 573.37,107.30 573.77,107.82 574.17,108.23 574.56,109.04 574.96,110.40 575.35,112.11 575.75,113.71 576.15,114.59 576.56,114.22 576.97,112.22 577.39,108.54 577.82,103.44 578.25,97.66 578.70,91.96 579.16,86.91 579.53,87.63 579.91,89.13 580.29,90.91 580.68,95.08 581.07,100.12 581.46,104.25 581.86,107.37 582.26,109.65 582.67,111.46 583.08,113.01 583.49,114.33 583.91,115.34 584.33,116.08 584.76,116.65 585.19,117.01 585.63,116.94 586.07,116.25 586.51,114.97 586.96,113.25 587.41,112.60 587.79,114.28 588.18,115.61 588.57,116.54 588.97,117.07 589.37,117.27 589.77,117.24 590.18,117.07 590.59,116.78 591.00,116.29 591.42,115.38 591.84,113.79 592.26,111.27 592.68,107.71 593.10,103.16 593.53,97.80 593.95,93.07 594.38,91.32 594.80,90.02 595.22,89.47 595.64,92.77 596.07,97.56 596.48,101.88 596.90,105.64 597.31,109.00 597.73,112.03 598.15,114.60 598.56,116.59 598.98,118.02 599.41,118.96 599.83,119.36 600.25,119.01 600.68,117.75 601.10,115.55 601.52,112.56 601.95,109.10 602.37,105.47 602.79,101.92 603.21,98.51 603.63,97.31 604.04,98.65 604.45,99.42 604.86,99.44 605.26,98.69 605.66,97.30 606.06,95.40 606.45,93.19 606.84,90.96 607.22,89.02 607.67,91.76 608.11,94.53 608.55,96.08 608.97,96.04 609.40,94.89 609.82,93.44 610.23,92.18 610.64,91.17 611.05,90.41 611.45,89.96 611.85,93.60 612.25,98.24 612.65,102.42 613.05,105.68 613.45,107.74 613.85,108.55 614.25,108.30 614.65,107.33 615.06,106.00 615.47,104.63 615.88,103.33 616.30,102.03 616.71,100.52 617.12,98.53 617.54,95.85 617.95,92.34 618.36,87.84 618.77,82.38 619.19,76.34 619.60,70.49 620.01,69.74 620.42,69.91 620.84,71.94 621.25,75.78 621.66,79.41 622.07,83.42 622.49,87.99 622.90,92.52 623.31,96.16 623.73,98.40 624.14,99.26 624.54,99.00 624.95,97.98 625.35,96.52 625.75,95.01 626.15,93.77 626.55,92.98 626.95,92.61 627.35,92.43 627.75,92.48 628.15,95.89 628.56,98.28 628.97,99.43 629.38,99.43 629.80,98.65 630.22,97.55 630.65,96.44 631.09,95.35 631.53,94.27 631.98,93.29 632.36,92.47 632.74,91.15 633.13,88.62 633.51,84.46 633.91,79.03 634.30,75.93 634.70,75.31 635.10,75.99 635.50,77.68 635.90,81.06 636.31,87.89 636.72,94.18 637.14,99.52 637.56,103.60 637.98,106.37 638.40,108.04 638.82,109.07 639.25,109.89 639.68,110.62 640.12,111.35 640.55,111.93 640.99,112.01 641.44,111.22 641.88,109.37 642.27,106.97 642.66,103.96 643.05,100.47 643.45,96.67 643.85,92.82 644.25,92.97 644.66,94.08 645.06,95.60 645.47,96.88 645.89,97.30 646.30,96.75 646.72,95.72 647.14,94.78 647.56,94.77 647.98,97.10 648.40,98.85 648.82,99.97 649.24,100.68 649.67,101.22 650.09,101.75 650.51,102.31 650.93,102.89 651.35,103.37 651.77,103.58 652.19,104.73 652.61,106.51 653.02,107.57 653.44,108.07 653.85,108.28 654.26,108.51 654.68,108.98 655.09,109.68 655.50,110.35 655.91,110.63 656.33,110.26 656.74,109.27 657.15,107.84 657.56,106.08 657.98,104.02 658.39,101.85 658.80,100.09 659.21,99.37 659.63,99.96 660.04,101.49 660.45,104.25 660.87,106.28 661.28,107.93 661.69,108.28 662.10,107.74 662.52,106.85 662.93,106.15 663.34,106.11 663.75,106.93 664.17,108.50 664.58,110.45 664.99,112.30 665.41,113.58 665.83,114.02 666.25,113.58 666.67,112.51 667.10,111.20 667.53,110.06 667.96,109.31 668.39,109.54 668.82,110.61 669.25,111.95 669.69,113.33 670.12,114.36 670.55,114.67 670.98,114.21 671.40,113.30 671.83,112.41 672.25,111.83 672.66,111.55 673.08,111.44 673.49,111.40 673.89,111.42 674.29,111.56 674.68,112.49 675.07,113.43 675.45,114.28 675.82,114.94 676.19,115.32 676.55,115.94 677.04,116.35 677.54,116.22 678.04,115.91 678.54,115.87 679.04,116.43 679.53,117.60 680.01,119.02 680.48,120.17 680.94,120.65 681.40,120.38 681.83,119.58 682.25,118.57 682.65,117.64 683.03,116.97 683.39,116.66 683.73,116.70 684.04,117.00 684.32,117.42 684.58,118.24 684.80,118.93"/>
</svg></body></html>
